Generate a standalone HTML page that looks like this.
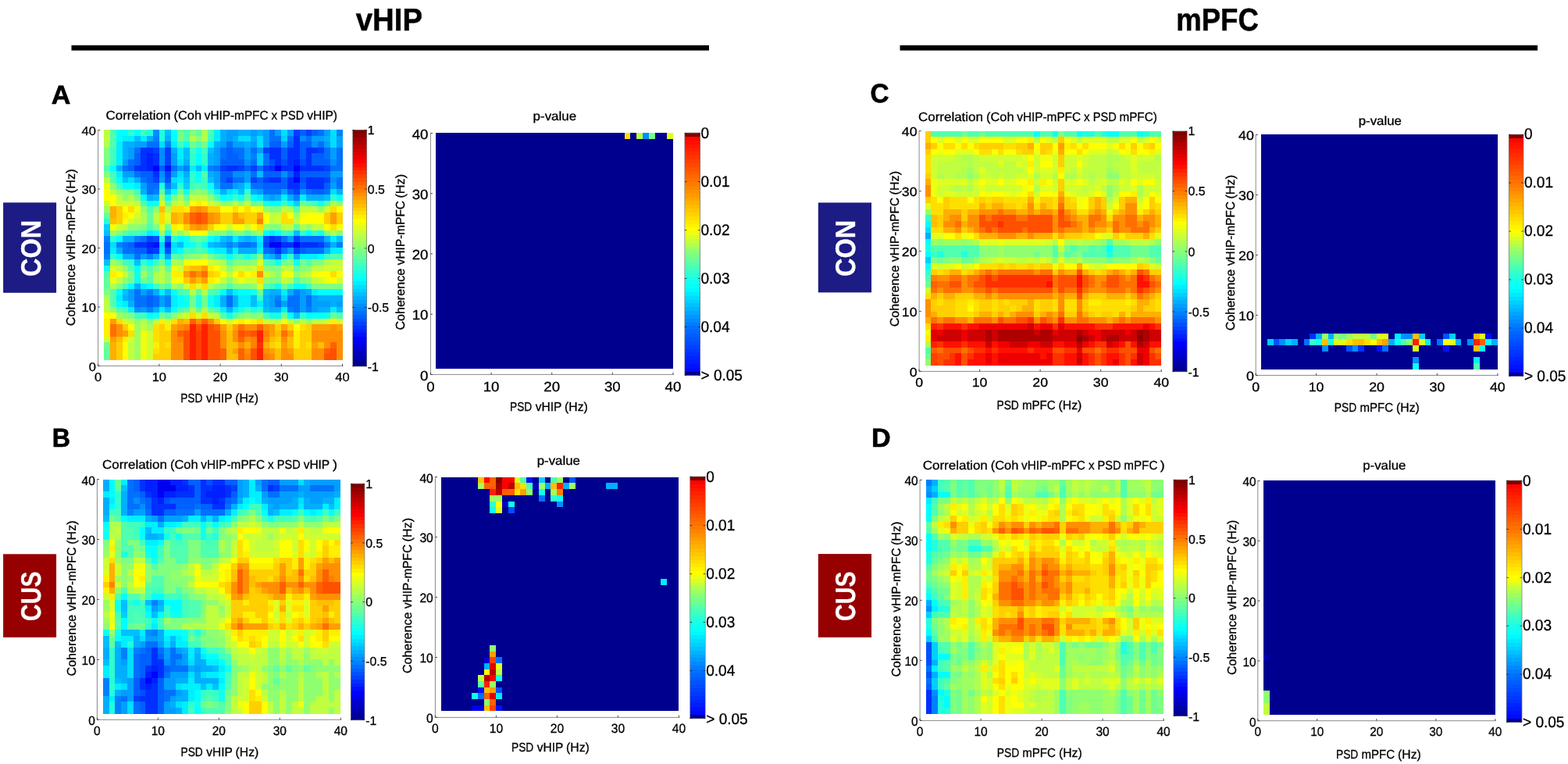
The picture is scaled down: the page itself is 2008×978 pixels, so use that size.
<!DOCTYPE html>
<html lang="en">
<head>
<meta charset="utf-8">
<title>Correlation between vHIP-mPFC coherence and PSD</title>
<style>
html,body{margin:0;padding:0;background:#fff;}
body{width:2008px;height:978px;overflow:hidden;}
svg{display:block;font-family:"Liberation Sans","DejaVu Sans",sans-serif;text-rendering:geometricPrecision;}
</style>
</head>
<body>
<svg width="2008" height="978" viewBox="0 0 2008 978">
<rect width="2008" height="978" fill="#fff"/>
<text x="455.81" y="38.5" font-size="40.5" textLength="85.26" lengthAdjust="spacingAndGlyphs" font-weight="bold" stroke="#000" stroke-width="0.5">vHIP</text>
<rect x="91.5" y="58" width="816.5" height="6.6" fill="#000"/>
<text x="1506.23" y="38.5" font-size="40.5" textLength="105.55" lengthAdjust="spacingAndGlyphs" font-weight="bold" stroke="#000" stroke-width="0.5">mPFC</text>
<rect x="1152.5" y="58" width="816.5" height="6.6" fill="#000"/>
<text x="65.75" y="132.5" font-size="33.8" textLength="24.68" lengthAdjust="spacingAndGlyphs" font-weight="bold" stroke="#000" stroke-width="0.7" stroke-linejoin="round">A</text>
<text x="66.68" y="571.5" font-size="33.8" textLength="23.26" lengthAdjust="spacingAndGlyphs" font-weight="bold" stroke="#000" stroke-width="0.7" stroke-linejoin="round">B</text>
<text x="1114.57" y="131" font-size="33.8" textLength="23.98" lengthAdjust="spacingAndGlyphs" font-weight="bold" stroke="#000" stroke-width="0.7" stroke-linejoin="round">C</text>
<text x="1116.1" y="571.5" font-size="33.8" textLength="24.64" lengthAdjust="spacingAndGlyphs" font-weight="bold" stroke="#000" stroke-width="0.7" stroke-linejoin="round">D</text>
<rect x="4.1" y="259.3" width="68" height="115.5" fill="#1c1c84"/>
<text x="50.3" y="352.7" font-size="35.8" textLength="72.18" lengthAdjust="spacingAndGlyphs" font-weight="bold" fill="#fff" stroke="#fff" stroke-width="0.3" transform="rotate(-90 51.6 352.7)">CON</text>
<rect x="4.1" y="709.3" width="68" height="106.6" fill="#960000"/>
<text x="50.4" y="793.7" font-size="35.8" textLength="63.37" lengthAdjust="spacingAndGlyphs" font-weight="bold" fill="#fff" stroke="#fff" stroke-width="0.3" transform="rotate(-90 51.6 793.7)">CUS</text>
<rect x="1047.8" y="259.4" width="68.2" height="115" fill="#1c1c84"/>
<text x="1094" y="352.7" font-size="35.8" textLength="72.18" lengthAdjust="spacingAndGlyphs" font-weight="bold" fill="#fff" stroke="#fff" stroke-width="0.3" transform="rotate(-90 1095.3 352.7)">CON</text>
<rect x="1047.8" y="709.1" width="68.2" height="106.8" fill="#960000"/>
<text x="1094.1" y="793.7" font-size="35.8" textLength="63.37" lengthAdjust="spacingAndGlyphs" font-weight="bold" fill="#fff" stroke="#fff" stroke-width="0.3" transform="rotate(-90 1095.3 793.7)">CUS</text>
<!-- A corr -->
<g transform="translate(133.05,166.2) scale(7.8321,7.5538)" shape-rendering="crispEdges">
<path fill="#0000ff" d="M8 6h1v1h-1zM28 6h1v1h-1zM31 6h1v1h-1zM31 8h1v1h-1zM27 19h2v1h-2zM31 19h1v1h-1z"/>
<path fill="#0010ff" d="M10 6h1v1h-1zM8 19h1v1h-1z"/>
<path fill="#0020ff" d="M7 4h1v1h-1zM7 5h1v1h-1zM31 5h1v1h-1zM7 6h1v1h-1zM31 7h1v1h-1zM7 19h1v1h-1zM10 19h1v1h-1z"/>
<path fill="#0030ff" d="M31 1h1v1h-1zM31 2h1v1h-1zM6 3h2v1h-2zM27 3h2v1h-2zM30 3h2v1h-2zM33 3h2v1h-2zM6 4h1v1h-1zM8 4h1v1h-1zM27 4h2v1h-2zM30 4h2v1h-2zM33 4h1v1h-1zM6 5h1v1h-1zM8 5h1v1h-1zM28 5h1v1h-1zM30 5h1v1h-1zM33 5h1v1h-1zM5 6h2v1h-2zM20 6h2v1h-2zM27 6h1v1h-1zM29 6h2v1h-2zM32 6h4v1h-4zM8 7h1v1h-1zM27 8h2v1h-2zM30 8h1v1h-1zM33 8h3v1h-3zM30 9h2v1h-2zM33 9h3v1h-3zM27 18h1v1h-1zM5 19h2v1h-2zM29 19h2v1h-2zM32 19h3v1h-3zM7 20h1v1h-1zM28 20h1v1h-1z"/>
<path fill="#0040ff" d="M31 0h1v1h-1zM33 0h1v1h-1zM8 3h1v1h-1zM10 3h1v1h-1zM26 3h1v1h-1zM35 3h1v1h-1zM10 4h1v1h-1zM10 5h1v1h-1zM19 6h1v1h-1zM22 6h1v1h-1zM24 6h1v1h-1zM26 6h1v1h-1zM36 6h1v1h-1zM10 7h1v1h-1zM8 8h1v1h-1zM20 8h1v1h-1zM24 8h1v1h-1zM26 8h1v1h-1zM36 8h1v1h-1zM31 10h1v1h-1zM7 18h1v1h-1zM28 18h1v1h-1zM31 18h1v1h-1zM26 19h1v1h-1zM35 19h1v1h-1zM8 20h1v1h-1zM31 20h1v1h-1z"/>
<path fill="#0050ff" d="M27 5h1v1h-1zM29 5h1v1h-1zM32 5h1v1h-1zM10 8h1v1h-1zM32 8h1v1h-1zM8 18h1v1h-1zM26 18h1v1h-1zM10 20h1v1h-1z"/>
<path fill="#0060ff" d="M32 0h1v1h-1zM34 0h1v1h-1zM27 2h2v1h-2zM30 2h1v1h-1zM32 2h2v1h-2zM20 3h1v1h-1zM29 3h1v1h-1zM32 3h1v1h-1zM5 4h1v1h-1zM20 4h2v1h-2zM29 4h1v1h-1zM32 4h1v1h-1zM34 4h2v1h-2zM5 5h1v1h-1zM19 5h4v1h-4zM34 5h3v1h-3zM4 6h1v1h-1zM9 6h1v1h-1zM23 6h1v1h-1zM6 7h2v1h-2zM19 7h2v1h-2zM26 7h3v1h-3zM30 7h1v1h-1zM32 7h5v1h-5zM7 8h1v1h-1zM19 8h1v1h-1zM25 8h1v1h-1zM29 8h1v1h-1zM26 9h4v1h-4zM32 9h1v1h-1zM36 9h1v1h-1zM30 10h1v1h-1zM34 10h2v1h-2zM10 18h1v1h-1zM4 19h1v1h-1zM5 20h2v1h-2zM27 20h1v1h-1zM32 20h1v1h-1zM7 28h1v1h-1zM7 29h1v1h-1z"/>
<path fill="#0070ff" d="M27 0h1v1h-1zM35 0h1v1h-1zM27 1h2v1h-2zM30 1h1v1h-1zM33 1h1v1h-1zM7 2h2v1h-2zM20 2h1v1h-1zM35 2h1v1h-1zM5 3h1v1h-1zM19 3h1v1h-1zM21 3h2v1h-2zM24 3h1v1h-1zM36 3h1v1h-1zM38 3h1v1h-1zM19 4h1v1h-1zM22 4h1v1h-1zM26 4h1v1h-1zM36 4h1v1h-1zM38 4h1v1h-1zM4 5h1v1h-1zM24 5h1v1h-1zM26 5h1v1h-1zM38 5h1v1h-1zM3 6h1v1h-1zM11 6h1v1h-1zM18 6h1v1h-1zM25 6h1v1h-1zM37 6h2v1h-2zM5 7h1v1h-1zM24 7h1v1h-1zM6 8h1v1h-1zM21 8h2v1h-2zM38 8h1v1h-1zM7 9h2v1h-2zM19 9h2v1h-2zM24 9h2v1h-2zM38 9h1v1h-1zM7 10h1v1h-1zM26 10h3v1h-3zM33 10h1v1h-1zM36 10h1v1h-1zM6 18h1v1h-1zM29 18h1v1h-1zM32 18h4v1h-4zM0 19h1v1h-1zM3 19h1v1h-1zM22 19h2v1h-2zM36 19h1v1h-1zM0 20h1v1h-1zM3 20h2v1h-2zM26 20h1v1h-1zM29 20h1v1h-1zM33 20h3v1h-3zM5 21h1v1h-1zM5 27h1v1h-1zM5 28h2v1h-2zM8 28h1v1h-1zM20 28h1v1h-1zM30 28h2v1h-2zM33 28h1v1h-1zM5 29h2v1h-2zM8 29h1v1h-1zM20 29h1v1h-1zM28 29h1v1h-1zM30 29h2v1h-2zM33 29h1v1h-1zM31 30h1v1h-1z"/>
<path fill="#0080ff" d="M38 0h1v1h-1zM8 1h1v1h-1zM10 2h1v1h-1zM24 4h1v1h-1zM13 6h1v1h-1zM17 6h1v1h-1zM10 9h1v1h-1zM8 10h1v1h-1zM31 11h1v1h-1zM0 18h1v1h-1zM5 18h1v1h-1zM2 19h1v1h-1zM20 19h1v1h-1zM24 19h1v1h-1zM38 19h1v1h-1zM0 21h1v1h-1zM7 21h1v1h-1zM28 21h1v1h-1zM7 27h1v1h-1zM31 27h1v1h-1zM10 28h1v1h-1zM28 28h1v1h-1zM10 29h1v1h-1zM7 30h1v1h-1zM30 30h1v1h-1zM33 30h1v1h-1z"/>
<path fill="#008fff" d="M8 0h1v1h-1zM32 1h1v1h-1zM34 2h1v1h-1zM9 3h1v1h-1zM9 4h1v1h-1zM9 5h1v1h-1zM23 5h1v1h-1zM37 5h1v1h-1zM9 7h1v1h-1zM21 7h2v1h-2zM29 7h1v1h-1zM37 8h1v1h-1zM32 10h1v1h-1zM5 30h1v1h-1z"/>
<path fill="#009fff" d="M20 0h2v1h-2zM24 0h1v1h-1zM26 0h1v1h-1zM28 0h1v1h-1zM30 0h1v1h-1zM36 0h1v1h-1zM20 1h1v1h-1zM26 1h1v1h-1zM34 1h2v1h-2zM38 1h1v1h-1zM5 2h2v1h-2zM19 2h1v1h-1zM21 2h2v1h-2zM24 2h1v1h-1zM26 2h1v1h-1zM29 2h1v1h-1zM36 2h1v1h-1zM38 2h1v1h-1zM4 3h1v1h-1zM18 3h1v1h-1zM23 3h1v1h-1zM25 3h1v1h-1zM37 3h1v1h-1zM4 4h1v1h-1zM11 4h1v1h-1zM18 4h1v1h-1zM23 4h1v1h-1zM37 4h1v1h-1zM3 5h1v1h-1zM11 5h1v1h-1zM18 5h1v1h-1zM12 6h1v1h-1zM3 7h2v1h-2zM11 7h1v1h-1zM18 7h1v1h-1zM23 7h1v1h-1zM37 7h2v1h-2zM9 8h1v1h-1zM18 8h1v1h-1zM23 8h1v1h-1zM6 9h1v1h-1zM21 9h1v1h-1zM37 9h1v1h-1zM25 10h1v1h-1zM29 10h1v1h-1zM27 11h1v1h-1zM30 18h1v1h-1zM19 19h1v1h-1zM21 19h1v1h-1zM30 20h1v1h-1zM6 21h1v1h-1zM10 21h1v1h-1zM4 27h1v1h-1zM6 27h1v1h-1zM32 27h1v1h-1zM4 28h1v1h-1zM9 28h1v1h-1zM27 28h1v1h-1zM32 28h1v1h-1zM34 28h1v1h-1zM9 29h1v1h-1zM27 29h1v1h-1zM29 29h1v1h-1zM32 29h1v1h-1zM34 29h3v1h-3zM38 29h1v1h-1zM6 30h1v1h-1zM32 30h1v1h-1zM34 30h1v1h-1z"/>
<path fill="#00afff" d="M19 0h1v1h-1zM22 0h2v1h-2zM25 0h1v1h-1zM7 1h1v1h-1zM10 1h1v1h-1zM19 1h1v1h-1zM21 1h1v1h-1zM24 1h1v1h-1zM36 1h1v1h-1zM3 2h2v1h-2zM18 2h1v1h-1zM23 2h1v1h-1zM3 3h1v1h-1zM11 3h1v1h-1zM3 4h1v1h-1zM17 4h1v1h-1zM13 5h1v1h-1zM17 5h1v1h-1zM2 6h1v1h-1zM13 7h1v1h-1zM17 7h1v1h-1zM5 8h1v1h-1zM18 9h1v1h-1zM22 9h1v1h-1zM6 10h1v1h-1zM19 10h1v1h-1zM24 10h1v1h-1zM38 10h1v1h-1zM7 11h1v1h-1zM26 11h1v1h-1zM28 11h1v1h-1zM30 11h1v1h-1zM33 11h3v1h-3zM3 18h2v1h-2zM20 18h1v1h-1zM23 18h1v1h-1zM36 18h1v1h-1zM18 19h1v1h-1zM37 19h1v1h-1zM2 20h1v1h-1zM20 20h1v1h-1zM22 20h3v1h-3zM36 20h1v1h-1zM3 21h2v1h-2zM8 21h1v1h-1zM27 21h1v1h-1zM31 21h1v1h-1zM5 26h1v1h-1zM8 27h1v1h-1zM27 27h2v1h-2zM30 27h1v1h-1zM33 27h1v1h-1zM3 28h1v1h-1zM19 28h1v1h-1zM21 28h1v1h-1zM26 28h1v1h-1zM35 28h4v1h-4zM4 29h1v1h-1zM19 29h1v1h-1zM21 29h1v1h-1zM26 29h1v1h-1zM37 29h1v1h-1zM8 30h1v1h-1zM20 30h1v1h-1zM27 30h2v1h-2zM35 30h2v1h-2z"/>
<path fill="#00bfff" d="M10 0h1v1h-1zM5 1h1v1h-1zM13 3h1v1h-1zM17 3h1v1h-1zM13 4h1v1h-1zM15 6h1v1h-1zM25 7h1v1h-1zM3 8h1v1h-1zM13 8h1v1h-1zM17 8h1v1h-1zM11 9h1v1h-1zM10 10h1v1h-1zM22 10h1v1h-1zM8 11h1v1h-1zM36 11h1v1h-1zM0 17h1v1h-1zM31 17h1v1h-1zM19 18h1v1h-1zM22 18h1v1h-1zM24 18h1v1h-1zM38 18h1v1h-1zM12 19h1v1h-1zM17 19h1v1h-1zM26 21h1v1h-1zM0 22h1v1h-1zM5 22h1v1h-1zM3 27h1v1h-1zM10 27h1v1h-1zM20 27h1v1h-1zM26 27h1v1h-1zM24 28h1v1h-1zM24 29h1v1h-1zM10 30h1v1h-1zM26 30h1v1h-1zM38 30h1v1h-1zM31 31h1v1h-1z"/>
<path fill="#00cfff" d="M29 1h1v1h-1zM25 4h1v1h-1zM25 5h1v1h-1zM13 9h1v1h-1zM31 12h1v1h-1zM0 16h1v1h-1zM9 19h1v1h-1zM29 28h1v1h-1z"/>
<path fill="#00dfff" d="M29 0h1v1h-1zM37 0h1v1h-1zM22 1h2v1h-2zM25 1h1v1h-1zM37 1h1v1h-1zM9 2h1v1h-1zM25 2h1v1h-1zM37 2h1v1h-1zM12 5h1v1h-1zM12 7h1v1h-1zM4 8h1v1h-1zM11 8h1v1h-1zM23 9h1v1h-1zM20 10h1v1h-1zM37 10h1v1h-1zM1 19h1v1h-1zM11 19h1v1h-1zM25 19h1v1h-1zM9 20h1v1h-1z"/>
<path fill="#00efff" d="M18 0h1v1h-1zM3 1h2v1h-2zM6 1h1v1h-1zM18 1h1v1h-1zM2 2h1v1h-1zM11 2h1v1h-1zM2 3h1v1h-1zM12 3h1v1h-1zM2 4h1v1h-1zM12 4h1v1h-1zM2 5h1v1h-1zM14 6h1v1h-1zM16 6h1v1h-1zM2 7h1v1h-1zM12 8h1v1h-1zM5 9h1v1h-1zM18 10h1v1h-1zM21 10h1v1h-1zM25 11h1v1h-1zM29 11h1v1h-1zM32 11h1v1h-1zM7 17h1v1h-1zM27 17h1v1h-1zM18 18h1v1h-1zM21 18h1v1h-1zM25 18h1v1h-1zM37 18h1v1h-1zM1 20h1v1h-1zM11 20h1v1h-1zM18 20h2v1h-2zM21 20h1v1h-1zM25 20h1v1h-1zM37 20h2v1h-2zM29 21h1v1h-1zM32 21h3v1h-3zM6 26h1v1h-1zM9 27h1v1h-1zM21 27h1v1h-1zM29 27h1v1h-1zM34 27h1v1h-1zM2 28h1v1h-1zM11 28h1v1h-1zM18 28h1v1h-1zM22 28h2v1h-2zM3 29h1v1h-1zM11 29h1v1h-1zM18 29h1v1h-1zM22 29h2v1h-2zM25 29h1v1h-1zM4 30h1v1h-1zM9 30h1v1h-1zM19 30h1v1h-1zM21 30h1v1h-1zM29 30h1v1h-1zM37 30h1v1h-1z"/>
<path fill="#00ffff" d="M2 0h2v1h-2zM5 0h1v1h-1zM11 0h1v1h-1zM2 1h1v1h-1zM11 1h1v1h-1zM17 2h1v1h-1zM15 4h1v1h-1zM15 5h1v1h-1zM1 6h1v1h-1zM15 7h1v1h-1zM2 8h1v1h-1zM3 9h2v1h-2zM17 9h1v1h-1zM11 10h1v1h-1zM6 11h1v1h-1zM19 11h1v1h-1zM24 11h1v1h-1zM38 11h1v1h-1zM7 12h1v1h-1zM27 12h2v1h-2zM30 12h1v1h-1zM8 17h1v1h-1zM26 17h1v1h-1zM28 17h1v1h-1zM33 17h1v1h-1zM2 18h1v1h-1zM12 18h1v1h-1zM17 18h1v1h-1zM13 19h1v1h-1zM16 19h1v1h-1zM12 20h1v1h-1zM17 20h1v1h-1zM2 21h1v1h-1zM20 21h1v1h-1zM35 21h1v1h-1zM7 22h1v1h-1zM5 23h1v1h-1zM4 26h1v1h-1zM7 26h1v1h-1zM31 26h2v1h-2zM2 27h1v1h-1zM11 27h1v1h-1zM19 27h1v1h-1zM22 27h2v1h-2zM35 27h4v1h-4zM12 28h1v1h-1zM2 29h1v1h-1zM12 29h1v1h-1zM11 30h1v1h-1zM7 31h1v1h-1zM30 31h1v1h-1zM33 31h3v1h-3z"/>
<path fill="#10ffef" d="M13 2h1v1h-1zM15 3h1v1h-1zM15 8h1v1h-1zM13 10h1v1h-1zM10 11h1v1h-1zM20 11h1v1h-1zM22 11h1v1h-1zM8 12h1v1h-1zM26 12h1v1h-1zM35 12h1v1h-1zM10 17h1v1h-1zM35 17h1v1h-1zM13 18h1v1h-1zM14 19h1v1h-1zM23 21h1v1h-1zM10 22h1v1h-1zM28 22h1v1h-1zM31 22h1v1h-1zM0 23h1v1h-1zM5 24h1v1h-1zM5 25h1v1h-1zM28 26h1v1h-1zM24 27h1v1h-1zM13 28h1v1h-1zM17 28h1v1h-1zM13 29h1v1h-1zM17 29h1v1h-1zM22 30h1v1h-1zM24 30h1v1h-1zM8 31h1v1h-1zM20 31h1v1h-1zM27 31h2v1h-2zM36 31h1v1h-1z"/>
<path fill="#20ffdf" d="M7 0h1v1h-1zM9 0h1v1h-1zM9 1h1v1h-1zM9 9h1v1h-1zM0 15h1v1h-1zM9 18h1v1h-1zM9 21h1v1h-1zM15 28h1v1h-1zM15 29h1v1h-1z"/>
<path fill="#30ffcf" d="M4 0h1v1h-1zM14 4h1v1h-1zM16 4h1v1h-1zM14 5h1v1h-1zM16 5h1v1h-1zM14 7h1v1h-1zM14 8h1v1h-1zM12 9h1v1h-1zM23 10h1v1h-1zM37 11h1v1h-1zM6 17h1v1h-1zM30 17h1v1h-1zM32 17h1v1h-1zM34 17h1v1h-1zM1 18h1v1h-1zM11 18h1v1h-1zM1 21h1v1h-1zM30 21h1v1h-1zM4 22h1v1h-1zM6 22h1v1h-1zM25 28h1v1h-1zM25 30h1v1h-1zM32 31h1v1h-1z"/>
<path fill="#40ffbf" d="M6 0h1v1h-1zM17 1h1v1h-1zM12 2h1v1h-1zM1 3h1v1h-1zM14 3h1v1h-1zM16 3h1v1h-1zM1 4h1v1h-1zM1 5h1v1h-1zM1 7h1v1h-1zM16 8h1v1h-1zM2 9h1v1h-1zM14 9h1v1h-1zM16 9h1v1h-1zM5 10h1v1h-1zM17 10h1v1h-1zM21 11h1v1h-1zM29 12h1v1h-1zM34 12h1v1h-1zM4 17h2v1h-2zM29 17h1v1h-1zM15 19h1v1h-1zM13 20h2v1h-2zM16 20h1v1h-1zM19 21h1v1h-1zM21 21h2v1h-2zM24 21h1v1h-1zM36 21h1v1h-1zM3 22h1v1h-1zM8 22h1v1h-1zM27 22h1v1h-1zM3 26h1v1h-1zM8 26h1v1h-1zM27 26h1v1h-1zM30 26h1v1h-1zM33 26h1v1h-1zM12 27h1v1h-1zM18 27h1v1h-1zM3 30h1v1h-1zM12 30h1v1h-1zM18 30h1v1h-1zM23 30h1v1h-1zM5 31h2v1h-2zM26 31h1v1h-1z"/>
<path fill="#50ffaf" d="M1 0h1v1h-1zM13 0h1v1h-1zM17 0h1v1h-1zM1 1h1v1h-1zM13 1h1v1h-1zM1 2h1v1h-1zM15 2h1v1h-1zM0 6h1v1h-1zM16 7h1v1h-1zM1 8h1v1h-1zM15 9h1v1h-1zM18 11h1v1h-1zM6 12h1v1h-1zM33 12h1v1h-1zM36 12h1v1h-1zM7 13h1v1h-1zM31 13h1v1h-1zM7 16h1v1h-1zM3 17h1v1h-1zM20 17h1v1h-1zM23 17h1v1h-1zM14 18h1v1h-1zM16 18h1v1h-1zM15 20h1v1h-1zM12 21h1v1h-1zM18 21h1v1h-1zM37 21h2v1h-2zM20 22h1v1h-1zM26 22h1v1h-1zM33 22h1v1h-1zM4 23h1v1h-1zM7 23h1v1h-1zM0 24h1v1h-1zM7 25h1v1h-1zM31 25h1v1h-1zM10 26h1v1h-1zM20 26h1v1h-1zM26 26h1v1h-1zM1 27h1v1h-1zM13 27h1v1h-1zM17 27h1v1h-1zM1 28h1v1h-1zM1 29h1v1h-1zM2 30h1v1h-1zM10 31h1v1h-1zM19 31h1v1h-1zM21 31h1v1h-1zM38 31h1v1h-1z"/>
<path fill="#60ff9f" d="M15 0h1v1h-1zM9 10h1v1h-1zM13 11h1v1h-1zM10 12h1v1h-1zM24 12h1v1h-1zM0 14h1v1h-1zM7 14h1v1h-1zM7 15h1v1h-1zM31 16h1v1h-1zM15 18h1v1h-1zM11 21h1v1h-1zM10 23h1v1h-1zM31 23h1v1h-1zM7 24h1v1h-1zM0 25h1v1h-1zM0 26h1v1h-1zM15 27h1v1h-1zM13 30h1v1h-1zM15 30h1v1h-1zM17 30h1v1h-1zM0 37h1v1h-1zM0 38h1v1h-1z"/>
<path fill="#70ff8f" d="M12 0h1v1h-1zM12 1h1v1h-1zM14 2h1v1h-1zM16 2h1v1h-1zM12 10h1v1h-1zM23 11h1v1h-1zM25 12h1v1h-1zM32 12h1v1h-1zM10 16h1v1h-1zM9 22h1v1h-1zM29 22h1v1h-1zM32 22h1v1h-1zM6 23h1v1h-1zM4 25h1v1h-1zM6 25h1v1h-1zM9 26h1v1h-1zM29 26h1v1h-1zM25 27h1v1h-1zM14 28h1v1h-1zM16 28h1v1h-1zM14 29h1v1h-1zM16 29h1v1h-1zM9 31h1v1h-1zM29 31h1v1h-1zM37 31h1v1h-1zM0 36h1v1h-1z"/>
<path fill="#80ff80" d="M14 0h1v1h-1zM0 3h1v1h-1zM0 4h1v1h-1zM0 5h1v1h-1zM0 7h1v1h-1zM3 10h2v1h-2zM14 10h1v1h-1zM16 10h1v1h-1zM5 11h1v1h-1zM11 11h1v1h-1zM27 13h2v1h-2zM6 16h1v1h-1zM8 16h1v1h-1zM27 16h2v1h-2zM2 17h1v1h-1zM18 17h2v1h-2zM21 17h2v1h-2zM24 17h1v1h-1zM36 17h1v1h-1zM38 17h1v1h-1zM13 21h1v1h-1zM17 21h1v1h-1zM2 22h1v1h-1zM21 22h3v1h-3zM30 22h1v1h-1zM34 22h2v1h-2zM8 23h1v1h-1zM27 23h2v1h-2zM32 23h1v1h-1zM4 24h1v1h-1zM27 25h2v1h-2zM32 25h1v1h-1zM2 26h1v1h-1zM19 26h1v1h-1zM21 26h3v1h-3zM34 26h5v1h-5zM0 27h1v1h-1zM4 31h1v1h-1zM22 31h1v1h-1zM24 31h1v1h-1zM7 32h1v1h-1z"/>
<path fill="#8fff70" d="M15 1h1v1h-1zM1 9h1v1h-1zM2 10h1v1h-1zM15 10h1v1h-1zM3 11h1v1h-1zM17 11h1v1h-1zM19 12h2v1h-2zM22 12h1v1h-1zM38 12h1v1h-1zM6 13h1v1h-1zM8 13h1v1h-1zM26 13h1v1h-1zM35 13h1v1h-1zM4 16h2v1h-2zM26 16h1v1h-1zM33 16h1v1h-1zM12 17h1v1h-1zM17 17h1v1h-1zM14 21h2v1h-2zM25 21h1v1h-1zM24 22h1v1h-1zM3 23h1v1h-1zM20 23h1v1h-1zM26 23h1v1h-1zM33 23h1v1h-1zM10 24h1v1h-1zM28 24h1v1h-1zM31 24h1v1h-1zM3 25h1v1h-1zM10 25h1v1h-1zM20 25h1v1h-1zM26 25h1v1h-1zM33 25h1v1h-1zM12 26h1v1h-1zM18 26h1v1h-1zM24 26h1v1h-1zM1 30h1v1h-1zM3 31h1v1h-1zM11 31h1v1h-1zM23 31h1v1h-1zM25 31h1v1h-1zM5 32h1v1h-1zM31 32h1v1h-1zM33 32h1v1h-1z"/>
<path fill="#9fff60" d="M9 11h1v1h-1zM13 12h1v1h-1zM0 13h1v1h-1zM31 14h1v1h-1zM1 17h1v1h-1zM9 17h1v1h-1zM25 17h1v1h-1zM1 22h1v1h-1zM12 22h1v1h-1zM6 24h1v1h-1zM2 31h1v1h-1zM5 33h1v1h-1zM7 33h1v1h-1zM5 34h1v1h-1zM5 35h1v1h-1zM5 36h1v1h-1zM5 37h1v1h-1zM5 38h1v1h-1z"/>
<path fill="#afff50" d="M16 0h1v1h-1zM14 1h1v1h-1zM16 1h1v1h-1zM0 2h1v1h-1zM4 11h1v1h-1zM12 11h1v1h-1zM37 12h1v1h-1zM10 13h1v1h-1zM30 13h1v1h-1zM6 14h1v1h-1zM6 15h1v1h-1zM32 16h1v1h-1zM11 17h1v1h-1zM37 17h1v1h-1zM16 21h1v1h-1zM11 22h1v1h-1zM19 22h1v1h-1zM36 22h1v1h-1zM9 23h1v1h-1zM8 24h1v1h-1zM27 24h1v1h-1zM32 24h1v1h-1zM8 25h1v1h-1zM30 25h1v1h-1zM1 26h1v1h-1zM11 26h1v1h-1zM14 27h1v1h-1zM16 27h1v1h-1zM0 28h1v1h-1zM14 30h1v1h-1zM16 30h1v1h-1zM6 32h1v1h-1z"/>
<path fill="#bfff40" d="M0 0h1v1h-1zM0 1h1v1h-1zM0 8h1v1h-1zM1 10h1v1h-1zM2 11h1v1h-1zM14 11h3v1h-3zM5 12h1v1h-1zM11 12h1v1h-1zM18 12h1v1h-1zM21 12h1v1h-1zM23 12h1v1h-1zM29 13h1v1h-1zM32 13h3v1h-3zM8 14h1v1h-1zM27 14h1v1h-1zM5 15h1v1h-1zM8 15h1v1h-1zM27 15h1v1h-1zM31 15h1v1h-1zM3 16h1v1h-1zM29 16h2v1h-2zM34 16h2v1h-2zM13 17h1v1h-1zM18 22h1v1h-1zM37 22h2v1h-2zM2 23h1v1h-1zM21 23h1v1h-1zM23 23h1v1h-1zM29 23h2v1h-2zM34 23h2v1h-2zM3 24h1v1h-1zM9 24h1v1h-1zM20 24h1v1h-1zM33 24h1v1h-1zM2 25h1v1h-1zM9 25h1v1h-1zM19 25h1v1h-1zM21 25h1v1h-1zM29 25h1v1h-1zM34 25h1v1h-1zM17 26h1v1h-1zM0 29h1v1h-1zM0 30h1v1h-1zM12 31h1v1h-1zM18 31h1v1h-1zM4 32h1v1h-1zM8 32h1v1h-1zM27 32h2v1h-2zM30 32h1v1h-1zM32 32h1v1h-1zM34 32h2v1h-2zM6 33h1v1h-1zM4 36h1v1h-1zM4 37h1v1h-1zM4 38h1v1h-1z"/>
<path fill="#cfff30" d="M0 12h1v1h-1zM2 12h3v1h-3zM12 12h1v1h-1zM17 12h1v1h-1zM36 13h1v1h-1zM5 14h1v1h-1zM28 14h1v1h-1zM4 15h1v1h-1zM10 15h1v1h-1zM28 15h1v1h-1zM2 16h1v1h-1zM20 16h1v1h-1zM23 16h1v1h-1zM17 22h1v1h-1zM12 23h1v1h-1zM19 23h1v1h-1zM22 23h1v1h-1zM24 23h1v1h-1zM36 23h3v1h-3zM26 24h1v1h-1zM23 25h2v1h-2zM35 25h1v1h-1zM38 25h1v1h-1zM13 26h1v1h-1zM13 31h1v1h-1zM17 31h1v1h-1zM3 32h1v1h-1zM10 32h1v1h-1zM20 32h1v1h-1zM26 32h1v1h-1zM36 32h1v1h-1zM38 32h1v1h-1zM7 34h1v1h-1zM0 35h1v1h-1zM4 35h1v1h-1zM7 35h1v1h-1zM7 36h1v1h-1zM7 37h1v1h-1zM7 38h1v1h-1z"/>
<path fill="#dfff20" d="M9 12h1v1h-1zM10 14h1v1h-1zM9 16h1v1h-1zM25 22h1v1h-1zM1 23h1v1h-1zM15 26h1v1h-1zM25 26h1v1h-1zM15 31h1v1h-1z"/>
<path fill="#efff10" d="M0 9h1v1h-1zM5 13h1v1h-1zM25 13h1v1h-1zM32 14h1v1h-1zM16 17h1v1h-1zM13 22h1v1h-1zM11 23h1v1h-1zM29 24h2v1h-2zM34 24h1v1h-1zM1 25h1v1h-1zM11 25h1v1h-1zM22 25h1v1h-1zM36 25h1v1h-1zM29 32h1v1h-1zM6 34h1v1h-1zM6 35h1v1h-1zM6 36h1v1h-1zM6 37h1v1h-1zM6 38h1v1h-1z"/>
<path fill="#ffff00" d="M0 10h1v1h-1zM0 11h2v1h-2zM1 12h1v1h-1zM14 12h1v1h-1zM16 12h1v1h-1zM3 13h1v1h-1zM19 13h2v1h-2zM22 13h1v1h-1zM24 13h1v1h-1zM38 13h1v1h-1zM4 14h1v1h-1zM26 14h1v1h-1zM30 14h1v1h-1zM33 14h3v1h-3zM3 15h1v1h-1zM26 15h1v1h-1zM32 15h4v1h-4zM1 16h1v1h-1zM12 16h1v1h-1zM18 16h2v1h-2zM21 16h2v1h-2zM24 16h1v1h-1zM36 16h1v1h-1zM38 16h1v1h-1zM14 17h2v1h-2zM14 22h3v1h-3zM18 23h1v1h-1zM2 24h1v1h-1zM19 24h1v1h-1zM21 24h1v1h-1zM23 24h1v1h-1zM35 24h2v1h-2zM38 24h1v1h-1zM12 25h1v1h-1zM18 25h1v1h-1zM37 25h1v1h-1zM0 31h2v1h-2zM19 32h1v1h-1zM21 32h1v1h-1zM23 32h1v1h-1zM4 33h1v1h-1zM31 33h1v1h-1zM3 36h1v1h-1zM3 37h1v1h-1zM3 38h1v1h-1z"/>
<path fill="#ffef00" d="M15 12h1v1h-1zM13 13h1v1h-1zM3 14h1v1h-1zM11 16h1v1h-1zM17 23h1v1h-1zM1 24h1v1h-1zM11 24h2v1h-2zM24 24h1v1h-1zM17 25h1v1h-1zM0 32h1v1h-1zM9 32h1v1h-1zM22 32h1v1h-1zM24 32h1v1h-1zM37 32h1v1h-1zM0 33h1v1h-1zM10 33h1v1h-1zM0 34h1v1h-1zM31 34h1v1h-1zM3 35h1v1h-1zM31 35h1v1h-1zM8 36h1v1h-1zM31 36h1v1h-1z"/>
<path fill="#ffdf00" d="M4 13h1v1h-1zM11 13h2v1h-2zM21 13h1v1h-1zM23 13h1v1h-1zM37 13h1v1h-1zM9 14h1v1h-1zM29 14h1v1h-1zM9 15h1v1h-1zM29 15h2v1h-2zM25 16h1v1h-1zM37 16h1v1h-1zM25 23h1v1h-1zM18 24h1v1h-1zM22 24h1v1h-1zM37 24h1v1h-1zM25 25h1v1h-1zM14 26h1v1h-1zM16 26h1v1h-1zM14 31h1v1h-1zM16 31h1v1h-1zM2 32h1v1h-1zM11 32h1v1h-1zM25 32h1v1h-1zM8 33h1v1h-1zM32 33h1v1h-1zM4 34h1v1h-1zM8 34h1v1h-1zM8 35h1v1h-1zM10 36h1v1h-1zM28 36h1v1h-1zM33 36h1v1h-1zM8 37h1v1h-1z"/>
<path fill="#ffcf00" d="M2 13h1v1h-1zM17 13h2v1h-2zM2 14h1v1h-1zM19 14h2v1h-2zM23 14h2v1h-2zM36 14h1v1h-1zM38 14h1v1h-1zM2 15h1v1h-1zM19 15h2v1h-2zM23 15h2v1h-2zM36 15h1v1h-1zM38 15h1v1h-1zM13 16h1v1h-1zM17 16h1v1h-1zM13 23h1v1h-1zM17 24h1v1h-1zM13 25h1v1h-1zM18 32h1v1h-1zM3 33h1v1h-1zM9 33h1v1h-1zM20 33h1v1h-1zM28 33h1v1h-1zM30 33h1v1h-1zM33 33h1v1h-1zM9 34h2v1h-2zM32 34h2v1h-2zM9 35h2v1h-2zM28 35h1v1h-1zM32 35h2v1h-2zM2 36h1v1h-1zM9 36h1v1h-1zM27 36h1v1h-1zM32 36h1v1h-1zM2 37h1v1h-1zM9 37h2v1h-2zM31 37h3v1h-3zM2 38h1v1h-1zM8 38h3v1h-3zM31 38h3v1h-3z"/>
<path fill="#ffbf00" d="M9 13h1v1h-1zM12 14h1v1h-1zM22 14h1v1h-1zM1 15h1v1h-1zM12 15h1v1h-1zM14 23h2v1h-2zM15 25h1v1h-1zM13 32h1v1h-1zM20 34h1v1h-1zM28 34h1v1h-1zM2 35h1v1h-1zM20 35h1v1h-1zM27 35h1v1h-1zM30 35h1v1h-1zM20 36h2v1h-2zM30 36h1v1h-1zM35 36h1v1h-1zM20 37h1v1h-1zM28 37h1v1h-1zM20 38h2v1h-2zM28 38h1v1h-1z"/>
<path fill="#ffaf00" d="M1 13h1v1h-1zM1 14h1v1h-1zM11 14h1v1h-1zM11 15h1v1h-1zM12 32h1v1h-1zM1 36h1v1h-1zM23 36h1v1h-1zM26 36h1v1h-1zM1 37h1v1h-1zM1 38h1v1h-1z"/>
<path fill="#ff9f00" d="M14 13h1v1h-1zM16 13h1v1h-1zM18 14h1v1h-1zM21 14h1v1h-1zM25 14h1v1h-1zM37 14h1v1h-1zM18 15h1v1h-1zM21 15h2v1h-2zM37 15h1v1h-1zM14 16h1v1h-1zM16 16h1v1h-1zM16 23h1v1h-1zM13 24h1v1h-1zM14 25h1v1h-1zM16 25h1v1h-1zM1 32h1v1h-1zM11 33h1v1h-1zM19 33h1v1h-1zM21 33h1v1h-1zM27 33h1v1h-1zM29 33h1v1h-1zM34 33h3v1h-3zM38 33h1v1h-1zM3 34h1v1h-1zM27 34h1v1h-1zM30 34h1v1h-1zM1 35h1v1h-1zM29 36h1v1h-1zM34 36h1v1h-1zM21 37h1v1h-1zM27 37h1v1h-1zM30 37h1v1h-1z"/>
<path fill="#ff8f00" d="M15 13h1v1h-1zM13 14h1v1h-1zM17 14h1v1h-1zM13 15h1v1h-1zM17 15h1v1h-1zM15 16h1v1h-1zM15 24h1v1h-1zM25 24h1v1h-1zM15 32h1v1h-1zM17 32h1v1h-1zM2 33h1v1h-1zM12 33h1v1h-1zM23 33h2v1h-2zM26 33h1v1h-1zM37 33h1v1h-1zM2 34h1v1h-1zM11 34h1v1h-1zM19 34h1v1h-1zM21 34h1v1h-1zM34 34h5v1h-5zM11 35h1v1h-1zM19 35h1v1h-1zM21 35h1v1h-1zM23 35h1v1h-1zM26 35h1v1h-1zM29 35h1v1h-1zM34 35h5v1h-5zM11 36h2v1h-2zM19 36h1v1h-1zM22 36h1v1h-1zM36 36h1v1h-1zM38 36h1v1h-1zM11 37h2v1h-2zM23 37h1v1h-1zM26 37h1v1h-1zM29 37h1v1h-1zM34 37h2v1h-2zM38 37h1v1h-1zM11 38h2v1h-2zM27 38h1v1h-1zM29 38h2v1h-2zM34 38h2v1h-2zM38 38h1v1h-1z"/>
<path fill="#ff8000" d="M25 15h1v1h-1zM13 33h1v1h-1zM26 34h1v1h-1zM12 35h1v1h-1zM24 35h1v1h-1zM24 36h1v1h-1zM23 38h1v1h-1zM26 38h1v1h-1z"/>
<path fill="#ff7000" d="M14 24h1v1h-1zM16 24h1v1h-1zM1 33h1v1h-1zM22 33h1v1h-1zM1 34h1v1h-1zM29 34h1v1h-1z"/>
<path fill="#ff6000" d="M14 14h1v1h-1zM16 14h1v1h-1zM14 15h1v1h-1zM16 15h1v1h-1zM14 32h1v1h-1zM16 32h1v1h-1zM18 33h1v1h-1zM25 33h1v1h-1zM12 34h1v1h-1zM23 34h1v1h-1zM22 35h1v1h-1zM37 36h1v1h-1zM19 37h1v1h-1zM22 37h1v1h-1zM36 37h1v1h-1zM19 38h1v1h-1zM22 38h1v1h-1z"/>
<path fill="#ff5000" d="M15 14h1v1h-1zM15 15h1v1h-1zM15 33h1v1h-1zM17 33h1v1h-1zM13 34h1v1h-1zM17 34h2v1h-2zM22 34h1v1h-1zM24 34h1v1h-1zM13 35h1v1h-1zM17 35h2v1h-2zM13 36h1v1h-1zM17 36h2v1h-2zM13 37h1v1h-1zM17 37h2v1h-2zM24 37h1v1h-1zM37 37h1v1h-1zM13 38h1v1h-1zM17 38h2v1h-2zM24 38h1v1h-1zM36 38h2v1h-2z"/>
<path fill="#ff4000" d="M15 34h1v1h-1zM15 35h1v1h-1zM15 36h1v1h-1zM15 37h1v1h-1zM15 38h1v1h-1z"/>
<path fill="#ff3000" d="M25 36h1v1h-1z"/>
<path fill="#ff2000" d="M14 33h1v1h-1zM16 33h1v1h-1zM14 34h1v1h-1zM16 34h1v1h-1zM25 34h1v1h-1zM14 35h1v1h-1zM16 35h1v1h-1zM25 35h1v1h-1zM14 36h1v1h-1zM16 36h1v1h-1zM14 37h1v1h-1zM16 37h1v1h-1zM25 37h1v1h-1zM14 38h1v1h-1zM16 38h1v1h-1zM25 38h1v1h-1z"/>
</g>
<path d="M125.6 166.3V468.4H439.5" fill="none" stroke="#8a8a8a" stroke-width="1"/>
<path d="M125.6 468.4v-2.6M125.6 468.4h2.6M203.82 468.4v-2.6M125.6 392.95h2.6M282.05 468.4v-2.6M125.6 317.5h2.6M360.27 468.4v-2.6M125.6 242.05h2.6M438.5 468.4v-2.6M125.6 166.6h2.6" stroke="#333" stroke-width="0.9" fill="none"/>
<text x="125.6" y="488.1" font-size="15.5" text-anchor="middle" textLength="9.16" lengthAdjust="spacingAndGlyphs" stroke="#000" stroke-width="0.3">0</text>
<text x="122.84" y="474.75" font-size="15.5" text-anchor="end" textLength="9.16" lengthAdjust="spacingAndGlyphs" stroke="#000" stroke-width="0.3">0</text>
<text x="203.82" y="488.1" font-size="15.5" text-anchor="middle" textLength="18.33" lengthAdjust="spacingAndGlyphs" stroke="#000" stroke-width="0.3">10</text>
<text x="122.84" y="399.3" font-size="15.5" text-anchor="end" textLength="18.33" lengthAdjust="spacingAndGlyphs" stroke="#000" stroke-width="0.3">10</text>
<text x="282.05" y="488.1" font-size="15.5" text-anchor="middle" textLength="18.33" lengthAdjust="spacingAndGlyphs" stroke="#000" stroke-width="0.3">20</text>
<text x="122.84" y="323.85" font-size="15.5" text-anchor="end" textLength="18.33" lengthAdjust="spacingAndGlyphs" stroke="#000" stroke-width="0.3">20</text>
<text x="360.27" y="488.1" font-size="15.5" text-anchor="middle" textLength="18.33" lengthAdjust="spacingAndGlyphs" stroke="#000" stroke-width="0.3">30</text>
<text x="122.84" y="248.4" font-size="15.5" text-anchor="end" textLength="18.33" lengthAdjust="spacingAndGlyphs" stroke="#000" stroke-width="0.3">30</text>
<text x="438.5" y="488.1" font-size="15.5" text-anchor="middle" textLength="18.33" lengthAdjust="spacingAndGlyphs" stroke="#000" stroke-width="0.3">40</text>
<text x="122.84" y="172.95" font-size="15.5" text-anchor="end" textLength="18.33" lengthAdjust="spacingAndGlyphs" stroke="#000" stroke-width="0.3">40</text>
<g shape-rendering="crispEdges">
<rect x="451.5" y="166.35" width="18" height="5.03" fill="#800000"/>
<rect x="451.5" y="171.08" width="18" height="5.03" fill="#8f0000"/>
<rect x="451.5" y="175.81" width="18" height="5.03" fill="#9f0000"/>
<rect x="451.5" y="180.54" width="18" height="5.03" fill="#af0000"/>
<rect x="451.5" y="185.27" width="18" height="5.03" fill="#bf0000"/>
<rect x="451.5" y="189.99" width="18" height="5.03" fill="#cf0000"/>
<rect x="451.5" y="194.72" width="18" height="5.03" fill="#df0000"/>
<rect x="451.5" y="199.45" width="18" height="5.03" fill="#ef0000"/>
<rect x="451.5" y="204.18" width="18" height="5.03" fill="#ff0000"/>
<rect x="451.5" y="208.91" width="18" height="5.03" fill="#ff1000"/>
<rect x="451.5" y="213.64" width="18" height="5.03" fill="#ff2000"/>
<rect x="451.5" y="218.37" width="18" height="5.03" fill="#ff3000"/>
<rect x="451.5" y="223.1" width="18" height="5.03" fill="#ff4000"/>
<rect x="451.5" y="227.83" width="18" height="5.03" fill="#ff5000"/>
<rect x="451.5" y="232.55" width="18" height="5.03" fill="#ff6000"/>
<rect x="451.5" y="237.28" width="18" height="5.03" fill="#ff7000"/>
<rect x="451.5" y="242.01" width="18" height="5.03" fill="#ff8000"/>
<rect x="451.5" y="246.74" width="18" height="5.03" fill="#ff8f00"/>
<rect x="451.5" y="251.47" width="18" height="5.03" fill="#ff9f00"/>
<rect x="451.5" y="256.2" width="18" height="5.03" fill="#ffaf00"/>
<rect x="451.5" y="260.93" width="18" height="5.03" fill="#ffbf00"/>
<rect x="451.5" y="265.66" width="18" height="5.03" fill="#ffcf00"/>
<rect x="451.5" y="270.39" width="18" height="5.03" fill="#ffdf00"/>
<rect x="451.5" y="275.11" width="18" height="5.03" fill="#ffef00"/>
<rect x="451.5" y="279.84" width="18" height="5.03" fill="#ffff00"/>
<rect x="451.5" y="284.57" width="18" height="5.03" fill="#efff10"/>
<rect x="451.5" y="289.3" width="18" height="5.03" fill="#dfff20"/>
<rect x="451.5" y="294.03" width="18" height="5.03" fill="#cfff30"/>
<rect x="451.5" y="298.76" width="18" height="5.03" fill="#bfff40"/>
<rect x="451.5" y="303.49" width="18" height="5.03" fill="#afff50"/>
<rect x="451.5" y="308.22" width="18" height="5.03" fill="#9fff60"/>
<rect x="451.5" y="312.95" width="18" height="5.03" fill="#8fff70"/>
<rect x="451.5" y="317.67" width="18" height="5.03" fill="#80ff80"/>
<rect x="451.5" y="322.4" width="18" height="5.03" fill="#70ff8f"/>
<rect x="451.5" y="327.13" width="18" height="5.03" fill="#60ff9f"/>
<rect x="451.5" y="331.86" width="18" height="5.03" fill="#50ffaf"/>
<rect x="451.5" y="336.59" width="18" height="5.03" fill="#40ffbf"/>
<rect x="451.5" y="341.32" width="18" height="5.03" fill="#30ffcf"/>
<rect x="451.5" y="346.05" width="18" height="5.03" fill="#20ffdf"/>
<rect x="451.5" y="350.78" width="18" height="5.03" fill="#10ffef"/>
<rect x="451.5" y="355.51" width="18" height="5.03" fill="#00ffff"/>
<rect x="451.5" y="360.24" width="18" height="5.03" fill="#00efff"/>
<rect x="451.5" y="364.96" width="18" height="5.03" fill="#00dfff"/>
<rect x="451.5" y="369.69" width="18" height="5.03" fill="#00cfff"/>
<rect x="451.5" y="374.42" width="18" height="5.03" fill="#00bfff"/>
<rect x="451.5" y="379.15" width="18" height="5.03" fill="#00afff"/>
<rect x="451.5" y="383.88" width="18" height="5.03" fill="#009fff"/>
<rect x="451.5" y="388.61" width="18" height="5.03" fill="#008fff"/>
<rect x="451.5" y="393.34" width="18" height="5.03" fill="#0080ff"/>
<rect x="451.5" y="398.07" width="18" height="5.03" fill="#0070ff"/>
<rect x="451.5" y="402.8" width="18" height="5.03" fill="#0060ff"/>
<rect x="451.5" y="407.52" width="18" height="5.03" fill="#0050ff"/>
<rect x="451.5" y="412.25" width="18" height="5.03" fill="#0040ff"/>
<rect x="451.5" y="416.98" width="18" height="5.03" fill="#0030ff"/>
<rect x="451.5" y="421.71" width="18" height="5.03" fill="#0020ff"/>
<rect x="451.5" y="426.44" width="18" height="5.03" fill="#0010ff"/>
<rect x="451.5" y="431.17" width="18" height="5.03" fill="#0000ff"/>
<rect x="451.5" y="435.9" width="18" height="5.03" fill="#0000ef"/>
<rect x="451.5" y="440.63" width="18" height="5.03" fill="#0000df"/>
<rect x="451.5" y="445.36" width="18" height="5.03" fill="#0000cf"/>
<rect x="451.5" y="450.08" width="18" height="5.03" fill="#0000bf"/>
<rect x="451.5" y="454.81" width="18" height="5.03" fill="#0000af"/>
<rect x="451.5" y="459.54" width="18" height="5.03" fill="#00009f"/>
<rect x="451.5" y="464.27" width="18" height="5.03" fill="#00008f"/>
</g>
<rect x="451.5" y="166.35" width="18" height="302.65" fill="none" stroke="#777" stroke-width="0.7"/>
<text x="470.87" y="172.1" font-size="15.9" textLength="8.8" lengthAdjust="spacingAndGlyphs" stroke="#000" stroke-width="0.3">1</text>
<text x="470.87" y="247.8" font-size="15.9" textLength="21.99" lengthAdjust="spacingAndGlyphs" stroke="#000" stroke-width="0.3">0.5</text>
<text x="470.87" y="323.5" font-size="15.9" textLength="8.8" lengthAdjust="spacingAndGlyphs" stroke="#000" stroke-width="0.3">0</text>
<text x="470.87" y="399.2" font-size="15.9" textLength="27.26" lengthAdjust="spacingAndGlyphs" stroke="#000" stroke-width="0.3">-0.5</text>
<text x="470.87" y="474.9" font-size="15.9" textLength="14.07" lengthAdjust="spacingAndGlyphs" stroke="#000" stroke-width="0.3">-1</text>
<path d="M451.5 166.75h2.6M469.5 166.75h-2.6M451.5 242.05h2.6M469.5 242.05h-2.6M451.5 317.75h2.6M469.5 317.75h-2.6M451.5 393.45h2.6M469.5 393.45h-2.6M451.5 468.6h2.6M469.5 468.6h-2.6" stroke="#222" stroke-width="0.8" fill="none"/>
<g font-size="16" stroke="#000" stroke-width="0.3"><text x="135.45" y="153.4" textLength="83.03" lengthAdjust="spacingAndGlyphs">Correlation</text> <text x="222.47" y="153.4" textLength="35.55" lengthAdjust="spacingAndGlyphs">(Coh</text> <text x="261.76" y="153.4" textLength="81.82" lengthAdjust="spacingAndGlyphs">vHIP-mPFC</text> <text x="347.61" y="153.4" textLength="7.58" lengthAdjust="spacingAndGlyphs">x</text> <text x="359.3" y="153.4" textLength="29.87" lengthAdjust="spacingAndGlyphs">PSD</text> <text x="393.16" y="153.4" textLength="38.87" lengthAdjust="spacingAndGlyphs">vHIP)</text></g>
<g font-size="16" stroke="#000" stroke-width="0.3"><text x="231.17" y="514.7" textLength="28.27" lengthAdjust="spacingAndGlyphs">PSD</text> <text x="263.96" y="514.7" textLength="33.54" lengthAdjust="spacingAndGlyphs">vHIP</text> <text x="301.22" y="514.7" textLength="29.74" lengthAdjust="spacingAndGlyphs">(Hz)</text></g>
<g font-size="16" stroke="#000" stroke-width="0.3" transform="rotate(-90 96 416.5)"><text x="95.19" y="416.5" textLength="79.23" lengthAdjust="spacingAndGlyphs">Coherence</text> <text x="179.06" y="416.5" textLength="82.73" lengthAdjust="spacingAndGlyphs">vHIP-mPFC</text> <text x="265.28" y="416.5" textLength="30.81" lengthAdjust="spacingAndGlyphs">(Hz)</text></g>
<!-- A p -->
<g transform="translate(558,170.05) scale(7.7949,7.7321)" shape-rendering="crispEdges">
<rect width="39" height="39" fill="#00008f"/>
<path fill="#008fff" d="M34 0h1v1h-1z"/>
<path fill="#70ff8f" d="M35 0h1v1h-1z"/>
<path fill="#bfff40" d="M33 0h1v1h-1z"/>
<path fill="#dfff20" d="M38 0h1v1h-1z"/>
<path fill="#ffdf00" d="M31 0h1v1h-1z"/>
</g>
<path d="M551.4 170.2V479.4H863" fill="none" stroke="#8a8a8a" stroke-width="1"/>
<path d="M551.4 479.4v-2.6M551.4 479.4h2.6M629.05 479.4v-2.6M551.4 402.17h2.6M706.7 479.4v-2.6M551.4 324.95h2.6M784.35 479.4v-2.6M551.4 247.72h2.6M862 479.4v-2.6M551.4 170.5h2.6" stroke="#333" stroke-width="0.9" fill="none"/>
<text x="551.4" y="500.8" font-size="17.6" text-anchor="middle" textLength="10.38" lengthAdjust="spacingAndGlyphs" stroke="#000" stroke-width="0.3">0</text>
<text x="548.42" y="486.7" font-size="17.6" text-anchor="end" textLength="10.38" lengthAdjust="spacingAndGlyphs" stroke="#000" stroke-width="0.3">0</text>
<text x="629.05" y="500.8" font-size="17.6" text-anchor="middle" textLength="20.76" lengthAdjust="spacingAndGlyphs" stroke="#000" stroke-width="0.3">10</text>
<text x="548.42" y="409.47" font-size="17.6" text-anchor="end" textLength="20.76" lengthAdjust="spacingAndGlyphs" stroke="#000" stroke-width="0.3">10</text>
<text x="706.7" y="500.8" font-size="17.6" text-anchor="middle" textLength="20.76" lengthAdjust="spacingAndGlyphs" stroke="#000" stroke-width="0.3">20</text>
<text x="548.42" y="332.25" font-size="17.6" text-anchor="end" textLength="20.76" lengthAdjust="spacingAndGlyphs" stroke="#000" stroke-width="0.3">20</text>
<text x="784.35" y="500.8" font-size="17.6" text-anchor="middle" textLength="20.76" lengthAdjust="spacingAndGlyphs" stroke="#000" stroke-width="0.3">30</text>
<text x="548.42" y="255.03" font-size="17.6" text-anchor="end" textLength="20.76" lengthAdjust="spacingAndGlyphs" stroke="#000" stroke-width="0.3">30</text>
<text x="862" y="500.8" font-size="17.6" text-anchor="middle" textLength="20.76" lengthAdjust="spacingAndGlyphs" stroke="#000" stroke-width="0.3">40</text>
<text x="548.42" y="177.8" font-size="17.6" text-anchor="end" textLength="20.76" lengthAdjust="spacingAndGlyphs" stroke="#000" stroke-width="0.3">40</text>
<g shape-rendering="crispEdges">
<rect x="876.85" y="170.1" width="19.65" height="5.15" fill="#800000"/>
<rect x="876.85" y="174.95" width="19.65" height="5.15" fill="#ff0500"/>
<rect x="876.85" y="179.8" width="19.65" height="5.15" fill="#ff0f00"/>
<rect x="876.85" y="184.65" width="19.65" height="5.15" fill="#ff1800"/>
<rect x="876.85" y="189.5" width="19.65" height="5.15" fill="#ff2200"/>
<rect x="876.85" y="194.35" width="19.65" height="5.15" fill="#ff2c00"/>
<rect x="876.85" y="199.2" width="19.65" height="5.15" fill="#ff3500"/>
<rect x="876.85" y="204.06" width="19.65" height="5.15" fill="#ff3f00"/>
<rect x="876.85" y="208.91" width="19.65" height="5.15" fill="#ff4900"/>
<rect x="876.85" y="213.76" width="19.65" height="5.15" fill="#ff5300"/>
<rect x="876.85" y="218.61" width="19.65" height="5.15" fill="#ff5c00"/>
<rect x="876.85" y="223.46" width="19.65" height="5.15" fill="#ff6600"/>
<rect x="876.85" y="228.31" width="19.65" height="5.15" fill="#ff7000"/>
<rect x="876.85" y="233.16" width="19.65" height="5.15" fill="#ff7a00"/>
<rect x="876.85" y="238.01" width="19.65" height="5.15" fill="#ff8500"/>
<rect x="876.85" y="242.86" width="19.65" height="5.15" fill="#ff9000"/>
<rect x="876.85" y="247.71" width="19.65" height="5.15" fill="#ff9b00"/>
<rect x="876.85" y="252.56" width="19.65" height="5.15" fill="#ffa600"/>
<rect x="876.85" y="257.41" width="19.65" height="5.15" fill="#ffb100"/>
<rect x="876.85" y="262.26" width="19.65" height="5.15" fill="#ffbc00"/>
<rect x="876.85" y="267.12" width="19.65" height="5.15" fill="#ffc700"/>
<rect x="876.85" y="271.97" width="19.65" height="5.15" fill="#ffd200"/>
<rect x="876.85" y="276.82" width="19.65" height="5.15" fill="#ffdd00"/>
<rect x="876.85" y="281.67" width="19.65" height="5.15" fill="#ffe800"/>
<rect x="876.85" y="286.52" width="19.65" height="5.15" fill="#fff300"/>
<rect x="876.85" y="291.37" width="19.65" height="5.15" fill="#fffe00"/>
<rect x="876.85" y="296.22" width="19.65" height="5.15" fill="#edff12"/>
<rect x="876.85" y="301.07" width="19.65" height="5.15" fill="#d9ff26"/>
<rect x="876.85" y="305.92" width="19.65" height="5.15" fill="#c5ff3a"/>
<rect x="876.85" y="310.77" width="19.65" height="5.15" fill="#b1ff4e"/>
<rect x="876.85" y="315.62" width="19.65" height="5.15" fill="#9dff62"/>
<rect x="876.85" y="320.47" width="19.65" height="5.15" fill="#89ff76"/>
<rect x="876.85" y="325.33" width="19.65" height="5.15" fill="#78ff87"/>
<rect x="876.85" y="330.18" width="19.65" height="5.15" fill="#68ff97"/>
<rect x="876.85" y="335.03" width="19.65" height="5.15" fill="#58ffa7"/>
<rect x="876.85" y="339.88" width="19.65" height="5.15" fill="#48ffb7"/>
<rect x="876.85" y="344.73" width="19.65" height="5.15" fill="#38ffc7"/>
<rect x="876.85" y="349.58" width="19.65" height="5.15" fill="#28ffd7"/>
<rect x="876.85" y="354.43" width="19.65" height="5.15" fill="#19ffe6"/>
<rect x="876.85" y="359.28" width="19.65" height="5.15" fill="#0ffff0"/>
<rect x="876.85" y="364.13" width="19.65" height="5.15" fill="#05fffa"/>
<rect x="876.85" y="368.98" width="19.65" height="5.15" fill="#00f8ff"/>
<rect x="876.85" y="373.83" width="19.65" height="5.15" fill="#00eaff"/>
<rect x="876.85" y="378.68" width="19.65" height="5.15" fill="#00dcff"/>
<rect x="876.85" y="383.53" width="19.65" height="5.15" fill="#00cfff"/>
<rect x="876.85" y="388.39" width="19.65" height="5.15" fill="#00c1ff"/>
<rect x="876.85" y="393.24" width="19.65" height="5.15" fill="#00b3ff"/>
<rect x="876.85" y="398.09" width="19.65" height="5.15" fill="#00a5ff"/>
<rect x="876.85" y="402.94" width="19.65" height="5.15" fill="#0098ff"/>
<rect x="876.85" y="407.79" width="19.65" height="5.15" fill="#008aff"/>
<rect x="876.85" y="412.64" width="19.65" height="5.15" fill="#007cff"/>
<rect x="876.85" y="417.49" width="19.65" height="5.15" fill="#0070ff"/>
<rect x="876.85" y="422.34" width="19.65" height="5.15" fill="#0067ff"/>
<rect x="876.85" y="427.19" width="19.65" height="5.15" fill="#005dff"/>
<rect x="876.85" y="432.04" width="19.65" height="5.15" fill="#0054ff"/>
<rect x="876.85" y="436.89" width="19.65" height="5.15" fill="#004bff"/>
<rect x="876.85" y="441.74" width="19.65" height="5.15" fill="#0041ff"/>
<rect x="876.85" y="446.59" width="19.65" height="5.15" fill="#0038ff"/>
<rect x="876.85" y="451.45" width="19.65" height="5.15" fill="#002fff"/>
<rect x="876.85" y="456.3" width="19.65" height="5.15" fill="#0025ff"/>
<rect x="876.85" y="461.15" width="19.65" height="5.15" fill="#001cff"/>
<rect x="876.85" y="466" width="19.65" height="5.15" fill="#0013ff"/>
<rect x="876.85" y="470.85" width="19.65" height="5.15" fill="#000aff"/>
<rect x="876.85" y="475.7" width="19.65" height="5.15" fill="#00008f"/>
</g>
<rect x="876.85" y="170.1" width="19.65" height="310.45" fill="none" stroke="#777" stroke-width="0.7"/>
<text x="897.49" y="176.9" font-size="19.8" textLength="10.59" lengthAdjust="spacingAndGlyphs" stroke="#000" stroke-width="0.3">0</text>
<text x="897.49" y="238.84" font-size="19.8" textLength="37.07" lengthAdjust="spacingAndGlyphs" stroke="#000" stroke-width="0.3">0.01</text>
<text x="897.49" y="300.78" font-size="19.8" textLength="37.07" lengthAdjust="spacingAndGlyphs" stroke="#000" stroke-width="0.3">0.02</text>
<text x="897.49" y="362.72" font-size="19.8" textLength="37.07" lengthAdjust="spacingAndGlyphs" stroke="#000" stroke-width="0.3">0.03</text>
<text x="897.49" y="424.66" font-size="19.8" textLength="37.07" lengthAdjust="spacingAndGlyphs" stroke="#000" stroke-width="0.3">0.04</text>
<text x="897.49" y="486.6" font-size="19.8" textLength="53.49" lengthAdjust="spacingAndGlyphs" stroke="#000" stroke-width="0.3">&gt; 0.05</text>
<path d="M876.85 170.7h2.6M896.5 170.7h-2.6M876.85 232.64h2.6M896.5 232.64h-2.6M876.85 294.58h2.6M896.5 294.58h-2.6M876.85 356.52h2.6M896.5 356.52h-2.6M876.85 418.46h2.6M896.5 418.46h-2.6M876.85 480.15h2.6M896.5 480.15h-2.6" stroke="#222" stroke-width="0.8" fill="none"/>
<text x="682.6" y="153.8" font-size="16" textLength="55.56" lengthAdjust="spacingAndGlyphs" stroke="#000" stroke-width="0.3">p-value</text>
<g font-size="16" stroke="#000" stroke-width="0.3"><text x="652.97" y="526.3" textLength="28.27" lengthAdjust="spacingAndGlyphs">PSD</text> <text x="685.76" y="526.3" textLength="33.54" lengthAdjust="spacingAndGlyphs">vHIP</text> <text x="723.02" y="526.3" textLength="29.74" lengthAdjust="spacingAndGlyphs">(Hz)</text></g>
<g font-size="16" stroke="#000" stroke-width="0.3" transform="rotate(-90 518 421.8)"><text x="517.2" y="421.8" textLength="78.76" lengthAdjust="spacingAndGlyphs">Coherence</text> <text x="600.56" y="421.8" textLength="82.23" lengthAdjust="spacingAndGlyphs">vHIP-mPFC</text> <text x="686.26" y="421.8" textLength="30.63" lengthAdjust="spacingAndGlyphs">(Hz)</text></g>
<!-- B corr -->
<g transform="translate(131.7,613.8) scale(7.8103,7.6885)" shape-rendering="crispEdges">
<path fill="#0000ef" d="M9 0h2v1h-2zM9 1h3v1h-3z"/>
<path fill="#0000ff" d="M9 2h1v1h-1zM8 32h1v1h-1zM7 33h1v1h-1z"/>
<path fill="#0020ff" d="M7 0h2v1h-2zM11 0h2v1h-2zM7 1h2v1h-2zM12 1h2v1h-2zM18 1h2v1h-2zM8 2h1v1h-1zM10 2h2v1h-2zM17 2h3v1h-3zM9 3h1v1h-1zM18 3h1v1h-1zM8 31h1v1h-1zM7 32h1v1h-1zM8 33h1v1h-1zM7 34h1v1h-1z"/>
<path fill="#0030ff" d="M6 0h1v1h-1zM13 0h1v1h-1zM16 0h1v1h-1zM18 0h2v1h-2zM6 1h1v1h-1zM14 1h1v1h-1zM16 1h2v1h-2zM20 1h1v1h-1zM27 1h1v1h-1zM7 2h1v1h-1zM12 2h3v1h-3zM16 2h1v1h-1zM20 2h1v1h-1zM8 3h1v1h-1zM16 3h2v1h-2zM19 3h1v1h-1zM8 4h4v1h-4zM18 4h2v1h-2zM8 5h2v1h-2zM8 28h1v1h-1zM8 29h1v1h-1zM8 30h2v1h-2zM7 31h1v1h-1zM9 31h1v1h-1zM9 32h1v1h-1zM6 33h1v1h-1zM6 34h1v1h-1zM8 34h1v1h-1zM7 35h2v1h-2zM6 36h3v1h-3zM7 37h2v1h-2zM7 38h2v1h-2z"/>
<path fill="#0040ff" d="M21 1h1v1h-1zM28 1h1v1h-1zM5 36h1v1h-1z"/>
<path fill="#0050ff" d="M17 0h1v1h-1zM10 3h1v1h-1zM6 35h1v1h-1z"/>
<path fill="#0060ff" d="M5 0h1v1h-1zM14 0h2v1h-2zM20 0h2v1h-2zM27 0h2v1h-2zM5 1h1v1h-1zM15 1h1v1h-1zM6 2h1v1h-1zM15 2h1v1h-1zM21 2h1v1h-1zM7 3h1v1h-1zM11 3h5v1h-5zM20 3h1v1h-1zM7 4h1v1h-1zM12 4h3v1h-3zM16 4h2v1h-2zM10 5h2v1h-2zM7 28h1v1h-1zM6 29h2v1h-2zM9 29h1v1h-1zM6 30h2v1h-2zM6 31h1v1h-1zM10 31h1v1h-1zM6 32h1v1h-1zM5 33h1v1h-1zM9 33h1v1h-1zM5 34h1v1h-1zM9 34h1v1h-1zM5 35h1v1h-1zM9 35h1v1h-1zM9 36h1v1h-1zM6 37h1v1h-1zM9 37h1v1h-1zM6 38h1v1h-1zM9 38h1v1h-1z"/>
<path fill="#0070ff" d="M4 0h1v1h-1zM26 0h1v1h-1zM4 1h1v1h-1zM26 1h1v1h-1zM29 1h3v1h-3zM34 1h4v1h-4zM4 2h2v1h-2zM27 2h2v1h-2zM4 3h1v1h-1zM6 3h1v1h-1zM21 3h1v1h-1zM4 4h2v1h-2zM15 4h1v1h-1zM20 4h1v1h-1zM7 5h1v1h-1zM12 5h3v1h-3zM16 5h4v1h-4zM9 6h1v1h-1zM7 27h2v1h-2zM6 28h1v1h-1zM9 28h1v1h-1zM11 28h1v1h-1zM5 29h1v1h-1zM11 29h2v1h-2zM5 30h1v1h-1zM11 30h1v1h-1zM5 31h1v1h-1zM11 31h3v1h-3zM5 32h1v1h-1zM10 32h1v1h-1zM10 35h2v1h-2zM3 36h1v1h-1zM10 36h1v1h-1zM5 37h1v1h-1zM5 38h1v1h-1z"/>
<path fill="#0080ff" d="M4 5h1v1h-1zM8 20h1v1h-1zM8 25h1v1h-1zM3 28h1v1h-1zM5 28h1v1h-1zM3 29h1v1h-1zM0 33h1v1h-1zM0 34h1v1h-1zM0 35h1v1h-1zM2 36h1v1h-1zM2 37h1v1h-1zM2 38h1v1h-1z"/>
<path fill="#008fff" d="M5 3h1v1h-1zM6 4h1v1h-1zM7 25h1v1h-1zM10 30h1v1h-1zM12 30h1v1h-1z"/>
<path fill="#009fff" d="M22 0h1v1h-1zM25 0h1v1h-1zM29 0h3v1h-3zM34 0h5v1h-5zM22 1h1v1h-1zM32 1h2v1h-2zM38 1h1v1h-1zM22 2h1v1h-1zM26 2h1v1h-1zM29 2h3v1h-3zM33 2h5v1h-5zM27 3h4v1h-4zM34 3h2v1h-2zM28 4h1v1h-1zM5 5h2v1h-2zM15 5h1v1h-1zM8 6h1v1h-1zM10 6h3v1h-3zM8 21h1v1h-1zM7 26h2v1h-2zM6 27h1v1h-1zM9 27h1v1h-1zM10 28h1v1h-1zM12 28h1v1h-1zM10 29h1v1h-1zM13 29h1v1h-1zM3 30h1v1h-1zM13 30h1v1h-1zM15 31h1v1h-1zM11 32h3v1h-3zM4 33h1v1h-1zM10 33h2v1h-2zM4 34h1v1h-1zM10 34h2v1h-2zM3 35h2v1h-2zM12 35h1v1h-1zM4 36h1v1h-1zM11 36h1v1h-1zM3 37h1v1h-1zM10 37h1v1h-1zM3 38h1v1h-1zM10 38h2v1h-2z"/>
<path fill="#00afff" d="M0 0h1v1h-1zM23 0h1v1h-1zM33 0h1v1h-1zM0 1h1v1h-1zM23 1h1v1h-1zM25 1h1v1h-1zM3 2h1v1h-1zM23 2h1v1h-1zM32 2h1v1h-1zM38 2h1v1h-1zM0 3h1v1h-1zM3 3h1v1h-1zM22 3h1v1h-1zM26 3h1v1h-1zM31 3h1v1h-1zM33 3h1v1h-1zM36 3h2v1h-2zM0 4h1v1h-1zM3 4h1v1h-1zM21 4h1v1h-1zM27 4h1v1h-1zM29 4h3v1h-3zM33 4h3v1h-3zM0 5h1v1h-1zM3 5h1v1h-1zM20 5h1v1h-1zM27 5h1v1h-1zM7 6h1v1h-1zM13 6h1v1h-1zM16 6h1v1h-1zM18 6h1v1h-1zM9 7h1v1h-1zM7 9h2v1h-2zM9 20h1v1h-1zM9 25h1v1h-1zM5 26h1v1h-1zM9 26h1v1h-1zM5 27h1v1h-1zM11 27h1v1h-1zM0 28h1v1h-1zM2 28h1v1h-1zM13 28h1v1h-1zM0 29h1v1h-1zM2 29h1v1h-1zM15 29h1v1h-1zM2 30h1v1h-1zM15 30h2v1h-2zM2 31h2v1h-2zM14 31h1v1h-1zM16 31h2v1h-2zM2 32h2v1h-2zM15 32h1v1h-1zM3 33h1v1h-1zM12 33h2v1h-2zM15 33h4v1h-4zM2 35h1v1h-1zM13 35h1v1h-1zM0 36h1v1h-1zM12 36h2v1h-2zM0 37h1v1h-1zM11 37h1v1h-1zM0 38h1v1h-1zM12 38h1v1h-1z"/>
<path fill="#00bfff" d="M3 1h1v1h-1zM37 4h1v1h-1zM28 5h1v1h-1zM0 6h1v1h-1zM7 8h1v1h-1zM9 9h1v1h-1zM3 20h1v1h-1zM7 20h1v1h-1zM3 21h1v1h-1zM9 21h1v1h-1zM8 22h1v1h-1zM3 25h3v1h-3zM0 26h1v1h-1zM11 26h1v1h-1zM0 27h1v1h-1zM2 27h1v1h-1zM15 28h1v1h-1zM0 30h1v1h-1zM18 31h1v1h-1zM2 33h1v1h-1zM16 34h1v1h-1zM18 34h1v1h-1z"/>
<path fill="#00cfff" d="M3 22h1v1h-1z"/>
<path fill="#00dfff" d="M32 0h1v1h-1zM32 3h1v1h-1zM17 6h1v1h-1zM6 26h1v1h-1zM10 27h1v1h-1zM4 28h1v1h-1zM4 29h1v1h-1zM4 30h1v1h-1zM14 30h1v1h-1zM4 31h1v1h-1zM4 32h1v1h-1zM14 32h1v1h-1zM16 32h1v1h-1zM3 34h1v1h-1zM12 34h1v1h-1zM4 37h1v1h-1zM12 37h1v1h-1zM4 38h1v1h-1z"/>
<path fill="#00efff" d="M3 0h1v1h-1zM24 0h1v1h-1zM24 1h1v1h-1zM0 2h1v1h-1zM24 2h2v1h-2zM1 3h1v1h-1zM23 3h1v1h-1zM25 3h1v1h-1zM38 3h1v1h-1zM22 4h1v1h-1zM26 4h1v1h-1zM32 4h1v1h-1zM36 4h1v1h-1zM38 4h1v1h-1zM21 5h1v1h-1zM29 5h2v1h-2zM34 5h1v1h-1zM4 6h3v1h-3zM14 6h2v1h-2zM19 6h1v1h-1zM7 7h2v1h-2zM10 7h2v1h-2zM8 8h2v1h-2zM7 10h2v1h-2zM7 21h1v1h-1zM8 24h1v1h-1zM6 25h1v1h-1zM3 26h2v1h-2zM10 26h1v1h-1zM12 26h1v1h-1zM3 27h1v1h-1zM12 27h2v1h-2zM14 28h1v1h-1zM14 29h1v1h-1zM16 29h1v1h-1zM17 30h2v1h-2zM0 31h1v1h-1zM19 31h1v1h-1zM0 32h1v1h-1zM17 32h2v1h-2zM14 33h1v1h-1zM19 33h1v1h-1zM2 34h1v1h-1zM13 34h3v1h-3zM17 34h1v1h-1zM14 35h1v1h-1zM1 36h1v1h-1zM14 36h1v1h-1zM13 37h1v1h-1zM13 38h1v1h-1z"/>
<path fill="#00ffff" d="M1 0h1v1h-1zM1 1h1v1h-1zM1 2h1v1h-1zM24 3h1v1h-1zM1 4h1v1h-1zM23 4h1v1h-1zM26 5h1v1h-1zM31 5h1v1h-1zM33 5h1v1h-1zM35 5h1v1h-1zM37 5h1v1h-1zM3 6h1v1h-1zM20 6h1v1h-1zM0 7h1v1h-1zM12 7h1v1h-1zM16 7h1v1h-1zM18 7h1v1h-1zM6 8h1v1h-1zM6 9h1v1h-1zM9 10h1v1h-1zM7 11h2v1h-2zM8 12h1v1h-1zM3 19h1v1h-1zM8 19h2v1h-2zM10 20h3v1h-3zM11 21h2v1h-2zM7 22h1v1h-1zM9 22h1v1h-1zM3 23h1v1h-1zM8 23h1v1h-1zM3 24h1v1h-1zM10 25h3v1h-3zM2 26h1v1h-1zM13 26h1v1h-1zM16 28h1v1h-1zM17 29h2v1h-2zM19 30h1v1h-1zM19 32h1v1h-1zM19 34h1v1h-1zM15 35h1v1h-1zM15 36h1v1h-1zM15 38h1v1h-1z"/>
<path fill="#10ffef" d="M27 6h1v1h-1zM0 8h1v1h-1zM16 8h1v1h-1zM0 9h1v1h-1zM10 9h1v1h-1zM12 9h1v1h-1zM16 9h1v1h-1zM7 12h1v1h-1zM8 13h1v1h-1zM2 20h1v1h-1zM5 20h1v1h-1zM2 21h1v1h-1zM11 22h2v1h-2zM0 25h1v1h-1zM2 25h1v1h-1zM13 25h1v1h-1zM20 31h1v1h-1zM19 35h1v1h-1zM19 36h1v1h-1zM15 37h1v1h-1z"/>
<path fill="#20ffdf" d="M18 9h1v1h-1zM3 12h1v1h-1zM15 25h1v1h-1zM4 27h1v1h-1zM1 33h1v1h-1zM1 35h1v1h-1zM1 37h1v1h-1zM1 38h1v1h-1z"/>
<path fill="#30ffcf" d="M2 2h1v1h-1zM2 3h1v1h-1zM2 4h1v1h-1zM6 7h1v1h-1zM10 8h1v1h-1zM4 20h1v1h-1zM10 21h1v1h-1zM7 24h1v1h-1zM1 28h1v1h-1zM1 29h1v1h-1zM1 30h1v1h-1zM1 31h1v1h-1zM1 32h1v1h-1zM1 34h1v1h-1zM16 35h1v1h-1zM18 35h1v1h-1zM14 37h1v1h-1z"/>
<path fill="#40ffbf" d="M24 4h2v1h-2zM1 5h2v1h-2zM22 5h1v1h-1zM32 5h1v1h-1zM36 5h1v1h-1zM38 5h1v1h-1zM21 6h1v1h-1zM26 6h1v1h-1zM28 6h3v1h-3zM34 6h1v1h-1zM4 7h2v1h-2zM13 7h3v1h-3zM17 7h1v1h-1zM19 7h1v1h-1zM5 8h1v1h-1zM11 8h1v1h-1zM18 8h1v1h-1zM5 9h1v1h-1zM11 9h1v1h-1zM17 9h1v1h-1zM6 10h1v1h-1zM12 10h1v1h-1zM17 10h1v1h-1zM9 11h1v1h-1zM9 12h1v1h-1zM8 18h2v1h-2zM7 19h1v1h-1zM10 19h3v1h-3zM6 20h1v1h-1zM13 20h1v1h-1zM4 21h3v1h-3zM13 21h1v1h-1zM2 22h1v1h-1zM4 22h1v1h-1zM6 22h1v1h-1zM10 22h1v1h-1zM13 22h1v1h-1zM4 23h1v1h-1zM7 23h1v1h-1zM9 23h1v1h-1zM9 24h1v1h-1zM14 27h2v1h-2zM17 28h2v1h-2zM19 29h1v1h-1zM20 30h1v1h-1zM20 32h1v1h-1zM20 33h1v1h-1zM17 35h1v1h-1zM16 36h1v1h-1zM18 36h1v1h-1zM14 38h1v1h-1zM16 38h1v1h-1z"/>
<path fill="#50ffaf" d="M23 5h1v1h-1zM25 5h1v1h-1zM2 6h1v1h-1zM31 6h1v1h-1zM33 6h1v1h-1zM35 6h1v1h-1zM37 6h1v1h-1zM3 7h1v1h-1zM20 7h1v1h-1zM3 8h2v1h-2zM3 9h2v1h-2zM13 9h3v1h-3zM3 10h1v1h-1zM11 10h1v1h-1zM13 10h1v1h-1zM16 10h1v1h-1zM18 10h1v1h-1zM3 11h2v1h-2zM11 11h3v1h-3zM16 11h3v1h-3zM4 12h1v1h-1zM11 12h3v1h-3zM16 12h3v1h-3zM7 13h1v1h-1zM9 13h1v1h-1zM12 13h2v1h-2zM8 14h1v1h-1zM8 16h2v1h-2zM8 17h2v1h-2zM3 18h1v1h-1zM7 18h1v1h-1zM12 18h1v1h-1zM2 19h1v1h-1zM4 19h2v1h-2zM13 19h1v1h-1zM14 20h2v1h-2zM14 21h2v1h-2zM5 22h1v1h-1zM14 22h2v1h-2zM2 23h1v1h-1zM5 23h2v1h-2zM2 24h1v1h-1zM14 25h1v1h-1zM15 26h1v1h-1zM19 28h1v1h-1zM20 29h1v1h-1zM20 34h1v1h-1zM17 36h1v1h-1zM19 37h1v1h-1zM17 38h3v1h-3z"/>
<path fill="#60ff9f" d="M2 1h1v1h-1zM7 17h1v1h-1zM4 24h1v1h-1zM16 25h1v1h-1zM1 27h1v1h-1zM28 31h1v1h-1zM30 31h1v1h-1zM33 31h1v1h-1zM28 33h1v1h-1z"/>
<path fill="#70ff8f" d="M2 0h1v1h-1zM1 6h1v1h-1zM12 8h1v1h-1zM15 8h1v1h-1zM17 8h1v1h-1zM10 10h1v1h-1zM6 11h1v1h-1zM5 24h2v1h-2zM1 26h1v1h-1zM14 26h1v1h-1zM16 27h1v1h-1zM20 35h1v1h-1zM16 37h1v1h-1zM18 37h1v1h-1z"/>
<path fill="#80ff80" d="M24 5h1v1h-1zM22 6h1v1h-1zM25 6h1v1h-1zM32 6h1v1h-1zM36 6h1v1h-1zM38 6h1v1h-1zM27 7h2v1h-2zM13 8h2v1h-2zM19 8h1v1h-1zM19 9h1v1h-1zM0 10h1v1h-1zM4 10h2v1h-2zM14 10h2v1h-2zM5 11h1v1h-1zM10 11h1v1h-1zM14 11h2v1h-2zM6 12h1v1h-1zM10 12h1v1h-1zM14 12h2v1h-2zM3 13h2v1h-2zM10 13h2v1h-2zM16 13h2v1h-2zM9 14h4v1h-4zM8 15h3v1h-3zM10 16h1v1h-1zM10 17h3v1h-3zM10 18h2v1h-2zM13 18h1v1h-1zM6 19h1v1h-1zM14 19h1v1h-1zM16 20h1v1h-1zM16 21h1v1h-1zM11 23h3v1h-3zM10 24h3v1h-3zM16 26h2v1h-2zM17 27h2v1h-2zM21 31h1v1h-1zM27 31h1v1h-1zM31 31h1v1h-1zM34 31h1v1h-1zM21 32h1v1h-1zM28 32h1v1h-1zM28 34h1v1h-1zM20 36h1v1h-1zM17 37h1v1h-1zM20 37h1v1h-1z"/>
<path fill="#8fff70" d="M23 6h1v1h-1zM21 7h1v1h-1zM26 7h1v1h-1zM29 7h3v1h-3zM33 7h3v1h-3zM20 9h1v1h-1zM2 10h1v1h-1zM20 10h1v1h-1zM0 11h1v1h-1zM2 11h1v1h-1zM20 11h1v1h-1zM2 12h1v1h-1zM5 12h1v1h-1zM19 12h2v1h-2zM14 13h2v1h-2zM18 13h1v1h-1zM3 14h2v1h-2zM7 14h1v1h-1zM13 14h1v1h-1zM16 14h2v1h-2zM3 15h1v1h-1zM7 15h1v1h-1zM11 15h2v1h-2zM3 16h1v1h-1zM7 16h1v1h-1zM11 16h3v1h-3zM3 17h1v1h-1zM13 17h1v1h-1zM2 18h1v1h-1zM14 18h1v1h-1zM15 19h2v1h-2zM17 20h2v1h-2zM19 21h1v1h-1zM16 22h1v1h-1zM14 23h3v1h-3zM0 24h1v1h-1zM17 25h2v1h-2zM18 26h2v1h-2zM19 27h1v1h-1zM20 28h1v1h-1zM27 28h2v1h-2zM27 29h2v1h-2zM30 29h1v1h-1zM33 29h1v1h-1zM21 30h1v1h-1zM27 30h2v1h-2zM30 30h2v1h-2zM33 30h3v1h-3zM37 30h1v1h-1zM22 31h1v1h-1zM26 31h1v1h-1zM29 31h1v1h-1zM32 31h1v1h-1zM35 31h4v1h-4zM27 32h1v1h-1zM30 32h2v1h-2zM33 32h2v1h-2zM37 32h1v1h-1zM21 33h1v1h-1zM27 33h1v1h-1zM29 33h3v1h-3zM33 33h3v1h-3zM37 33h2v1h-2zM21 34h1v1h-1zM26 34h2v1h-2zM29 34h3v1h-3zM33 34h3v1h-3zM37 34h2v1h-2zM21 35h1v1h-1zM27 35h2v1h-2zM30 35h2v1h-2zM33 35h3v1h-3zM37 35h1v1h-1zM27 36h2v1h-2zM30 36h2v1h-2zM33 36h2v1h-2zM37 36h1v1h-1zM28 37h1v1h-1zM30 37h1v1h-1zM33 37h1v1h-1zM20 38h1v1h-1zM28 38h1v1h-1zM30 38h1v1h-1zM33 38h1v1h-1zM37 38h1v1h-1z"/>
<path fill="#9fff60" d="M21 9h1v1h-1zM27 9h1v1h-1zM0 12h1v1h-1zM2 13h1v1h-1zM2 16h1v1h-1zM4 16h1v1h-1zM14 16h1v1h-1zM0 20h1v1h-1zM0 21h1v1h-1zM19 22h1v1h-1zM0 23h1v1h-1zM10 23h1v1h-1zM1 25h1v1h-1zM19 25h1v1h-1zM30 28h1v1h-1zM33 28h1v1h-1zM23 31h1v1h-1z"/>
<path fill="#afff50" d="M24 6h1v1h-1zM1 7h2v1h-2zM1 8h1v1h-1zM20 8h1v1h-1zM2 9h1v1h-1zM19 10h1v1h-1zM19 11h1v1h-1zM13 15h1v1h-1zM4 18h1v1h-1zM13 24h4v1h-4zM21 29h1v1h-1zM29 30h1v1h-1zM32 30h1v1h-1zM29 32h1v1h-1zM32 32h1v1h-1zM35 32h1v1h-1zM38 32h1v1h-1zM29 35h1v1h-1z"/>
<path fill="#bfff40" d="M22 7h2v1h-2zM25 7h1v1h-1zM32 7h1v1h-1zM36 7h3v1h-3zM2 8h1v1h-1zM21 8h1v1h-1zM26 8h3v1h-3zM30 8h1v1h-1zM34 8h2v1h-2zM1 9h1v1h-1zM26 9h1v1h-1zM28 9h1v1h-1zM21 10h1v1h-1zM25 10h3v1h-3zM25 11h3v1h-3zM5 13h2v1h-2zM19 13h1v1h-1zM14 14h1v1h-1zM18 14h1v1h-1zM4 15h1v1h-1zM14 15h1v1h-1zM16 15h2v1h-2zM4 17h1v1h-1zM14 17h1v1h-1zM5 18h2v1h-2zM15 18h2v1h-2zM17 19h2v1h-2zM19 20h1v1h-1zM17 21h2v1h-2zM0 22h1v1h-1zM17 22h2v1h-2zM17 23h2v1h-2zM17 24h2v1h-2zM20 26h1v1h-1zM20 27h1v1h-1zM27 27h2v1h-2zM21 28h1v1h-1zM26 28h1v1h-1zM29 28h1v1h-1zM31 28h2v1h-2zM34 28h1v1h-1zM37 28h2v1h-2zM22 29h2v1h-2zM25 29h2v1h-2zM29 29h1v1h-1zM31 29h2v1h-2zM34 29h5v1h-5zM22 30h5v1h-5zM36 30h1v1h-1zM38 30h1v1h-1zM24 31h2v1h-2zM22 32h2v1h-2zM26 32h1v1h-1zM36 32h1v1h-1zM22 33h1v1h-1zM26 33h1v1h-1zM32 33h1v1h-1zM36 33h1v1h-1zM22 34h1v1h-1zM32 34h1v1h-1zM36 34h1v1h-1zM22 35h1v1h-1zM26 35h1v1h-1zM32 35h1v1h-1zM36 35h1v1h-1zM38 35h1v1h-1zM21 36h1v1h-1zM29 36h1v1h-1zM32 36h1v1h-1zM35 36h2v1h-2zM38 36h1v1h-1zM21 37h1v1h-1zM27 37h1v1h-1zM29 37h1v1h-1zM31 37h1v1h-1zM34 37h5v1h-5zM21 38h1v1h-1zM27 38h1v1h-1zM29 38h1v1h-1zM31 38h2v1h-2zM34 38h3v1h-3zM38 38h1v1h-1z"/>
<path fill="#cfff30" d="M24 7h1v1h-1zM31 8h1v1h-1zM33 8h1v1h-1zM23 9h3v1h-3zM29 9h3v1h-3zM33 9h6v1h-6zM24 10h1v1h-1zM28 10h1v1h-1zM31 10h1v1h-1zM34 10h1v1h-1zM21 11h1v1h-1zM24 11h1v1h-1zM28 11h1v1h-1zM31 11h1v1h-1zM34 11h1v1h-1zM21 12h1v1h-1zM24 12h5v1h-5zM34 12h1v1h-1zM0 13h1v1h-1zM20 13h1v1h-1zM0 14h1v1h-1zM2 14h1v1h-1zM2 15h1v1h-1zM18 15h1v1h-1zM16 16h3v1h-3zM2 17h1v1h-1zM17 18h2v1h-2zM0 19h1v1h-1zM19 19h1v1h-1zM20 20h1v1h-1zM20 21h1v1h-1zM20 22h1v1h-1zM28 22h1v1h-1zM30 22h1v1h-1zM19 23h1v1h-1zM20 25h1v1h-1zM27 25h2v1h-2zM30 25h1v1h-1zM33 25h1v1h-1zM27 26h2v1h-2zM30 26h1v1h-1zM33 26h1v1h-1zM21 27h1v1h-1zM30 27h2v1h-2zM33 27h1v1h-1zM37 27h2v1h-2zM22 28h2v1h-2zM25 28h1v1h-1zM35 28h2v1h-2zM24 29h1v1h-1zM25 32h1v1h-1zM23 33h1v1h-1zM25 33h1v1h-1zM23 34h1v1h-1zM25 34h1v1h-1zM23 35h1v1h-1zM22 36h2v1h-2zM26 36h1v1h-1zM22 38h1v1h-1z"/>
<path fill="#dfff20" d="M31 12h1v1h-1zM33 12h1v1h-1zM0 15h1v1h-1zM1 20h1v1h-1zM28 20h1v1h-1zM30 20h1v1h-1zM33 20h1v1h-1zM1 21h1v1h-1zM28 21h1v1h-1zM30 21h1v1h-1zM33 21h1v1h-1zM33 22h1v1h-1zM28 23h1v1h-1zM30 23h1v1h-1zM31 25h1v1h-1zM34 25h1v1h-1z"/>
<path fill="#efff10" d="M25 8h1v1h-1zM29 8h1v1h-1zM36 8h1v1h-1zM1 10h1v1h-1zM1 12h1v1h-1zM5 14h2v1h-2zM15 14h1v1h-1zM15 16h1v1h-1zM6 17h1v1h-1zM1 22h1v1h-1zM1 23h1v1h-1zM19 24h1v1h-1zM29 27h1v1h-1zM24 32h1v1h-1zM22 37h1v1h-1zM32 37h1v1h-1z"/>
<path fill="#ffff00" d="M23 8h2v1h-2zM37 8h2v1h-2zM22 9h1v1h-1zM32 9h1v1h-1zM23 10h1v1h-1zM29 10h2v1h-2zM33 10h1v1h-1zM35 10h1v1h-1zM37 10h1v1h-1zM23 11h1v1h-1zM29 11h2v1h-2zM33 11h1v1h-1zM35 11h1v1h-1zM29 12h2v1h-2zM21 13h1v1h-1zM24 13h4v1h-4zM19 14h2v1h-2zM5 15h2v1h-2zM15 15h1v1h-1zM19 15h1v1h-1zM5 16h1v1h-1zM19 16h1v1h-1zM5 17h1v1h-1zM15 17h4v1h-4zM19 18h1v1h-1zM27 22h1v1h-1zM31 22h1v1h-1zM20 23h1v1h-1zM1 24h1v1h-1zM29 25h1v1h-1zM21 26h1v1h-1zM26 26h1v1h-1zM29 26h1v1h-1zM31 26h1v1h-1zM34 26h1v1h-1zM37 26h2v1h-2zM22 27h2v1h-2zM26 27h1v1h-1zM32 27h1v1h-1zM34 27h2v1h-2zM24 28h1v1h-1zM24 33h1v1h-1zM24 34h1v1h-1zM25 35h1v1h-1zM23 37h1v1h-1zM26 37h1v1h-1zM23 38h1v1h-1zM26 38h1v1h-1z"/>
<path fill="#ffef00" d="M22 8h1v1h-1zM32 8h1v1h-1zM1 11h1v1h-1zM37 11h2v1h-2zM23 12h1v1h-1zM35 12h1v1h-1zM37 12h2v1h-2zM31 13h1v1h-1zM33 13h1v1h-1zM24 14h4v1h-4zM31 14h1v1h-1zM33 14h1v1h-1zM20 15h1v1h-1zM0 16h1v1h-1zM6 16h1v1h-1zM20 16h1v1h-1zM0 18h1v1h-1zM1 19h1v1h-1zM20 19h1v1h-1zM30 19h1v1h-1zM33 19h1v1h-1zM23 20h1v1h-1zM27 20h1v1h-1zM31 20h2v1h-2zM23 22h2v1h-2zM32 22h1v1h-1zM37 22h1v1h-1zM24 23h2v1h-2zM27 23h1v1h-1zM33 23h1v1h-1zM21 25h1v1h-1zM23 25h4v1h-4zM32 25h1v1h-1zM35 25h1v1h-1zM37 25h2v1h-2zM23 26h1v1h-1zM25 26h1v1h-1zM35 26h1v1h-1zM25 36h1v1h-1z"/>
<path fill="#ffdf00" d="M22 10h1v1h-1zM32 10h1v1h-1zM36 10h1v1h-1zM38 10h1v1h-1zM22 11h1v1h-1zM32 11h1v1h-1zM22 12h1v1h-1zM32 12h1v1h-1zM1 13h1v1h-1zM28 13h1v1h-1zM34 13h1v1h-1zM27 16h1v1h-1zM33 16h1v1h-1zM19 17h1v1h-1zM27 21h1v1h-1zM31 21h2v1h-2zM29 22h1v1h-1zM29 23h1v1h-1zM31 23h1v1h-1zM20 24h1v1h-1zM28 24h1v1h-1zM30 24h1v1h-1zM22 26h1v1h-1zM24 26h1v1h-1zM32 26h1v1h-1zM25 27h1v1h-1zM36 27h1v1h-1zM24 35h1v1h-1zM24 36h1v1h-1z"/>
<path fill="#ffcf00" d="M36 11h1v1h-1zM36 12h1v1h-1zM22 13h2v1h-2zM29 13h2v1h-2zM35 13h1v1h-1zM21 14h1v1h-1zM28 14h1v1h-1zM30 14h1v1h-1zM34 14h1v1h-1zM24 15h5v1h-5zM30 15h1v1h-1zM33 15h2v1h-2zM25 16h2v1h-2zM0 17h1v1h-1zM20 17h1v1h-1zM20 18h1v1h-1zM24 18h1v1h-1zM24 19h3v1h-3zM31 19h2v1h-2zM21 20h2v1h-2zM24 20h3v1h-3zM29 20h1v1h-1zM34 20h1v1h-1zM38 20h1v1h-1zM21 21h6v1h-6zM34 21h2v1h-2zM37 21h2v1h-2zM21 22h2v1h-2zM25 22h2v1h-2zM34 22h2v1h-2zM38 22h1v1h-1zM23 23h1v1h-1zM26 23h1v1h-1zM32 23h1v1h-1zM34 23h1v1h-1zM38 23h1v1h-1zM27 24h1v1h-1zM31 24h1v1h-1zM33 24h1v1h-1zM22 25h1v1h-1zM36 25h1v1h-1zM36 26h1v1h-1zM24 27h1v1h-1zM24 37h2v1h-2zM24 38h2v1h-2z"/>
<path fill="#ffbf00" d="M37 13h1v1h-1zM21 15h1v1h-1zM31 15h1v1h-1zM21 16h1v1h-1zM24 16h1v1h-1zM28 16h1v1h-1zM30 16h2v1h-2zM34 16h1v1h-1zM24 17h1v1h-1zM25 18h1v1h-1zM30 18h1v1h-1zM33 18h1v1h-1zM23 19h1v1h-1zM27 19h1v1h-1zM35 20h3v1h-3zM36 22h1v1h-1zM21 23h1v1h-1zM35 23h1v1h-1zM37 23h1v1h-1z"/>
<path fill="#ffaf00" d="M1 14h1v1h-1zM1 15h1v1h-1zM1 16h1v1h-1zM1 18h1v1h-1zM29 21h1v1h-1zM29 24h1v1h-1zM32 24h1v1h-1zM34 24h1v1h-1z"/>
<path fill="#ff9f00" d="M32 13h1v1h-1zM36 13h1v1h-1zM38 13h1v1h-1zM23 14h1v1h-1zM29 14h1v1h-1zM32 14h1v1h-1zM35 14h1v1h-1zM29 15h1v1h-1zM25 17h1v1h-1zM26 18h1v1h-1zM31 18h1v1h-1zM21 19h1v1h-1zM28 19h2v1h-2zM34 19h1v1h-1zM36 21h1v1h-1zM22 23h1v1h-1zM36 23h1v1h-1zM21 24h1v1h-1zM23 24h4v1h-4zM35 24h1v1h-1zM37 24h2v1h-2z"/>
<path fill="#ff8f00" d="M22 14h1v1h-1zM36 14h3v1h-3zM23 15h1v1h-1zM35 15h1v1h-1zM37 15h2v1h-2zM23 16h1v1h-1zM29 16h1v1h-1zM32 16h1v1h-1zM35 16h1v1h-1zM38 16h1v1h-1zM21 17h1v1h-1zM23 17h1v1h-1zM26 17h3v1h-3zM30 17h2v1h-2zM33 17h2v1h-2zM21 18h1v1h-1zM23 18h1v1h-1zM27 18h2v1h-2zM32 18h1v1h-1zM34 18h1v1h-1zM22 19h1v1h-1zM35 19h4v1h-4z"/>
<path fill="#ff8000" d="M37 16h1v1h-1zM1 17h1v1h-1z"/>
<path fill="#ff7000" d="M32 15h1v1h-1zM22 24h1v1h-1zM36 24h1v1h-1z"/>
<path fill="#ff6000" d="M22 15h1v1h-1zM36 15h1v1h-1zM22 16h1v1h-1zM36 16h1v1h-1zM22 17h1v1h-1zM29 17h1v1h-1zM32 17h1v1h-1zM35 17h1v1h-1zM22 18h1v1h-1zM29 18h1v1h-1zM35 18h1v1h-1z"/>
<path fill="#ff5000" d="M36 17h3v1h-3zM36 18h3v1h-3z"/>
</g>
<path d="M124.4 613.3V921.3H437.3" fill="none" stroke="#8a8a8a" stroke-width="1"/>
<path d="M124.4 921.3v-2.6M124.4 921.3h2.6M202.38 921.3v-2.6M124.4 844.38h2.6M280.35 921.3v-2.6M124.4 767.45h2.6M358.32 921.3v-2.6M124.4 690.52h2.6M436.3 921.3v-2.6M124.4 613.6h2.6" stroke="#333" stroke-width="0.9" fill="none"/>
<text x="124.4" y="941" font-size="16.2" text-anchor="middle" textLength="8.63" lengthAdjust="spacingAndGlyphs" stroke="#000" stroke-width="0.3">0</text>
<text x="121.8" y="928.2" font-size="16.2" text-anchor="end" textLength="8.63" lengthAdjust="spacingAndGlyphs" stroke="#000" stroke-width="0.3">0</text>
<text x="202.38" y="941" font-size="16.2" text-anchor="middle" textLength="17.27" lengthAdjust="spacingAndGlyphs" stroke="#000" stroke-width="0.3">10</text>
<text x="121.8" y="851.27" font-size="16.2" text-anchor="end" textLength="17.27" lengthAdjust="spacingAndGlyphs" stroke="#000" stroke-width="0.3">10</text>
<text x="280.35" y="941" font-size="16.2" text-anchor="middle" textLength="17.27" lengthAdjust="spacingAndGlyphs" stroke="#000" stroke-width="0.3">20</text>
<text x="121.8" y="774.35" font-size="16.2" text-anchor="end" textLength="17.27" lengthAdjust="spacingAndGlyphs" stroke="#000" stroke-width="0.3">20</text>
<text x="358.32" y="941" font-size="16.2" text-anchor="middle" textLength="17.27" lengthAdjust="spacingAndGlyphs" stroke="#000" stroke-width="0.3">30</text>
<text x="121.8" y="697.42" font-size="16.2" text-anchor="end" textLength="17.27" lengthAdjust="spacingAndGlyphs" stroke="#000" stroke-width="0.3">30</text>
<text x="436.3" y="941" font-size="16.2" text-anchor="middle" textLength="17.27" lengthAdjust="spacingAndGlyphs" stroke="#000" stroke-width="0.3">40</text>
<text x="121.8" y="620.5" font-size="16.2" text-anchor="end" textLength="17.27" lengthAdjust="spacingAndGlyphs" stroke="#000" stroke-width="0.3">40</text>
<g shape-rendering="crispEdges">
<rect x="449.3" y="619.2" width="17.6" height="5.03" fill="#800000"/>
<rect x="449.3" y="623.93" width="17.6" height="5.03" fill="#8f0000"/>
<rect x="449.3" y="628.66" width="17.6" height="5.03" fill="#9f0000"/>
<rect x="449.3" y="633.38" width="17.6" height="5.03" fill="#af0000"/>
<rect x="449.3" y="638.11" width="17.6" height="5.03" fill="#bf0000"/>
<rect x="449.3" y="642.84" width="17.6" height="5.03" fill="#cf0000"/>
<rect x="449.3" y="647.57" width="17.6" height="5.03" fill="#df0000"/>
<rect x="449.3" y="652.3" width="17.6" height="5.03" fill="#ef0000"/>
<rect x="449.3" y="657.03" width="17.6" height="5.03" fill="#ff0000"/>
<rect x="449.3" y="661.75" width="17.6" height="5.03" fill="#ff1000"/>
<rect x="449.3" y="666.48" width="17.6" height="5.03" fill="#ff2000"/>
<rect x="449.3" y="671.21" width="17.6" height="5.03" fill="#ff3000"/>
<rect x="449.3" y="675.94" width="17.6" height="5.03" fill="#ff4000"/>
<rect x="449.3" y="680.67" width="17.6" height="5.03" fill="#ff5000"/>
<rect x="449.3" y="685.39" width="17.6" height="5.03" fill="#ff6000"/>
<rect x="449.3" y="690.12" width="17.6" height="5.03" fill="#ff7000"/>
<rect x="449.3" y="694.85" width="17.6" height="5.03" fill="#ff8000"/>
<rect x="449.3" y="699.58" width="17.6" height="5.03" fill="#ff8f00"/>
<rect x="449.3" y="704.31" width="17.6" height="5.03" fill="#ff9f00"/>
<rect x="449.3" y="709.03" width="17.6" height="5.03" fill="#ffaf00"/>
<rect x="449.3" y="713.76" width="17.6" height="5.03" fill="#ffbf00"/>
<rect x="449.3" y="718.49" width="17.6" height="5.03" fill="#ffcf00"/>
<rect x="449.3" y="723.22" width="17.6" height="5.03" fill="#ffdf00"/>
<rect x="449.3" y="727.95" width="17.6" height="5.03" fill="#ffef00"/>
<rect x="449.3" y="732.67" width="17.6" height="5.03" fill="#ffff00"/>
<rect x="449.3" y="737.4" width="17.6" height="5.03" fill="#efff10"/>
<rect x="449.3" y="742.13" width="17.6" height="5.03" fill="#dfff20"/>
<rect x="449.3" y="746.86" width="17.6" height="5.03" fill="#cfff30"/>
<rect x="449.3" y="751.59" width="17.6" height="5.03" fill="#bfff40"/>
<rect x="449.3" y="756.32" width="17.6" height="5.03" fill="#afff50"/>
<rect x="449.3" y="761.04" width="17.6" height="5.03" fill="#9fff60"/>
<rect x="449.3" y="765.77" width="17.6" height="5.03" fill="#8fff70"/>
<rect x="449.3" y="770.5" width="17.6" height="5.03" fill="#80ff80"/>
<rect x="449.3" y="775.23" width="17.6" height="5.03" fill="#70ff8f"/>
<rect x="449.3" y="779.96" width="17.6" height="5.03" fill="#60ff9f"/>
<rect x="449.3" y="784.68" width="17.6" height="5.03" fill="#50ffaf"/>
<rect x="449.3" y="789.41" width="17.6" height="5.03" fill="#40ffbf"/>
<rect x="449.3" y="794.14" width="17.6" height="5.03" fill="#30ffcf"/>
<rect x="449.3" y="798.87" width="17.6" height="5.03" fill="#20ffdf"/>
<rect x="449.3" y="803.6" width="17.6" height="5.03" fill="#10ffef"/>
<rect x="449.3" y="808.33" width="17.6" height="5.03" fill="#00ffff"/>
<rect x="449.3" y="813.05" width="17.6" height="5.03" fill="#00efff"/>
<rect x="449.3" y="817.78" width="17.6" height="5.03" fill="#00dfff"/>
<rect x="449.3" y="822.51" width="17.6" height="5.03" fill="#00cfff"/>
<rect x="449.3" y="827.24" width="17.6" height="5.03" fill="#00bfff"/>
<rect x="449.3" y="831.97" width="17.6" height="5.03" fill="#00afff"/>
<rect x="449.3" y="836.69" width="17.6" height="5.03" fill="#009fff"/>
<rect x="449.3" y="841.42" width="17.6" height="5.03" fill="#008fff"/>
<rect x="449.3" y="846.15" width="17.6" height="5.03" fill="#0080ff"/>
<rect x="449.3" y="850.88" width="17.6" height="5.03" fill="#0070ff"/>
<rect x="449.3" y="855.61" width="17.6" height="5.03" fill="#0060ff"/>
<rect x="449.3" y="860.33" width="17.6" height="5.03" fill="#0050ff"/>
<rect x="449.3" y="865.06" width="17.6" height="5.03" fill="#0040ff"/>
<rect x="449.3" y="869.79" width="17.6" height="5.03" fill="#0030ff"/>
<rect x="449.3" y="874.52" width="17.6" height="5.03" fill="#0020ff"/>
<rect x="449.3" y="879.25" width="17.6" height="5.03" fill="#0010ff"/>
<rect x="449.3" y="883.97" width="17.6" height="5.03" fill="#0000ff"/>
<rect x="449.3" y="888.7" width="17.6" height="5.03" fill="#0000ef"/>
<rect x="449.3" y="893.43" width="17.6" height="5.03" fill="#0000df"/>
<rect x="449.3" y="898.16" width="17.6" height="5.03" fill="#0000cf"/>
<rect x="449.3" y="902.89" width="17.6" height="5.03" fill="#0000bf"/>
<rect x="449.3" y="907.62" width="17.6" height="5.03" fill="#0000af"/>
<rect x="449.3" y="912.34" width="17.6" height="5.03" fill="#00009f"/>
<rect x="449.3" y="917.07" width="17.6" height="5.03" fill="#00008f"/>
</g>
<rect x="449.3" y="619.2" width="17.6" height="302.6" fill="none" stroke="#777" stroke-width="0.7"/>
<text x="468.27" y="625.1" font-size="15.9" textLength="8.8" lengthAdjust="spacingAndGlyphs" stroke="#000" stroke-width="0.3">1</text>
<text x="468.27" y="700.75" font-size="15.9" textLength="21.99" lengthAdjust="spacingAndGlyphs" stroke="#000" stroke-width="0.3">0.5</text>
<text x="468.27" y="776.4" font-size="15.9" textLength="8.8" lengthAdjust="spacingAndGlyphs" stroke="#000" stroke-width="0.3">0</text>
<text x="468.27" y="852.05" font-size="15.9" textLength="27.26" lengthAdjust="spacingAndGlyphs" stroke="#000" stroke-width="0.3">-0.5</text>
<text x="468.27" y="927.7" font-size="15.9" textLength="14.07" lengthAdjust="spacingAndGlyphs" stroke="#000" stroke-width="0.3">-1</text>
<path d="M449.3 619.6h2.6M466.9 619.6h-2.6M449.3 695h2.6M466.9 695h-2.6M449.3 770.65h2.6M466.9 770.65h-2.6M449.3 846.3h2.6M466.9 846.3h-2.6M449.3 921.4h2.6M466.9 921.4h-2.6" stroke="#222" stroke-width="0.8" fill="none"/>
<g font-size="16" stroke="#000" stroke-width="0.3"><text x="130.95" y="599.8" textLength="83.03" lengthAdjust="spacingAndGlyphs">Correlation</text> <text x="217.97" y="599.8" textLength="35.55" lengthAdjust="spacingAndGlyphs">(Coh</text> <text x="257.26" y="599.8" textLength="81.82" lengthAdjust="spacingAndGlyphs">vHIP-mPFC</text> <text x="343.11" y="599.8" textLength="7.58" lengthAdjust="spacingAndGlyphs">x</text> <text x="354.8" y="599.8" textLength="29.87" lengthAdjust="spacingAndGlyphs">PSD</text> <text x="388.66" y="599.8" textLength="33.54" lengthAdjust="spacingAndGlyphs">vHIP</text> <text x="426.06" y="599.8" textLength="6.03" lengthAdjust="spacingAndGlyphs">)</text></g>
<g font-size="16" stroke="#000" stroke-width="0.3"><text x="231.47" y="967.8" textLength="28.27" lengthAdjust="spacingAndGlyphs">PSD</text> <text x="264.26" y="967.8" textLength="33.54" lengthAdjust="spacingAndGlyphs">vHIP</text> <text x="301.52" y="967.8" textLength="29.74" lengthAdjust="spacingAndGlyphs">(Hz)</text></g>
<g font-size="16" stroke="#000" stroke-width="0.3" transform="rotate(-90 97.3 864.6)"><text x="96.5" y="864.6" textLength="78.52" lengthAdjust="spacingAndGlyphs">Coherence</text> <text x="179.61" y="864.6" textLength="81.99" lengthAdjust="spacingAndGlyphs">vHIP-mPFC</text> <text x="265.06" y="864.6" textLength="30.53" lengthAdjust="spacingAndGlyphs">(Hz)</text></g>
<!-- B p -->
<g transform="translate(564.9,610.8) scale(7.8077,7.6808)" shape-rendering="crispEdges">
<rect width="39" height="39" fill="#00008f"/>
<path fill="#0000cf" d="M15 1h1v1h-1zM10 4h1v1h-1zM7 30h1v1h-1z"/>
<path fill="#0000ef" d="M5 38h2v1h-2z"/>
<path fill="#0010ff" d="M14 0h1v1h-1zM6 35h1v1h-1zM9 38h1v1h-1z"/>
<path fill="#0050ff" d="M21 0h1v1h-1zM11 5h1v1h-1zM9 35h1v1h-1z"/>
<path fill="#0070ff" d="M16 3h1v1h-1zM9 30h1v1h-1zM6 36h1v1h-1z"/>
<path fill="#008fff" d="M19 4h1v1h-1z"/>
<path fill="#00afff" d="M17 1h1v1h-1zM20 1h1v1h-1zM27 1h2v1h-2zM7 31h1v1h-1z"/>
<path fill="#00cfff" d="M16 0h1v1h-1z"/>
<path fill="#00efff" d="M36 17h1v1h-1zM9 36h1v1h-1z"/>
<path fill="#10ffef" d="M16 2h1v1h-1zM19 3h1v1h-1zM11 4h1v1h-1zM8 5h1v1h-1zM9 33h1v1h-1zM5 36h1v1h-1z"/>
<path fill="#30ffcf" d="M18 3h1v1h-1zM8 4h1v1h-1z"/>
<path fill="#50ffaf" d="M13 0h1v1h-1zM18 0h1v1h-1zM14 1h1v1h-1zM6 34h1v1h-1z"/>
<path fill="#8fff70" d="M14 2h1v1h-1zM8 28h1v1h-1zM7 37h1v1h-1z"/>
<path fill="#9fff60" d="M19 0h1v1h-1zM6 1h1v1h-1zM16 1h1v1h-1zM21 1h1v1h-1zM18 2h1v1h-1zM8 3h2v1h-2zM8 34h1v1h-1z"/>
<path fill="#bfff40" d="M9 32h1v1h-1zM6 33h1v1h-1z"/>
<path fill="#dfff20" d="M12 0h1v1h-1zM9 5h1v1h-1zM9 31h1v1h-1z"/>
<path fill="#ffff00" d="M9 4h1v1h-1zM7 32h1v1h-1z"/>
<path fill="#ffdf00" d="M13 1h1v1h-1zM12 2h1v1h-1z"/>
<path fill="#ffbf00" d="M6 0h1v1h-1zM12 1h1v1h-1zM18 1h1v1h-1zM7 35h1v1h-1zM7 38h1v1h-1z"/>
<path fill="#ff9f00" d="M13 2h1v1h-1zM8 29h1v1h-1zM8 35h1v1h-1z"/>
<path fill="#ff8000" d="M19 2h1v1h-1z"/>
<path fill="#ff6000" d="M8 0h1v1h-1zM7 1h2v1h-2zM10 2h2v1h-2zM7 36h1v1h-1zM8 37h1v1h-1z"/>
<path fill="#ff4000" d="M8 30h1v1h-1zM8 38h1v1h-1z"/>
<path fill="#ff2000" d="M19 1h1v1h-1zM8 2h1v1h-1zM7 34h1v1h-1z"/>
<path fill="#ff0000" d="M7 0h1v1h-1zM10 0h2v1h-2zM10 1h1v1h-1zM8 33h1v1h-1z"/>
<path fill="#df0000" d="M8 31h1v1h-1zM8 36h1v1h-1z"/>
<path fill="#bf0000" d="M11 1h1v1h-1zM9 2h1v1h-1zM8 32h1v1h-1zM7 33h1v1h-1z"/>
<path fill="#9f0000" d="M9 1h1v1h-1z"/>
<path fill="#800000" d="M9 0h1v1h-1z"/>
</g>
<path d="M557.4 610.3V918.4H870.4" fill="none" stroke="#8a8a8a" stroke-width="1"/>
<path d="M557.4 918.4v-2.6M557.4 918.4h2.6M635.4 918.4v-2.6M557.4 841.45h2.6M713.4 918.4v-2.6M557.4 764.5h2.6M791.4 918.4v-2.6M557.4 687.55h2.6M869.4 918.4v-2.6M557.4 610.6h2.6" stroke="#333" stroke-width="0.9" fill="none"/>
<text x="557.4" y="938.1" font-size="16.4" text-anchor="middle" textLength="8.69" lengthAdjust="spacingAndGlyphs" stroke="#000" stroke-width="0.3">0</text>
<text x="554.8" y="925.3" font-size="16.4" text-anchor="end" textLength="8.69" lengthAdjust="spacingAndGlyphs" stroke="#000" stroke-width="0.3">0</text>
<text x="635.4" y="938.1" font-size="16.4" text-anchor="middle" textLength="17.37" lengthAdjust="spacingAndGlyphs" stroke="#000" stroke-width="0.3">10</text>
<text x="554.8" y="848.35" font-size="16.4" text-anchor="end" textLength="17.37" lengthAdjust="spacingAndGlyphs" stroke="#000" stroke-width="0.3">10</text>
<text x="713.4" y="938.1" font-size="16.4" text-anchor="middle" textLength="17.37" lengthAdjust="spacingAndGlyphs" stroke="#000" stroke-width="0.3">20</text>
<text x="554.8" y="771.4" font-size="16.4" text-anchor="end" textLength="17.37" lengthAdjust="spacingAndGlyphs" stroke="#000" stroke-width="0.3">20</text>
<text x="791.4" y="938.1" font-size="16.4" text-anchor="middle" textLength="17.37" lengthAdjust="spacingAndGlyphs" stroke="#000" stroke-width="0.3">30</text>
<text x="554.8" y="694.45" font-size="16.4" text-anchor="end" textLength="17.37" lengthAdjust="spacingAndGlyphs" stroke="#000" stroke-width="0.3">30</text>
<text x="869.4" y="938.1" font-size="16.4" text-anchor="middle" textLength="17.37" lengthAdjust="spacingAndGlyphs" stroke="#000" stroke-width="0.3">40</text>
<text x="554.8" y="617.5" font-size="16.4" text-anchor="end" textLength="17.37" lengthAdjust="spacingAndGlyphs" stroke="#000" stroke-width="0.3">40</text>
<g shape-rendering="crispEdges">
<rect x="883.55" y="610.1" width="19.7" height="5.14" fill="#800000"/>
<rect x="883.55" y="614.94" width="19.7" height="5.14" fill="#ff0500"/>
<rect x="883.55" y="619.78" width="19.7" height="5.14" fill="#ff0f00"/>
<rect x="883.55" y="624.62" width="19.7" height="5.14" fill="#ff1800"/>
<rect x="883.55" y="629.46" width="19.7" height="5.14" fill="#ff2200"/>
<rect x="883.55" y="634.3" width="19.7" height="5.14" fill="#ff2c00"/>
<rect x="883.55" y="639.13" width="19.7" height="5.14" fill="#ff3500"/>
<rect x="883.55" y="643.97" width="19.7" height="5.14" fill="#ff3f00"/>
<rect x="883.55" y="648.81" width="19.7" height="5.14" fill="#ff4900"/>
<rect x="883.55" y="653.65" width="19.7" height="5.14" fill="#ff5300"/>
<rect x="883.55" y="658.49" width="19.7" height="5.14" fill="#ff5c00"/>
<rect x="883.55" y="663.33" width="19.7" height="5.14" fill="#ff6600"/>
<rect x="883.55" y="668.17" width="19.7" height="5.14" fill="#ff7000"/>
<rect x="883.55" y="673.01" width="19.7" height="5.14" fill="#ff7a00"/>
<rect x="883.55" y="677.85" width="19.7" height="5.14" fill="#ff8500"/>
<rect x="883.55" y="682.69" width="19.7" height="5.14" fill="#ff9000"/>
<rect x="883.55" y="687.52" width="19.7" height="5.14" fill="#ff9b00"/>
<rect x="883.55" y="692.36" width="19.7" height="5.14" fill="#ffa600"/>
<rect x="883.55" y="697.2" width="19.7" height="5.14" fill="#ffb100"/>
<rect x="883.55" y="702.04" width="19.7" height="5.14" fill="#ffbc00"/>
<rect x="883.55" y="706.88" width="19.7" height="5.14" fill="#ffc700"/>
<rect x="883.55" y="711.72" width="19.7" height="5.14" fill="#ffd200"/>
<rect x="883.55" y="716.56" width="19.7" height="5.14" fill="#ffdd00"/>
<rect x="883.55" y="721.4" width="19.7" height="5.14" fill="#ffe800"/>
<rect x="883.55" y="726.24" width="19.7" height="5.14" fill="#fff300"/>
<rect x="883.55" y="731.08" width="19.7" height="5.14" fill="#fffe00"/>
<rect x="883.55" y="735.92" width="19.7" height="5.14" fill="#edff12"/>
<rect x="883.55" y="740.75" width="19.7" height="5.14" fill="#d9ff26"/>
<rect x="883.55" y="745.59" width="19.7" height="5.14" fill="#c5ff3a"/>
<rect x="883.55" y="750.43" width="19.7" height="5.14" fill="#b1ff4e"/>
<rect x="883.55" y="755.27" width="19.7" height="5.14" fill="#9dff62"/>
<rect x="883.55" y="760.11" width="19.7" height="5.14" fill="#89ff76"/>
<rect x="883.55" y="764.95" width="19.7" height="5.14" fill="#78ff87"/>
<rect x="883.55" y="769.79" width="19.7" height="5.14" fill="#68ff97"/>
<rect x="883.55" y="774.63" width="19.7" height="5.14" fill="#58ffa7"/>
<rect x="883.55" y="779.47" width="19.7" height="5.14" fill="#48ffb7"/>
<rect x="883.55" y="784.31" width="19.7" height="5.14" fill="#38ffc7"/>
<rect x="883.55" y="789.15" width="19.7" height="5.14" fill="#28ffd7"/>
<rect x="883.55" y="793.98" width="19.7" height="5.14" fill="#19ffe6"/>
<rect x="883.55" y="798.82" width="19.7" height="5.14" fill="#0ffff0"/>
<rect x="883.55" y="803.66" width="19.7" height="5.14" fill="#05fffa"/>
<rect x="883.55" y="808.5" width="19.7" height="5.14" fill="#00f8ff"/>
<rect x="883.55" y="813.34" width="19.7" height="5.14" fill="#00eaff"/>
<rect x="883.55" y="818.18" width="19.7" height="5.14" fill="#00dcff"/>
<rect x="883.55" y="823.02" width="19.7" height="5.14" fill="#00cfff"/>
<rect x="883.55" y="827.86" width="19.7" height="5.14" fill="#00c1ff"/>
<rect x="883.55" y="832.7" width="19.7" height="5.14" fill="#00b3ff"/>
<rect x="883.55" y="837.54" width="19.7" height="5.14" fill="#00a5ff"/>
<rect x="883.55" y="842.38" width="19.7" height="5.14" fill="#0098ff"/>
<rect x="883.55" y="847.21" width="19.7" height="5.14" fill="#008aff"/>
<rect x="883.55" y="852.05" width="19.7" height="5.14" fill="#007cff"/>
<rect x="883.55" y="856.89" width="19.7" height="5.14" fill="#0070ff"/>
<rect x="883.55" y="861.73" width="19.7" height="5.14" fill="#0067ff"/>
<rect x="883.55" y="866.57" width="19.7" height="5.14" fill="#005dff"/>
<rect x="883.55" y="871.41" width="19.7" height="5.14" fill="#0054ff"/>
<rect x="883.55" y="876.25" width="19.7" height="5.14" fill="#004bff"/>
<rect x="883.55" y="881.09" width="19.7" height="5.14" fill="#0041ff"/>
<rect x="883.55" y="885.93" width="19.7" height="5.14" fill="#0038ff"/>
<rect x="883.55" y="890.77" width="19.7" height="5.14" fill="#002fff"/>
<rect x="883.55" y="895.6" width="19.7" height="5.14" fill="#0025ff"/>
<rect x="883.55" y="900.44" width="19.7" height="5.14" fill="#001cff"/>
<rect x="883.55" y="905.28" width="19.7" height="5.14" fill="#0013ff"/>
<rect x="883.55" y="910.12" width="19.7" height="5.14" fill="#000aff"/>
<rect x="883.55" y="914.96" width="19.7" height="5.14" fill="#00008f"/>
</g>
<rect x="883.55" y="610.1" width="19.7" height="309.7" fill="none" stroke="#777" stroke-width="0.7"/>
<text x="904.24" y="617" font-size="19.8" textLength="10.59" lengthAdjust="spacingAndGlyphs" stroke="#000" stroke-width="0.3">0</text>
<text x="904.24" y="678.92" font-size="19.8" textLength="37.07" lengthAdjust="spacingAndGlyphs" stroke="#000" stroke-width="0.3">0.01</text>
<text x="904.24" y="740.84" font-size="19.8" textLength="37.07" lengthAdjust="spacingAndGlyphs" stroke="#000" stroke-width="0.3">0.02</text>
<text x="904.24" y="802.76" font-size="19.8" textLength="37.07" lengthAdjust="spacingAndGlyphs" stroke="#000" stroke-width="0.3">0.03</text>
<text x="904.24" y="864.68" font-size="19.8" textLength="37.07" lengthAdjust="spacingAndGlyphs" stroke="#000" stroke-width="0.3">0.04</text>
<text x="904.24" y="926.6" font-size="19.8" textLength="53.49" lengthAdjust="spacingAndGlyphs" stroke="#000" stroke-width="0.3">&gt; 0.05</text>
<path d="M883.55 610.8h2.6M903.25 610.8h-2.6M883.55 672.72h2.6M903.25 672.72h-2.6M883.55 734.64h2.6M903.25 734.64h-2.6M883.55 796.56h2.6M903.25 796.56h-2.6M883.55 858.48h2.6M903.25 858.48h-2.6M883.55 919.4h2.6M903.25 919.4h-2.6" stroke="#222" stroke-width="0.8" fill="none"/>
<text x="687.71" y="594.6" font-size="16" textLength="55.25" lengthAdjust="spacingAndGlyphs" stroke="#000" stroke-width="0.3">p-value</text>
<g font-size="16" stroke="#000" stroke-width="0.3"><text x="654.97" y="961.6" textLength="28.27" lengthAdjust="spacingAndGlyphs">PSD</text> <text x="687.76" y="961.6" textLength="33.54" lengthAdjust="spacingAndGlyphs">vHIP</text> <text x="725.02" y="961.6" textLength="29.74" lengthAdjust="spacingAndGlyphs">(Hz)</text></g>
<g font-size="16" stroke="#000" stroke-width="0.3" transform="rotate(-90 527.2 861.3)"><text x="526.4" y="861.3" textLength="78.56" lengthAdjust="spacingAndGlyphs">Coherence</text> <text x="609.56" y="861.3" textLength="82.03" lengthAdjust="spacingAndGlyphs">vHIP-mPFC</text> <text x="695.04" y="861.3" textLength="30.55" lengthAdjust="spacingAndGlyphs">(Hz)</text></g>
<!-- C corr -->
<g transform="translate(1184.55,167.7) scale(7.7603,7.6936)" shape-rendering="crispEdges">
<path fill="#00afff" d="M0 17h1v1h-1z"/>
<path fill="#00cfff" d="M0 21h1v1h-1z"/>
<path fill="#00dfff" d="M0 16h1v1h-1z"/>
<path fill="#00ffff" d="M18 0h1v1h-1zM21 0h1v1h-1zM25 0h1v1h-1zM30 0h2v1h-2zM35 0h1v1h-1zM0 15h1v1h-1zM0 18h1v1h-1zM30 19h1v1h-1zM0 20h1v1h-1zM0 22h1v1h-1z"/>
<path fill="#20ffdf" d="M26 0h2v1h-2zM29 0h1v1h-1zM36 0h1v1h-1zM0 19h1v1h-1zM2 20h1v1h-1zM6 20h1v1h-1zM30 20h1v1h-1z"/>
<path fill="#30ffcf" d="M0 14h1v1h-1zM0 23h1v1h-1z"/>
<path fill="#40ffbf" d="M1 20h1v1h-1z"/>
<path fill="#50ffaf" d="M1 0h5v1h-5zM7 0h2v1h-2zM10 0h8v1h-8zM19 0h2v1h-2zM23 0h2v1h-2zM28 0h1v1h-1zM32 0h3v1h-3zM37 0h2v1h-2zM30 18h1v1h-1zM1 19h8v1h-8zM21 19h1v1h-1zM24 19h1v1h-1zM27 19h1v1h-1zM29 19h1v1h-1zM31 19h3v1h-3zM37 19h2v1h-2zM3 20h3v1h-3zM7 20h2v1h-2zM21 20h1v1h-1zM23 20h1v1h-1zM26 20h4v1h-4zM31 20h3v1h-3zM37 20h2v1h-2zM0 24h1v1h-1zM0 36h1v1h-1z"/>
<path fill="#60ff9f" d="M28 19h1v1h-1z"/>
<path fill="#70ff8f" d="M6 0h1v1h-1zM9 0h1v1h-1zM23 19h1v1h-1zM25 19h2v1h-2zM34 19h3v1h-3zM18 20h1v1h-1zM24 20h1v1h-1zM34 20h3v1h-3zM2 21h1v1h-1zM6 21h2v1h-2zM30 21h1v1h-1zM38 21h1v1h-1zM0 25h1v1h-1zM0 37h1v1h-1z"/>
<path fill="#80ff80" d="M22 0h1v1h-1zM9 20h1v1h-1zM25 20h1v1h-1zM1 21h1v1h-1zM3 21h1v1h-1z"/>
<path fill="#8fff70" d="M7 7h1v1h-1zM30 7h2v1h-2zM30 9h1v1h-1zM30 10h1v1h-1zM0 13h1v1h-1zM2 18h1v1h-1zM6 18h1v1h-1zM29 18h1v1h-1zM38 18h1v1h-1zM9 19h3v1h-3zM13 19h8v1h-8zM10 20h2v1h-2zM13 20h5v1h-5zM19 20h2v1h-2zM4 21h2v1h-2zM8 21h1v1h-1zM21 21h1v1h-1zM26 21h4v1h-4zM31 21h3v1h-3zM37 21h1v1h-1zM0 38h1v1h-1z"/>
<path fill="#9fff60" d="M7 6h1v1h-1zM30 6h1v1h-1zM1 18h1v1h-1zM3 18h3v1h-3zM7 18h1v1h-1zM28 18h1v1h-1zM31 18h2v1h-2zM12 19h1v1h-1zM12 20h1v1h-1zM22 20h1v1h-1z"/>
<path fill="#afff50" d="M6 4h2v1h-2zM30 4h2v1h-2zM38 4h1v1h-1zM7 5h1v1h-1zM30 5h1v1h-1zM6 6h1v1h-1zM31 6h1v1h-1zM2 7h1v1h-1zM5 7h2v1h-2zM8 7h1v1h-1zM18 7h1v1h-1zM21 7h1v1h-1zM23 7h2v1h-2zM27 7h1v1h-1zM5 9h1v1h-1zM7 9h1v1h-1zM18 9h1v1h-1zM31 9h1v1h-1zM35 9h1v1h-1zM35 10h1v1h-1zM30 11h1v1h-1zM8 18h1v1h-1zM21 18h1v1h-1zM23 18h2v1h-2zM26 18h2v1h-2zM33 18h1v1h-1zM37 18h1v1h-1zM9 21h1v1h-1zM23 21h2v1h-2zM34 21h1v1h-1zM36 21h1v1h-1zM0 35h1v1h-1z"/>
<path fill="#bfff40" d="M18 1h1v1h-1zM21 1h1v1h-1zM25 1h1v1h-1zM30 1h2v1h-2zM35 1h1v1h-1zM30 3h1v1h-1zM5 4h1v1h-1zM8 4h1v1h-1zM27 4h3v1h-3zM32 4h1v1h-1zM2 5h5v1h-5zM8 5h4v1h-4zM13 5h2v1h-2zM27 5h3v1h-3zM31 5h3v1h-3zM35 5h4v1h-4zM2 6h4v1h-4zM8 6h1v1h-1zM10 6h6v1h-6zM24 6h1v1h-1zM26 6h4v1h-4zM32 6h2v1h-2zM35 6h4v1h-4zM3 7h2v1h-2zM11 7h1v1h-1zM13 7h2v1h-2zM26 7h1v1h-1zM28 7h2v1h-2zM32 7h2v1h-2zM38 7h1v1h-1zM7 8h1v1h-1zM27 8h1v1h-1zM30 8h2v1h-2zM4 9h1v1h-1zM6 9h1v1h-1zM26 9h1v1h-1zM29 9h1v1h-1zM31 10h1v1h-1zM25 18h1v1h-1zM34 18h3v1h-3zM22 19h1v1h-1zM10 21h1v1h-1zM15 21h2v1h-2zM18 21h1v1h-1zM20 21h1v1h-1zM25 21h1v1h-1zM35 21h1v1h-1z"/>
<path fill="#cfff30" d="M31 3h1v1h-1zM1 4h4v1h-4zM9 4h7v1h-7zM18 4h1v1h-1zM21 4h1v1h-1zM23 4h2v1h-2zM26 4h1v1h-1zM33 4h1v1h-1zM35 4h3v1h-3zM1 5h1v1h-1zM16 5h1v1h-1zM18 5h1v1h-1zM21 5h1v1h-1zM23 5h2v1h-2zM26 5h1v1h-1zM1 6h1v1h-1zM16 6h1v1h-1zM18 6h1v1h-1zM21 6h1v1h-1zM23 6h1v1h-1zM1 7h1v1h-1zM9 7h2v1h-2zM12 7h1v1h-1zM15 7h2v1h-2zM19 7h2v1h-2zM25 7h1v1h-1zM34 7h4v1h-4zM18 8h1v1h-1zM21 8h1v1h-1zM28 8h1v1h-1zM33 8h1v1h-1zM38 8h1v1h-1zM2 9h2v1h-2zM8 9h1v1h-1zM10 9h6v1h-6zM21 9h1v1h-1zM23 9h3v1h-3zM27 9h1v1h-1zM32 9h2v1h-2zM36 9h3v1h-3zM2 10h1v1h-1zM5 10h4v1h-4zM18 10h1v1h-1zM25 10h2v1h-2zM36 10h1v1h-1zM35 11h1v1h-1zM30 12h1v1h-1zM20 18h1v1h-1zM11 21h1v1h-1zM13 21h2v1h-2zM17 21h1v1h-1zM2 22h1v1h-1zM6 22h1v1h-1zM28 22h1v1h-1zM38 22h1v1h-1zM0 26h1v1h-1z"/>
<path fill="#dfff20" d="M2 1h1v1h-1zM5 1h1v1h-1zM7 1h2v1h-2zM13 1h2v1h-2zM20 1h1v1h-1zM24 1h1v1h-1zM26 1h4v1h-4zM32 1h2v1h-2zM36 1h1v1h-1zM38 1h1v1h-1zM30 2h1v1h-1zM5 3h3v1h-3zM27 3h3v1h-3zM38 3h1v1h-1zM16 4h1v1h-1zM25 4h1v1h-1zM34 4h1v1h-1zM12 5h1v1h-1zM15 5h1v1h-1zM34 5h1v1h-1zM9 6h1v1h-1zM19 6h2v1h-2zM25 6h1v1h-1zM34 6h1v1h-1zM17 7h1v1h-1zM2 8h5v1h-5zM8 8h1v1h-1zM10 8h2v1h-2zM13 8h2v1h-2zM23 8h2v1h-2zM26 8h1v1h-1zM29 8h1v1h-1zM32 8h1v1h-1zM35 8h1v1h-1zM9 9h1v1h-1zM19 9h2v1h-2zM28 9h1v1h-1zM34 9h1v1h-1zM3 10h2v1h-2zM14 10h1v1h-1zM24 10h1v1h-1zM27 10h1v1h-1zM29 10h1v1h-1zM38 10h1v1h-1zM31 11h1v1h-1zM0 12h1v1h-1zM1 17h2v1h-2zM29 17h2v1h-2zM38 17h1v1h-1zM9 18h3v1h-3zM13 18h7v1h-7zM12 21h1v1h-1zM19 21h1v1h-1zM22 21h1v1h-1zM1 22h1v1h-1zM3 22h2v1h-2zM7 22h1v1h-1zM27 22h1v1h-1zM29 22h1v1h-1zM37 22h1v1h-1z"/>
<path fill="#efff10" d="M2 3h1v1h-1zM18 3h1v1h-1zM21 3h1v1h-1zM33 3h1v1h-1zM19 4h2v1h-2zM1 8h1v1h-1zM1 9h1v1h-1zM16 9h1v1h-1zM1 10h1v1h-1zM10 10h1v1h-1zM13 10h1v1h-1zM15 10h1v1h-1zM21 10h1v1h-1zM23 10h1v1h-1zM25 11h1v1h-1zM25 12h1v1h-1zM35 12h1v1h-1zM30 13h1v1h-1zM6 17h1v1h-1zM12 18h1v1h-1zM21 22h1v1h-1zM0 33h1v1h-1z"/>
<path fill="#ffff00" d="M1 1h1v1h-1zM3 1h2v1h-2zM6 1h1v1h-1zM9 1h4v1h-4zM15 1h2v1h-2zM19 1h1v1h-1zM23 1h1v1h-1zM34 1h1v1h-1zM37 1h1v1h-1zM2 2h1v1h-1zM5 2h1v1h-1zM7 2h1v1h-1zM18 2h1v1h-1zM21 2h1v1h-1zM25 2h1v1h-1zM27 2h3v1h-3zM31 2h1v1h-1zM33 2h1v1h-1zM35 2h1v1h-1zM38 2h1v1h-1zM1 3h1v1h-1zM3 3h2v1h-2zM8 3h1v1h-1zM11 3h1v1h-1zM13 3h2v1h-2zM23 3h2v1h-2zM26 3h1v1h-1zM32 3h1v1h-1zM35 3h2v1h-2zM17 4h1v1h-1zM19 5h2v1h-2zM25 5h1v1h-1zM17 6h1v1h-1zM22 7h1v1h-1zM9 8h1v1h-1zM12 8h1v1h-1zM15 8h2v1h-2zM20 8h1v1h-1zM25 8h1v1h-1zM34 8h1v1h-1zM36 8h2v1h-2zM17 9h1v1h-1zM9 10h1v1h-1zM11 10h2v1h-2zM16 10h1v1h-1zM19 10h2v1h-2zM28 10h1v1h-1zM32 10h2v1h-2zM37 10h1v1h-1zM2 11h1v1h-1zM7 11h1v1h-1zM26 11h1v1h-1zM36 11h1v1h-1zM38 11h1v1h-1zM26 12h1v1h-1zM31 12h1v1h-1zM36 12h1v1h-1zM3 17h2v1h-2zM7 17h1v1h-1zM28 17h1v1h-1zM22 18h1v1h-1zM5 22h1v1h-1zM8 22h1v1h-1zM23 22h2v1h-2zM26 22h1v1h-1zM30 22h5v1h-5zM7 29h1v1h-1z"/>
<path fill="#ffef00" d="M17 1h1v1h-1zM23 2h1v1h-1zM37 3h1v1h-1zM17 5h1v1h-1zM22 6h1v1h-1zM17 8h1v1h-1zM19 8h1v1h-1zM34 10h1v1h-1zM18 11h1v1h-1zM35 13h1v1h-1zM32 17h1v1h-1zM7 28h1v1h-1zM27 28h2v1h-2zM33 28h1v1h-1zM0 34h1v1h-1z"/>
<path fill="#ffdf00" d="M3 2h2v1h-2zM6 2h1v1h-1zM8 2h1v1h-1zM13 2h2v1h-2zM24 2h1v1h-1zM26 2h1v1h-1zM32 2h1v1h-1zM36 2h1v1h-1zM9 3h2v1h-2zM12 3h1v1h-1zM15 3h1v1h-1zM20 3h1v1h-1zM25 3h1v1h-1zM34 3h1v1h-1zM0 4h1v1h-1zM0 5h1v1h-1zM0 6h1v1h-1zM17 10h1v1h-1zM1 11h1v1h-1zM4 11h3v1h-3zM8 11h1v1h-1zM10 11h1v1h-1zM13 11h4v1h-4zM21 11h1v1h-1zM24 11h1v1h-1zM1 12h2v1h-2zM4 12h5v1h-5zM15 12h1v1h-1zM18 12h1v1h-1zM21 12h1v1h-1zM38 12h1v1h-1zM1 13h2v1h-2zM25 13h2v1h-2zM30 14h1v1h-1zM1 16h2v1h-2zM5 17h1v1h-1zM8 17h1v1h-1zM21 17h1v1h-1zM26 17h2v1h-2zM37 17h1v1h-1zM9 22h3v1h-3zM13 22h1v1h-1zM15 22h2v1h-2zM18 22h1v1h-1zM22 22h1v1h-1zM36 22h1v1h-1zM2 23h1v1h-1zM6 23h1v1h-1zM28 23h1v1h-1zM0 27h1v1h-1zM2 28h1v1h-1zM5 28h2v1h-2zM8 28h1v1h-1zM11 28h1v1h-1zM13 28h1v1h-1zM18 28h1v1h-1zM21 28h1v1h-1zM23 28h2v1h-2zM29 28h4v1h-4zM34 28h1v1h-1zM38 28h1v1h-1zM5 29h2v1h-2zM8 29h1v1h-1zM11 29h1v1h-1zM14 29h1v1h-1zM18 29h1v1h-1zM21 29h1v1h-1zM23 29h2v1h-2zM27 29h7v1h-7zM38 29h1v1h-1zM5 30h3v1h-3zM28 30h1v1h-1zM31 30h1v1h-1zM33 30h1v1h-1zM0 32h1v1h-1z"/>
<path fill="#ffcf00" d="M0 0h1v1h-1zM0 1h1v1h-1zM22 1h1v1h-1zM1 2h1v1h-1zM9 2h4v1h-4zM15 2h2v1h-2zM19 2h2v1h-2zM34 2h1v1h-1zM37 2h1v1h-1zM0 3h1v1h-1zM16 3h2v1h-2zM19 3h1v1h-1zM22 4h1v1h-1zM22 5h1v1h-1zM0 7h1v1h-1zM22 8h1v1h-1zM22 9h1v1h-1zM0 11h1v1h-1zM3 11h1v1h-1zM9 11h1v1h-1zM11 11h2v1h-2zM19 11h2v1h-2zM23 11h1v1h-1zM27 11h1v1h-1zM29 11h1v1h-1zM32 11h1v1h-1zM37 11h1v1h-1zM3 12h1v1h-1zM10 12h1v1h-1zM13 12h2v1h-2zM16 12h1v1h-1zM20 12h1v1h-1zM23 12h2v1h-2zM27 12h1v1h-1zM29 12h1v1h-1zM32 12h1v1h-1zM37 12h1v1h-1zM6 13h1v1h-1zM31 13h1v1h-1zM36 13h1v1h-1zM38 13h1v1h-1zM2 14h1v1h-1zM6 14h1v1h-1zM2 15h1v1h-1zM6 16h1v1h-1zM30 16h1v1h-1zM38 16h1v1h-1zM23 17h3v1h-3zM31 17h1v1h-1zM33 17h3v1h-3zM12 22h1v1h-1zM14 22h1v1h-1zM17 22h1v1h-1zM19 22h2v1h-2zM35 22h1v1h-1zM1 23h1v1h-1zM3 23h1v1h-1zM7 23h1v1h-1zM21 23h1v1h-1zM27 23h1v1h-1zM29 23h1v1h-1zM33 23h1v1h-1zM37 23h2v1h-2zM2 27h1v1h-1zM5 27h3v1h-3zM27 27h3v1h-3zM33 27h1v1h-1zM38 27h1v1h-1zM1 28h1v1h-1zM3 28h2v1h-2zM9 28h2v1h-2zM12 28h1v1h-1zM14 28h3v1h-3zM19 28h2v1h-2zM26 28h1v1h-1zM37 28h1v1h-1zM1 29h4v1h-4zM9 29h2v1h-2zM12 29h2v1h-2zM15 29h1v1h-1zM19 29h2v1h-2zM26 29h1v1h-1zM34 29h1v1h-1zM36 29h2v1h-2zM2 30h3v1h-3zM8 30h1v1h-1zM11 30h1v1h-1zM13 30h1v1h-1zM18 30h1v1h-1zM23 30h2v1h-2zM27 30h1v1h-1zM29 30h2v1h-2z"/>
<path fill="#ffbf00" d="M1 14h1v1h-1zM1 15h1v1h-1z"/>
<path fill="#ffaf00" d="M0 2h1v1h-1zM17 2h1v1h-1zM22 3h1v1h-1zM0 8h1v1h-1zM22 10h1v1h-1zM17 11h1v1h-1zM28 11h1v1h-1zM33 11h2v1h-2zM9 12h1v1h-1zM11 12h2v1h-2zM19 12h1v1h-1zM28 12h1v1h-1zM3 13h3v1h-3zM7 13h2v1h-2zM15 13h2v1h-2zM18 13h1v1h-1zM21 13h1v1h-1zM24 13h1v1h-1zM27 13h1v1h-1zM29 13h1v1h-1zM32 13h1v1h-1zM37 13h1v1h-1zM3 14h1v1h-1zM25 14h2v1h-2zM35 14h1v1h-1zM38 14h1v1h-1zM6 15h1v1h-1zM26 15h1v1h-1zM30 15h1v1h-1zM38 15h1v1h-1zM3 16h2v1h-2zM7 16h1v1h-1zM26 16h1v1h-1zM28 16h2v1h-2zM37 16h1v1h-1zM9 17h3v1h-3zM15 17h2v1h-2zM18 17h3v1h-3zM22 17h1v1h-1zM36 17h1v1h-1zM25 22h1v1h-1zM4 23h2v1h-2zM8 23h1v1h-1zM23 23h2v1h-2zM26 23h1v1h-1zM30 23h1v1h-1zM32 23h1v1h-1zM34 23h1v1h-1zM1 27h1v1h-1zM3 27h2v1h-2zM8 27h2v1h-2zM11 27h1v1h-1zM21 27h1v1h-1zM23 27h2v1h-2zM26 27h1v1h-1zM30 27h3v1h-3zM34 27h1v1h-1zM37 27h1v1h-1zM17 28h1v1h-1zM35 28h2v1h-2zM16 29h2v1h-2zM35 29h1v1h-1zM1 30h1v1h-1zM9 30h2v1h-2zM12 30h1v1h-1zM14 30h1v1h-1zM19 30h1v1h-1zM21 30h1v1h-1zM26 30h1v1h-1zM32 30h1v1h-1zM34 30h5v1h-5zM0 31h1v1h-1zM7 31h1v1h-1zM30 31h1v1h-1z"/>
<path fill="#ff9f00" d="M22 2h1v1h-1z"/>
<path fill="#ff8f00" d="M0 9h1v1h-1zM0 10h1v1h-1zM22 11h1v1h-1zM17 12h1v1h-1zM33 12h2v1h-2zM9 13h3v1h-3zM13 13h2v1h-2zM17 13h1v1h-1zM19 13h2v1h-2zM23 13h1v1h-1zM28 13h1v1h-1zM33 13h2v1h-2zM4 14h2v1h-2zM7 14h2v1h-2zM21 14h1v1h-1zM24 14h1v1h-1zM29 14h1v1h-1zM31 14h2v1h-2zM36 14h2v1h-2zM3 15h2v1h-2zM7 15h2v1h-2zM21 15h1v1h-1zM25 15h1v1h-1zM28 15h2v1h-2zM32 15h1v1h-1zM35 15h1v1h-1zM37 15h1v1h-1zM5 16h1v1h-1zM8 16h1v1h-1zM21 16h1v1h-1zM23 16h3v1h-3zM27 16h1v1h-1zM32 16h2v1h-2zM12 17h3v1h-3zM17 17h1v1h-1zM9 23h1v1h-1zM11 23h1v1h-1zM18 23h1v1h-1zM22 23h1v1h-1zM31 23h1v1h-1zM2 24h2v1h-2zM6 24h1v1h-1zM28 24h2v1h-2zM33 24h1v1h-1zM38 24h1v1h-1zM6 25h1v1h-1zM28 25h1v1h-1zM2 26h1v1h-1zM6 26h2v1h-2zM21 26h1v1h-1zM27 26h3v1h-3zM33 26h1v1h-1zM38 26h1v1h-1zM10 27h1v1h-1zM12 27h9v1h-9zM22 27h1v1h-1zM36 27h1v1h-1zM0 28h1v1h-1zM22 28h1v1h-1zM25 28h1v1h-1zM0 29h1v1h-1zM22 29h1v1h-1zM25 29h1v1h-1zM0 30h1v1h-1zM15 30h3v1h-3zM20 30h1v1h-1zM2 31h1v1h-1zM5 31h2v1h-2zM11 31h1v1h-1zM18 31h1v1h-1zM21 31h1v1h-1zM23 31h2v1h-2zM27 31h3v1h-3zM31 31h1v1h-1zM33 31h1v1h-1zM38 31h1v1h-1z"/>
<path fill="#ff8000" d="M1 24h1v1h-1z"/>
<path fill="#ff7000" d="M22 12h1v1h-1zM12 13h1v1h-1zM10 14h1v1h-1zM15 14h2v1h-2zM23 14h1v1h-1zM27 14h2v1h-2zM33 14h2v1h-2zM5 15h1v1h-1zM24 15h1v1h-1zM27 15h1v1h-1zM31 15h1v1h-1zM33 15h2v1h-2zM36 15h1v1h-1zM9 16h1v1h-1zM11 16h1v1h-1zM16 16h1v1h-1zM22 16h1v1h-1zM31 16h1v1h-1zM34 16h3v1h-3zM10 23h1v1h-1zM12 23h6v1h-6zM19 23h2v1h-2zM36 23h1v1h-1zM4 24h2v1h-2zM7 24h2v1h-2zM21 24h1v1h-1zM27 24h1v1h-1zM32 24h1v1h-1zM34 24h1v1h-1zM37 24h1v1h-1zM2 25h2v1h-2zM7 25h1v1h-1zM21 25h1v1h-1zM27 25h1v1h-1zM29 25h1v1h-1zM32 25h3v1h-3zM38 25h1v1h-1zM1 26h1v1h-1zM3 26h3v1h-3zM8 26h2v1h-2zM11 26h1v1h-1zM23 26h2v1h-2zM26 26h1v1h-1zM30 26h3v1h-3zM34 26h1v1h-1zM37 26h1v1h-1zM35 27h1v1h-1zM22 30h1v1h-1zM25 30h1v1h-1zM1 31h1v1h-1zM3 31h2v1h-2zM8 31h3v1h-3zM13 31h2v1h-2zM20 31h1v1h-1zM25 31h2v1h-2zM32 31h1v1h-1zM34 31h4v1h-4zM2 36h1v1h-1zM6 36h1v1h-1zM28 36h1v1h-1zM38 36h1v1h-1z"/>
<path fill="#ff6000" d="M1 25h1v1h-1zM1 36h1v1h-1z"/>
<path fill="#ff5000" d="M22 13h1v1h-1zM9 14h1v1h-1zM11 14h4v1h-4zM17 14h4v1h-4zM22 14h1v1h-1zM9 15h3v1h-3zM13 15h8v1h-8zM22 15h2v1h-2zM10 16h1v1h-1zM12 16h4v1h-4zM17 16h4v1h-4zM25 23h1v1h-1zM35 23h1v1h-1zM9 24h1v1h-1zM11 24h1v1h-1zM22 24h3v1h-3zM26 24h1v1h-1zM30 24h2v1h-2zM4 25h2v1h-2zM8 25h2v1h-2zM22 25h3v1h-3zM26 25h1v1h-1zM30 25h2v1h-2zM37 25h1v1h-1zM10 26h1v1h-1zM12 26h9v1h-9zM22 26h1v1h-1zM36 26h1v1h-1zM25 27h1v1h-1zM12 31h1v1h-1zM15 31h2v1h-2zM19 31h1v1h-1zM33 35h1v1h-1zM3 36h3v1h-3zM7 36h1v1h-1zM21 36h2v1h-2zM26 36h2v1h-2zM29 36h1v1h-1zM32 36h3v1h-3zM37 36h1v1h-1zM2 37h2v1h-2zM6 37h1v1h-1zM28 37h1v1h-1zM33 37h1v1h-1zM38 37h1v1h-1zM2 38h1v1h-1zM6 38h1v1h-1zM28 38h1v1h-1zM33 38h1v1h-1z"/>
<path fill="#ff4000" d="M1 37h1v1h-1zM1 38h1v1h-1z"/>
<path fill="#ff3000" d="M12 15h1v1h-1zM10 24h1v1h-1zM12 24h9v1h-9zM36 24h1v1h-1zM10 25h10v1h-10zM25 26h1v1h-1zM35 26h1v1h-1zM17 31h1v1h-1zM22 31h1v1h-1zM2 32h1v1h-1zM6 32h1v1h-1zM21 32h1v1h-1zM28 32h3v1h-3zM38 32h1v1h-1zM2 35h1v1h-1zM6 35h1v1h-1zM28 35h2v1h-2zM8 36h2v1h-2zM11 36h1v1h-1zM17 36h1v1h-1zM23 36h2v1h-2zM30 36h2v1h-2zM4 37h1v1h-1zM7 37h1v1h-1zM21 37h2v1h-2zM27 37h1v1h-1zM29 37h1v1h-1zM32 37h1v1h-1zM34 37h1v1h-1zM37 37h1v1h-1zM3 38h2v1h-2zM21 38h2v1h-2zM27 38h1v1h-1zM29 38h1v1h-1zM32 38h1v1h-1zM37 38h2v1h-2z"/>
<path fill="#ff2000" d="M1 32h1v1h-1zM1 35h1v1h-1z"/>
<path fill="#ff1000" d="M25 24h1v1h-1zM35 24h1v1h-1zM20 25h1v1h-1zM25 25h1v1h-1zM35 25h2v1h-2zM3 32h3v1h-3zM7 32h2v1h-2zM18 32h1v1h-1zM23 32h5v1h-5zM31 32h5v1h-5zM37 32h1v1h-1zM3 35h3v1h-3zM7 35h3v1h-3zM11 35h1v1h-1zM21 35h2v1h-2zM27 35h1v1h-1zM32 35h1v1h-1zM34 35h1v1h-1zM37 35h2v1h-2zM10 36h1v1h-1zM12 36h5v1h-5zM18 36h3v1h-3zM5 37h1v1h-1zM8 37h2v1h-2zM11 37h1v1h-1zM19 37h1v1h-1zM23 37h2v1h-2zM26 37h1v1h-1zM30 37h2v1h-2zM5 38h1v1h-1zM7 38h3v1h-3zM11 38h1v1h-1zM23 38h2v1h-2zM26 38h1v1h-1zM30 38h1v1h-1zM34 38h1v1h-1z"/>
<path fill="#ef0000" d="M9 32h8v1h-8zM19 32h2v1h-2zM36 32h1v1h-1zM2 33h1v1h-1zM6 33h1v1h-1zM21 33h1v1h-1zM27 33h2v1h-2zM33 33h1v1h-1zM6 34h1v1h-1zM28 34h1v1h-1zM12 35h2v1h-2zM17 35h2v1h-2zM23 35h2v1h-2zM26 35h1v1h-1zM31 35h1v1h-1zM25 36h1v1h-1zM35 36h2v1h-2zM10 37h1v1h-1zM12 37h7v1h-7zM20 37h1v1h-1zM36 37h1v1h-1zM10 38h1v1h-1zM12 38h9v1h-9zM31 38h1v1h-1zM36 38h1v1h-1z"/>
<path fill="#df0000" d="M22 32h1v1h-1zM1 33h1v1h-1zM1 34h1v1h-1z"/>
<path fill="#cf0000" d="M17 32h1v1h-1zM3 33h3v1h-3zM7 33h3v1h-3zM11 33h1v1h-1zM18 33h1v1h-1zM22 33h3v1h-3zM26 33h1v1h-1zM29 33h4v1h-4zM34 33h1v1h-1zM37 33h2v1h-2zM2 34h4v1h-4zM7 34h3v1h-3zM11 34h1v1h-1zM21 34h4v1h-4zM27 34h1v1h-1zM29 34h1v1h-1zM32 34h3v1h-3zM37 34h2v1h-2zM10 35h1v1h-1zM14 35h3v1h-3zM19 35h2v1h-2zM30 35h1v1h-1zM36 35h1v1h-1zM25 37h1v1h-1zM35 37h1v1h-1zM25 38h1v1h-1zM35 38h1v1h-1z"/>
<path fill="#af0000" d="M10 33h1v1h-1zM12 33h6v1h-6zM19 33h2v1h-2zM25 33h1v1h-1zM36 33h1v1h-1zM10 34h1v1h-1zM12 34h9v1h-9zM26 34h1v1h-1zM30 34h2v1h-2zM36 34h1v1h-1zM25 35h1v1h-1zM35 35h1v1h-1z"/>
<path fill="#9f0000" d="M35 33h1v1h-1z"/>
<path fill="#8f0000" d="M25 34h1v1h-1zM35 34h1v1h-1z"/>
</g>
<path d="M1177.1 167.35V475.4H1488.2" fill="none" stroke="#8a8a8a" stroke-width="1"/>
<path d="M1177.1 475.4v-2.6M1177.1 475.4h2.6M1254.62 475.4v-2.6M1177.1 398.46h2.6M1332.15 475.4v-2.6M1177.1 321.52h2.6M1409.67 475.4v-2.6M1177.1 244.59h2.6M1487.2 475.4v-2.6M1177.1 167.65h2.6" stroke="#333" stroke-width="0.9" fill="none"/>
<text x="1177.1" y="494.9" font-size="16" text-anchor="middle" textLength="9.83" lengthAdjust="spacingAndGlyphs" stroke="#000" stroke-width="0.3">0</text>
<text x="1174.53" y="481.9" font-size="16" text-anchor="end" textLength="9.83" lengthAdjust="spacingAndGlyphs" stroke="#000" stroke-width="0.3">0</text>
<text x="1254.62" y="494.9" font-size="16" text-anchor="middle" textLength="19.65" lengthAdjust="spacingAndGlyphs" stroke="#000" stroke-width="0.3">10</text>
<text x="1174.53" y="404.96" font-size="16" text-anchor="end" textLength="19.65" lengthAdjust="spacingAndGlyphs" stroke="#000" stroke-width="0.3">10</text>
<text x="1332.15" y="494.9" font-size="16" text-anchor="middle" textLength="19.65" lengthAdjust="spacingAndGlyphs" stroke="#000" stroke-width="0.3">20</text>
<text x="1174.53" y="328.02" font-size="16" text-anchor="end" textLength="19.65" lengthAdjust="spacingAndGlyphs" stroke="#000" stroke-width="0.3">20</text>
<text x="1409.67" y="494.9" font-size="16" text-anchor="middle" textLength="19.65" lengthAdjust="spacingAndGlyphs" stroke="#000" stroke-width="0.3">30</text>
<text x="1174.53" y="251.09" font-size="16" text-anchor="end" textLength="19.65" lengthAdjust="spacingAndGlyphs" stroke="#000" stroke-width="0.3">30</text>
<text x="1487.2" y="494.9" font-size="16" text-anchor="middle" textLength="19.65" lengthAdjust="spacingAndGlyphs" stroke="#000" stroke-width="0.3">40</text>
<text x="1174.53" y="174.15" font-size="16" text-anchor="end" textLength="19.65" lengthAdjust="spacingAndGlyphs" stroke="#000" stroke-width="0.3">40</text>
<g shape-rendering="crispEdges">
<rect x="1501.5" y="167.9" width="18.7" height="5.11" fill="#800000"/>
<rect x="1501.5" y="172.71" width="18.7" height="5.11" fill="#8f0000"/>
<rect x="1501.5" y="177.52" width="18.7" height="5.11" fill="#9f0000"/>
<rect x="1501.5" y="182.34" width="18.7" height="5.11" fill="#af0000"/>
<rect x="1501.5" y="187.15" width="18.7" height="5.11" fill="#bf0000"/>
<rect x="1501.5" y="191.96" width="18.7" height="5.11" fill="#cf0000"/>
<rect x="1501.5" y="196.77" width="18.7" height="5.11" fill="#df0000"/>
<rect x="1501.5" y="201.58" width="18.7" height="5.11" fill="#ef0000"/>
<rect x="1501.5" y="206.39" width="18.7" height="5.11" fill="#ff0000"/>
<rect x="1501.5" y="211.21" width="18.7" height="5.11" fill="#ff1000"/>
<rect x="1501.5" y="216.02" width="18.7" height="5.11" fill="#ff2000"/>
<rect x="1501.5" y="220.83" width="18.7" height="5.11" fill="#ff3000"/>
<rect x="1501.5" y="225.64" width="18.7" height="5.11" fill="#ff4000"/>
<rect x="1501.5" y="230.45" width="18.7" height="5.11" fill="#ff5000"/>
<rect x="1501.5" y="235.26" width="18.7" height="5.11" fill="#ff6000"/>
<rect x="1501.5" y="240.08" width="18.7" height="5.11" fill="#ff7000"/>
<rect x="1501.5" y="244.89" width="18.7" height="5.11" fill="#ff8000"/>
<rect x="1501.5" y="249.7" width="18.7" height="5.11" fill="#ff8f00"/>
<rect x="1501.5" y="254.51" width="18.7" height="5.11" fill="#ff9f00"/>
<rect x="1501.5" y="259.32" width="18.7" height="5.11" fill="#ffaf00"/>
<rect x="1501.5" y="264.13" width="18.7" height="5.11" fill="#ffbf00"/>
<rect x="1501.5" y="268.95" width="18.7" height="5.11" fill="#ffcf00"/>
<rect x="1501.5" y="273.76" width="18.7" height="5.11" fill="#ffdf00"/>
<rect x="1501.5" y="278.57" width="18.7" height="5.11" fill="#ffef00"/>
<rect x="1501.5" y="283.38" width="18.7" height="5.11" fill="#ffff00"/>
<rect x="1501.5" y="288.19" width="18.7" height="5.11" fill="#efff10"/>
<rect x="1501.5" y="293" width="18.7" height="5.11" fill="#dfff20"/>
<rect x="1501.5" y="297.82" width="18.7" height="5.11" fill="#cfff30"/>
<rect x="1501.5" y="302.63" width="18.7" height="5.11" fill="#bfff40"/>
<rect x="1501.5" y="307.44" width="18.7" height="5.11" fill="#afff50"/>
<rect x="1501.5" y="312.25" width="18.7" height="5.11" fill="#9fff60"/>
<rect x="1501.5" y="317.06" width="18.7" height="5.11" fill="#8fff70"/>
<rect x="1501.5" y="321.88" width="18.7" height="5.11" fill="#80ff80"/>
<rect x="1501.5" y="326.69" width="18.7" height="5.11" fill="#70ff8f"/>
<rect x="1501.5" y="331.5" width="18.7" height="5.11" fill="#60ff9f"/>
<rect x="1501.5" y="336.31" width="18.7" height="5.11" fill="#50ffaf"/>
<rect x="1501.5" y="341.12" width="18.7" height="5.11" fill="#40ffbf"/>
<rect x="1501.5" y="345.93" width="18.7" height="5.11" fill="#30ffcf"/>
<rect x="1501.5" y="350.75" width="18.7" height="5.11" fill="#20ffdf"/>
<rect x="1501.5" y="355.56" width="18.7" height="5.11" fill="#10ffef"/>
<rect x="1501.5" y="360.37" width="18.7" height="5.11" fill="#00ffff"/>
<rect x="1501.5" y="365.18" width="18.7" height="5.11" fill="#00efff"/>
<rect x="1501.5" y="369.99" width="18.7" height="5.11" fill="#00dfff"/>
<rect x="1501.5" y="374.8" width="18.7" height="5.11" fill="#00cfff"/>
<rect x="1501.5" y="379.62" width="18.7" height="5.11" fill="#00bfff"/>
<rect x="1501.5" y="384.43" width="18.7" height="5.11" fill="#00afff"/>
<rect x="1501.5" y="389.24" width="18.7" height="5.11" fill="#009fff"/>
<rect x="1501.5" y="394.05" width="18.7" height="5.11" fill="#008fff"/>
<rect x="1501.5" y="398.86" width="18.7" height="5.11" fill="#0080ff"/>
<rect x="1501.5" y="403.67" width="18.7" height="5.11" fill="#0070ff"/>
<rect x="1501.5" y="408.49" width="18.7" height="5.11" fill="#0060ff"/>
<rect x="1501.5" y="413.3" width="18.7" height="5.11" fill="#0050ff"/>
<rect x="1501.5" y="418.11" width="18.7" height="5.11" fill="#0040ff"/>
<rect x="1501.5" y="422.92" width="18.7" height="5.11" fill="#0030ff"/>
<rect x="1501.5" y="427.73" width="18.7" height="5.11" fill="#0020ff"/>
<rect x="1501.5" y="432.54" width="18.7" height="5.11" fill="#0010ff"/>
<rect x="1501.5" y="437.36" width="18.7" height="5.11" fill="#0000ff"/>
<rect x="1501.5" y="442.17" width="18.7" height="5.11" fill="#0000ef"/>
<rect x="1501.5" y="446.98" width="18.7" height="5.11" fill="#0000df"/>
<rect x="1501.5" y="451.79" width="18.7" height="5.11" fill="#0000cf"/>
<rect x="1501.5" y="456.6" width="18.7" height="5.11" fill="#0000bf"/>
<rect x="1501.5" y="461.41" width="18.7" height="5.11" fill="#0000af"/>
<rect x="1501.5" y="466.23" width="18.7" height="5.11" fill="#00009f"/>
<rect x="1501.5" y="471.04" width="18.7" height="5.11" fill="#00008f"/>
</g>
<rect x="1501.5" y="167.9" width="18.7" height="307.95" fill="none" stroke="#777" stroke-width="0.7"/>
<text x="1521.57" y="173.3" font-size="15.9" textLength="8.8" lengthAdjust="spacingAndGlyphs" stroke="#000" stroke-width="0.3">1</text>
<text x="1521.57" y="250.45" font-size="15.9" textLength="21.99" lengthAdjust="spacingAndGlyphs" stroke="#000" stroke-width="0.3">0.5</text>
<text x="1521.57" y="327.6" font-size="15.9" textLength="8.8" lengthAdjust="spacingAndGlyphs" stroke="#000" stroke-width="0.3">0</text>
<text x="1521.57" y="404.75" font-size="15.9" textLength="27.26" lengthAdjust="spacingAndGlyphs" stroke="#000" stroke-width="0.3">-0.5</text>
<text x="1521.57" y="481.9" font-size="15.9" textLength="14.07" lengthAdjust="spacingAndGlyphs" stroke="#000" stroke-width="0.3">-1</text>
<path d="M1501.5 168.3h2.6M1520.2 168.3h-2.6M1501.5 244.7h2.6M1520.2 244.7h-2.6M1501.5 321.85h2.6M1520.2 321.85h-2.6M1501.5 399h2.6M1520.2 399h-2.6M1501.5 475.45h2.6M1520.2 475.45h-2.6" stroke="#222" stroke-width="0.8" fill="none"/>
<g font-size="16" stroke="#000" stroke-width="0.3"><text x="1175.95" y="154.8" textLength="83.03" lengthAdjust="spacingAndGlyphs">Correlation</text> <text x="1262.97" y="154.8" textLength="35.55" lengthAdjust="spacingAndGlyphs">(Coh</text> <text x="1302.26" y="154.8" textLength="81.82" lengthAdjust="spacingAndGlyphs">vHIP-mPFC</text> <text x="1388.11" y="154.8" textLength="7.58" lengthAdjust="spacingAndGlyphs">x</text> <text x="1399.8" y="154.8" textLength="29.87" lengthAdjust="spacingAndGlyphs">PSD</text> <text x="1433.47" y="154.8" textLength="48.26" lengthAdjust="spacingAndGlyphs">mPFC)</text></g>
<g font-size="16" stroke="#000" stroke-width="0.3"><text x="1276.46" y="524" textLength="28.38" lengthAdjust="spacingAndGlyphs">PSD</text> <text x="1308.98" y="524" textLength="42.69" lengthAdjust="spacingAndGlyphs">mPFC</text> <text x="1355.62" y="524" textLength="29.74" lengthAdjust="spacingAndGlyphs">(Hz)</text></g>
<g font-size="16" stroke="#000" stroke-width="0.3" transform="rotate(-90 1150.9 417.5)"><text x="1150.1" y="417.5" textLength="78.64" lengthAdjust="spacingAndGlyphs">Coherence</text> <text x="1233.34" y="417.5" textLength="82.11" lengthAdjust="spacingAndGlyphs">vHIP-mPFC</text> <text x="1318.91" y="417.5" textLength="30.58" lengthAdjust="spacingAndGlyphs">(Hz)</text></g>
<!-- C p -->
<g transform="translate(1615.2,172.2) scale(7.7603,7.7103)" shape-rendering="crispEdges">
<rect width="39" height="39" fill="#00008f"/>
<path fill="#0010ff" d="M37 33h1v1h-1zM19 35h1v1h-1zM30 35h1v1h-1z"/>
<path fill="#0030ff" d="M8 33h1v1h-1zM16 35h1v1h-1z"/>
<path fill="#0050ff" d="M30 33h1v1h-1zM2 34h1v1h-1zM14 35h1v1h-1z"/>
<path fill="#0070ff" d="M7 34h1v1h-1zM29 34h1v1h-1zM20 35h1v1h-1z"/>
<path fill="#008fff" d="M23 33h2v1h-2zM3 34h1v1h-1zM34 34h1v1h-1zM10 35h1v1h-1zM15 35h1v1h-1zM25 37h1v1h-1z"/>
<path fill="#00afff" d="M9 33h1v1h-1zM11 33h1v1h-1zM5 34h1v1h-1zM21 34h1v1h-1zM32 34h1v1h-1zM38 34h1v1h-1z"/>
<path fill="#00cfff" d="M26 33h1v1h-1zM31 33h1v1h-1zM1 34h1v1h-1zM4 34h1v1h-1z"/>
<path fill="#00efff" d="M22 33h1v1h-1zM27 34h1v1h-1zM35 37h1v1h-1z"/>
<path fill="#10ffef" d="M9 34h1v1h-1zM11 34h1v1h-1zM22 34h1v1h-1zM37 34h1v1h-1zM36 35h1v1h-1zM25 38h1v1h-1z"/>
<path fill="#30ffcf" d="M8 34h1v1h-1z"/>
<path fill="#50ffaf" d="M23 34h1v1h-1zM35 38h1v1h-1z"/>
<path fill="#70ff8f" d="M13 33h1v1h-1zM18 33h1v1h-1z"/>
<path fill="#8fff70" d="M12 33h1v1h-1zM24 34h1v1h-1z"/>
<path fill="#9fff60" d="M10 33h1v1h-1zM14 33h1v1h-1z"/>
<path fill="#bfff40" d="M15 33h3v1h-3z"/>
<path fill="#dfff20" d="M19 33h2v1h-2zM36 33h1v1h-1zM12 34h2v1h-2zM26 34h1v1h-1zM31 34h1v1h-1zM25 35h1v1h-1z"/>
<path fill="#ffff00" d="M18 34h1v1h-1zM30 34h1v1h-1z"/>
<path fill="#ffdf00" d="M14 34h1v1h-1zM17 34h1v1h-1z"/>
<path fill="#ffbf00" d="M25 33h1v1h-1zM35 33h1v1h-1zM10 34h1v1h-1zM15 34h2v1h-2zM19 34h1v1h-1zM35 35h1v1h-1z"/>
<path fill="#ff9f00" d="M20 34h1v1h-1z"/>
<path fill="#ff6000" d="M36 34h1v1h-1z"/>
<path fill="#ff2000" d="M25 34h1v1h-1zM35 34h1v1h-1z"/>
</g>
<path d="M1608.2 172.1V480.45H1918.85" fill="none" stroke="#8a8a8a" stroke-width="1"/>
<path d="M1608.2 480.45v-2.6M1608.2 480.45h2.6M1685.61 480.45v-2.6M1608.2 403.44h2.6M1763.03 480.45v-2.6M1608.2 326.43h2.6M1840.44 480.45v-2.6M1608.2 249.41h2.6M1917.85 480.45v-2.6M1608.2 172.4h2.6" stroke="#333" stroke-width="0.9" fill="none"/>
<text x="1608.2" y="500.65" font-size="16.4" text-anchor="middle" textLength="9.91" lengthAdjust="spacingAndGlyphs" stroke="#000" stroke-width="0.3">0</text>
<text x="1605.84" y="487.45" font-size="16.4" text-anchor="end" textLength="9.91" lengthAdjust="spacingAndGlyphs" stroke="#000" stroke-width="0.3">0</text>
<text x="1685.61" y="500.65" font-size="16.4" text-anchor="middle" textLength="19.81" lengthAdjust="spacingAndGlyphs" stroke="#000" stroke-width="0.3">10</text>
<text x="1605.84" y="410.44" font-size="16.4" text-anchor="end" textLength="19.81" lengthAdjust="spacingAndGlyphs" stroke="#000" stroke-width="0.3">10</text>
<text x="1763.03" y="500.65" font-size="16.4" text-anchor="middle" textLength="19.81" lengthAdjust="spacingAndGlyphs" stroke="#000" stroke-width="0.3">20</text>
<text x="1605.84" y="333.43" font-size="16.4" text-anchor="end" textLength="19.81" lengthAdjust="spacingAndGlyphs" stroke="#000" stroke-width="0.3">20</text>
<text x="1840.44" y="500.65" font-size="16.4" text-anchor="middle" textLength="19.81" lengthAdjust="spacingAndGlyphs" stroke="#000" stroke-width="0.3">30</text>
<text x="1605.84" y="256.41" font-size="16.4" text-anchor="end" textLength="19.81" lengthAdjust="spacingAndGlyphs" stroke="#000" stroke-width="0.3">30</text>
<text x="1917.85" y="500.65" font-size="16.4" text-anchor="middle" textLength="19.81" lengthAdjust="spacingAndGlyphs" stroke="#000" stroke-width="0.3">40</text>
<text x="1605.84" y="179.4" font-size="16.4" text-anchor="end" textLength="19.81" lengthAdjust="spacingAndGlyphs" stroke="#000" stroke-width="0.3">40</text>
<g shape-rendering="crispEdges">
<rect x="1932.25" y="172.1" width="18.7" height="5.14" fill="#800000"/>
<rect x="1932.25" y="176.94" width="18.7" height="5.14" fill="#ff0500"/>
<rect x="1932.25" y="181.77" width="18.7" height="5.14" fill="#ff0f00"/>
<rect x="1932.25" y="186.61" width="18.7" height="5.14" fill="#ff1800"/>
<rect x="1932.25" y="191.44" width="18.7" height="5.14" fill="#ff2200"/>
<rect x="1932.25" y="196.28" width="18.7" height="5.14" fill="#ff2c00"/>
<rect x="1932.25" y="201.12" width="18.7" height="5.14" fill="#ff3500"/>
<rect x="1932.25" y="205.95" width="18.7" height="5.14" fill="#ff3f00"/>
<rect x="1932.25" y="210.79" width="18.7" height="5.14" fill="#ff4900"/>
<rect x="1932.25" y="215.62" width="18.7" height="5.14" fill="#ff5300"/>
<rect x="1932.25" y="220.46" width="18.7" height="5.14" fill="#ff5c00"/>
<rect x="1932.25" y="225.3" width="18.7" height="5.14" fill="#ff6600"/>
<rect x="1932.25" y="230.13" width="18.7" height="5.14" fill="#ff7000"/>
<rect x="1932.25" y="234.97" width="18.7" height="5.14" fill="#ff7a00"/>
<rect x="1932.25" y="239.8" width="18.7" height="5.14" fill="#ff8500"/>
<rect x="1932.25" y="244.64" width="18.7" height="5.14" fill="#ff9000"/>
<rect x="1932.25" y="249.47" width="18.7" height="5.14" fill="#ff9b00"/>
<rect x="1932.25" y="254.31" width="18.7" height="5.14" fill="#ffa600"/>
<rect x="1932.25" y="259.15" width="18.7" height="5.14" fill="#ffb100"/>
<rect x="1932.25" y="263.98" width="18.7" height="5.14" fill="#ffbc00"/>
<rect x="1932.25" y="268.82" width="18.7" height="5.14" fill="#ffc700"/>
<rect x="1932.25" y="273.65" width="18.7" height="5.14" fill="#ffd200"/>
<rect x="1932.25" y="278.49" width="18.7" height="5.14" fill="#ffdd00"/>
<rect x="1932.25" y="283.33" width="18.7" height="5.14" fill="#ffe800"/>
<rect x="1932.25" y="288.16" width="18.7" height="5.14" fill="#fff300"/>
<rect x="1932.25" y="293" width="18.7" height="5.14" fill="#fffe00"/>
<rect x="1932.25" y="297.83" width="18.7" height="5.14" fill="#edff12"/>
<rect x="1932.25" y="302.67" width="18.7" height="5.14" fill="#d9ff26"/>
<rect x="1932.25" y="307.51" width="18.7" height="5.14" fill="#c5ff3a"/>
<rect x="1932.25" y="312.34" width="18.7" height="5.14" fill="#b1ff4e"/>
<rect x="1932.25" y="317.18" width="18.7" height="5.14" fill="#9dff62"/>
<rect x="1932.25" y="322.01" width="18.7" height="5.14" fill="#89ff76"/>
<rect x="1932.25" y="326.85" width="18.7" height="5.14" fill="#78ff87"/>
<rect x="1932.25" y="331.69" width="18.7" height="5.14" fill="#68ff97"/>
<rect x="1932.25" y="336.52" width="18.7" height="5.14" fill="#58ffa7"/>
<rect x="1932.25" y="341.36" width="18.7" height="5.14" fill="#48ffb7"/>
<rect x="1932.25" y="346.19" width="18.7" height="5.14" fill="#38ffc7"/>
<rect x="1932.25" y="351.03" width="18.7" height="5.14" fill="#28ffd7"/>
<rect x="1932.25" y="355.87" width="18.7" height="5.14" fill="#19ffe6"/>
<rect x="1932.25" y="360.7" width="18.7" height="5.14" fill="#0ffff0"/>
<rect x="1932.25" y="365.54" width="18.7" height="5.14" fill="#05fffa"/>
<rect x="1932.25" y="370.37" width="18.7" height="5.14" fill="#00f8ff"/>
<rect x="1932.25" y="375.21" width="18.7" height="5.14" fill="#00eaff"/>
<rect x="1932.25" y="380.05" width="18.7" height="5.14" fill="#00dcff"/>
<rect x="1932.25" y="384.88" width="18.7" height="5.14" fill="#00cfff"/>
<rect x="1932.25" y="389.72" width="18.7" height="5.14" fill="#00c1ff"/>
<rect x="1932.25" y="394.55" width="18.7" height="5.14" fill="#00b3ff"/>
<rect x="1932.25" y="399.39" width="18.7" height="5.14" fill="#00a5ff"/>
<rect x="1932.25" y="404.23" width="18.7" height="5.14" fill="#0098ff"/>
<rect x="1932.25" y="409.06" width="18.7" height="5.14" fill="#008aff"/>
<rect x="1932.25" y="413.9" width="18.7" height="5.14" fill="#007cff"/>
<rect x="1932.25" y="418.73" width="18.7" height="5.14" fill="#0070ff"/>
<rect x="1932.25" y="423.57" width="18.7" height="5.14" fill="#0067ff"/>
<rect x="1932.25" y="428.4" width="18.7" height="5.14" fill="#005dff"/>
<rect x="1932.25" y="433.24" width="18.7" height="5.14" fill="#0054ff"/>
<rect x="1932.25" y="438.08" width="18.7" height="5.14" fill="#004bff"/>
<rect x="1932.25" y="442.91" width="18.7" height="5.14" fill="#0041ff"/>
<rect x="1932.25" y="447.75" width="18.7" height="5.14" fill="#0038ff"/>
<rect x="1932.25" y="452.58" width="18.7" height="5.14" fill="#002fff"/>
<rect x="1932.25" y="457.42" width="18.7" height="5.14" fill="#0025ff"/>
<rect x="1932.25" y="462.26" width="18.7" height="5.14" fill="#001cff"/>
<rect x="1932.25" y="467.09" width="18.7" height="5.14" fill="#0013ff"/>
<rect x="1932.25" y="471.93" width="18.7" height="5.14" fill="#000aff"/>
<rect x="1932.25" y="476.76" width="18.7" height="5.14" fill="#00008f"/>
</g>
<rect x="1932.25" y="172.1" width="18.7" height="309.5" fill="none" stroke="#777" stroke-width="0.7"/>
<text x="1951.94" y="178.3" font-size="19.8" textLength="10.59" lengthAdjust="spacingAndGlyphs" stroke="#000" stroke-width="0.3">0</text>
<text x="1951.94" y="240.26" font-size="19.8" textLength="37.07" lengthAdjust="spacingAndGlyphs" stroke="#000" stroke-width="0.3">0.01</text>
<text x="1951.94" y="302.22" font-size="19.8" textLength="37.07" lengthAdjust="spacingAndGlyphs" stroke="#000" stroke-width="0.3">0.02</text>
<text x="1951.94" y="364.18" font-size="19.8" textLength="37.07" lengthAdjust="spacingAndGlyphs" stroke="#000" stroke-width="0.3">0.03</text>
<text x="1951.94" y="426.14" font-size="19.8" textLength="37.07" lengthAdjust="spacingAndGlyphs" stroke="#000" stroke-width="0.3">0.04</text>
<text x="1951.94" y="488.1" font-size="19.8" textLength="53.49" lengthAdjust="spacingAndGlyphs" stroke="#000" stroke-width="0.3">&gt; 0.05</text>
<path d="M1932.25 172.5h2.6M1950.95 172.5h-2.6M1932.25 234.06h2.6M1950.95 234.06h-2.6M1932.25 296.02h2.6M1950.95 296.02h-2.6M1932.25 357.98h2.6M1950.95 357.98h-2.6M1932.25 419.94h2.6M1950.95 419.94h-2.6M1932.25 481.2h2.6M1950.95 481.2h-2.6" stroke="#222" stroke-width="0.8" fill="none"/>
<text x="1739.71" y="160.4" font-size="16" textLength="55.25" lengthAdjust="spacingAndGlyphs" stroke="#000" stroke-width="0.3">p-value</text>
<g font-size="16" stroke="#000" stroke-width="0.3"><text x="1708.86" y="527.1" textLength="28.38" lengthAdjust="spacingAndGlyphs">PSD</text> <text x="1741.38" y="527.1" textLength="42.69" lengthAdjust="spacingAndGlyphs">mPFC</text> <text x="1788.02" y="527.1" textLength="29.74" lengthAdjust="spacingAndGlyphs">(Hz)</text></g>
<g font-size="16" stroke="#000" stroke-width="0.3" transform="rotate(-90 1580.8 422.55)"><text x="1580" y="422.55" textLength="78.66" lengthAdjust="spacingAndGlyphs">Coherence</text> <text x="1663.25" y="422.55" textLength="82.13" lengthAdjust="spacingAndGlyphs">vHIP-mPFC</text> <text x="1748.84" y="422.55" textLength="30.59" lengthAdjust="spacingAndGlyphs">(Hz)</text></g>
<!-- D corr -->
<g transform="translate(1185.6,614.3) scale(7.8077,7.6821)" shape-rendering="crispEdges">
<path fill="#0030ff" d="M0 35h1v1h-1zM0 36h1v1h-1zM0 37h1v1h-1zM0 38h1v1h-1z"/>
<path fill="#0050ff" d="M0 27h1v1h-1zM0 28h1v1h-1zM0 29h1v1h-1zM0 30h1v1h-1zM0 32h1v1h-1z"/>
<path fill="#0060ff" d="M0 34h1v1h-1z"/>
<path fill="#0070ff" d="M0 31h1v1h-1zM0 33h1v1h-1z"/>
<path fill="#0080ff" d="M0 0h1v1h-1zM1 36h1v1h-1zM1 37h1v1h-1zM1 38h1v1h-1z"/>
<path fill="#008fff" d="M0 2h1v1h-1zM0 21h1v1h-1zM1 35h1v1h-1z"/>
<path fill="#009fff" d="M0 1h1v1h-1z"/>
<path fill="#00afff" d="M1 0h1v1h-1zM1 2h1v1h-1zM0 20h1v1h-1zM1 30h1v1h-1zM1 32h1v1h-1z"/>
<path fill="#00cfff" d="M1 1h1v1h-1zM0 22h1v1h-1zM0 26h1v1h-1zM1 27h1v1h-1zM1 28h1v1h-1zM1 29h1v1h-1zM1 33h1v1h-1zM1 34h1v1h-1z"/>
<path fill="#00efff" d="M0 3h1v1h-1zM1 21h1v1h-1zM1 31h1v1h-1z"/>
<path fill="#00ffff" d="M2 2h2v1h-2zM0 4h1v1h-1zM0 5h1v1h-1zM0 6h1v1h-1zM0 9h1v1h-1zM0 10h1v1h-1zM0 11h1v1h-1zM0 19h1v1h-1zM1 20h1v1h-1zM0 25h1v1h-1zM2 29h2v1h-2zM2 32h2v1h-2zM2 35h1v1h-1zM3 36h1v1h-1zM3 37h1v1h-1z"/>
<path fill="#20ffdf" d="M1 10h1v1h-1zM1 11h1v1h-1zM7 11h2v1h-2zM0 12h1v1h-1zM0 13h1v1h-1zM0 18h1v1h-1zM2 21h2v1h-2zM0 23h1v1h-1zM0 24h1v1h-1zM32 27h1v1h-1zM32 28h1v1h-1zM3 35h1v1h-1zM2 36h1v1h-1zM2 37h1v1h-1zM2 38h2v1h-2z"/>
<path fill="#40ffbf" d="M2 0h1v1h-1zM2 1h1v1h-1zM1 3h1v1h-1zM1 19h1v1h-1zM2 20h1v1h-1zM1 22h1v1h-1zM1 26h1v1h-1zM2 28h1v1h-1zM2 30h1v1h-1zM2 31h1v1h-1zM2 33h1v1h-1zM2 34h1v1h-1z"/>
<path fill="#50ffaf" d="M3 0h1v1h-1zM5 0h1v1h-1zM7 0h1v1h-1zM32 0h1v1h-1zM3 1h1v1h-1zM5 1h1v1h-1zM7 1h1v1h-1zM13 1h1v1h-1zM22 1h1v1h-1zM32 1h1v1h-1zM5 2h1v1h-1zM7 2h1v1h-1zM13 2h1v1h-1zM18 2h2v1h-2zM22 2h1v1h-1zM32 2h1v1h-1zM1 4h1v1h-1zM1 5h1v1h-1zM0 8h1v1h-1zM1 9h1v1h-1zM2 10h2v1h-2zM7 10h2v1h-2zM2 11h2v1h-2zM9 11h2v1h-2zM1 12h1v1h-1zM0 14h1v1h-1zM0 17h1v1h-1zM1 18h1v1h-1zM3 20h1v1h-1zM2 22h2v1h-2zM2 27h2v1h-2zM7 27h1v1h-1zM22 27h1v1h-1zM33 27h1v1h-1zM35 27h1v1h-1zM37 27h1v1h-1zM3 28h1v1h-1zM7 28h1v1h-1zM22 28h1v1h-1zM33 28h1v1h-1zM35 28h1v1h-1zM37 28h1v1h-1zM7 29h1v1h-1zM22 29h1v1h-1zM32 29h2v1h-2zM35 29h1v1h-1zM3 30h1v1h-1zM22 30h1v1h-1zM32 30h1v1h-1zM3 31h1v1h-1zM3 33h1v1h-1zM22 35h1v1h-1zM32 35h1v1h-1zM22 36h1v1h-1zM32 36h1v1h-1zM22 37h1v1h-1zM32 37h1v1h-1zM22 38h1v1h-1zM32 38h1v1h-1z"/>
<path fill="#60ff9f" d="M6 0h1v1h-1zM6 1h1v1h-1zM0 7h1v1h-1zM2 12h1v1h-1zM1 13h1v1h-1zM2 19h1v1h-1zM1 25h1v1h-1zM3 34h1v1h-1z"/>
<path fill="#70ff8f" d="M13 0h1v1h-1zM22 0h1v1h-1zM10 1h1v1h-1zM19 1h1v1h-1zM6 2h1v1h-1zM8 2h1v1h-1zM10 2h1v1h-1zM20 2h1v1h-1zM37 2h2v1h-2zM5 10h1v1h-1zM5 11h2v1h-2zM3 12h1v1h-1zM7 12h2v1h-2zM0 15h1v1h-1zM0 16h1v1h-1zM1 17h1v1h-1zM2 18h2v1h-2zM33 21h1v1h-1zM1 24h1v1h-1zM5 27h1v1h-1zM24 27h1v1h-1zM26 27h3v1h-3zM36 27h1v1h-1zM38 27h1v1h-1zM5 29h1v1h-1zM37 29h1v1h-1zM5 30h1v1h-1zM33 30h1v1h-1zM35 30h1v1h-1zM37 30h1v1h-1zM22 31h1v1h-1zM32 31h1v1h-1zM5 32h1v1h-1zM22 32h1v1h-1zM32 32h1v1h-1zM5 35h1v1h-1zM7 35h1v1h-1zM35 35h1v1h-1zM37 35h1v1h-1zM5 36h1v1h-1zM33 36h1v1h-1zM35 36h1v1h-1zM37 36h1v1h-1zM5 37h1v1h-1zM33 37h1v1h-1zM35 37h1v1h-1zM37 37h1v1h-1zM5 38h1v1h-1zM33 38h1v1h-1zM35 38h1v1h-1zM37 38h1v1h-1z"/>
<path fill="#80ff80" d="M4 0h1v1h-1zM8 0h3v1h-3zM4 1h1v1h-1zM8 1h2v1h-2zM18 1h1v1h-1zM38 1h1v1h-1zM4 2h1v1h-1zM2 3h2v1h-2zM1 6h1v1h-1zM6 10h1v1h-1zM4 11h1v1h-1zM2 13h1v1h-1zM1 14h1v1h-1zM1 16h1v1h-1zM2 17h1v1h-1zM3 19h1v1h-1zM1 23h1v1h-1zM34 27h1v1h-1zM5 28h2v1h-2zM8 28h1v1h-1zM31 28h1v1h-1zM34 28h1v1h-1zM36 28h1v1h-1zM38 28h1v1h-1zM4 29h1v1h-1zM6 29h1v1h-1zM31 29h1v1h-1zM34 29h1v1h-1zM36 29h1v1h-1zM38 29h1v1h-1zM4 30h1v1h-1zM38 30h1v1h-1zM33 31h1v1h-1zM4 32h1v1h-1zM4 33h1v1h-1zM4 35h1v1h-1zM4 36h1v1h-1zM23 36h1v1h-1zM31 36h1v1h-1zM38 36h1v1h-1zM4 37h1v1h-1zM23 37h1v1h-1zM31 37h1v1h-1zM38 37h1v1h-1zM4 38h1v1h-1zM23 38h1v1h-1zM31 38h1v1h-1zM38 38h1v1h-1z"/>
<path fill="#8fff70" d="M11 0h1v1h-1zM18 0h2v1h-2zM30 0h1v1h-1zM37 0h2v1h-2zM11 1h1v1h-1zM30 1h1v1h-1zM37 1h1v1h-1zM9 2h1v1h-1zM11 2h1v1h-1zM15 2h3v1h-3zM23 2h1v1h-1zM25 2h1v1h-1zM27 2h4v1h-4zM33 2h3v1h-3zM13 3h1v1h-1zM22 3h1v1h-1zM2 5h1v1h-1zM32 6h1v1h-1zM3 9h1v1h-1zM10 10h1v1h-1zM5 12h1v1h-1zM10 12h1v1h-1zM3 13h1v1h-1zM3 17h1v1h-1zM7 20h1v1h-1zM7 21h1v1h-1zM32 21h1v1h-1zM35 21h1v1h-1zM37 21h2v1h-2zM7 22h1v1h-1zM33 22h1v1h-1zM2 24h1v1h-1zM2 25h1v1h-1zM32 26h2v1h-2zM4 27h1v1h-1zM6 27h1v1h-1zM8 27h1v1h-1zM10 27h1v1h-1zM23 27h1v1h-1zM25 27h1v1h-1zM29 27h1v1h-1zM31 27h1v1h-1zM10 28h1v1h-1zM28 28h1v1h-1zM8 29h1v1h-1zM10 29h1v1h-1zM25 29h1v1h-1zM28 29h1v1h-1zM7 30h1v1h-1zM27 30h2v1h-2zM5 31h1v1h-1zM35 31h1v1h-1zM37 31h1v1h-1zM7 32h1v1h-1zM33 32h1v1h-1zM35 32h1v1h-1zM37 32h1v1h-1zM5 33h1v1h-1zM22 33h1v1h-1zM32 33h1v1h-1zM5 34h1v1h-1zM22 34h1v1h-1zM32 34h1v1h-1zM23 35h6v1h-6zM31 35h1v1h-1zM33 35h1v1h-1zM38 35h1v1h-1zM7 36h1v1h-1zM24 36h5v1h-5zM7 37h1v1h-1zM24 37h1v1h-1zM27 37h2v1h-2zM7 38h1v1h-1zM24 38h1v1h-1zM27 38h2v1h-2z"/>
<path fill="#9fff60" d="M16 0h2v1h-2zM20 0h2v1h-2zM23 0h1v1h-1zM28 0h2v1h-2zM33 0h2v1h-2zM15 1h3v1h-3zM20 1h1v1h-1zM23 1h1v1h-1zM27 1h2v1h-2zM33 1h3v1h-3zM12 2h1v1h-1zM14 2h1v1h-1zM21 2h1v1h-1zM31 2h1v1h-1zM7 3h1v1h-1zM2 4h1v1h-1zM1 8h1v1h-1zM2 9h1v1h-1zM4 10h1v1h-1zM9 10h1v1h-1zM4 12h1v1h-1zM6 12h1v1h-1zM9 12h1v1h-1zM7 13h1v1h-1zM2 14h1v1h-1zM1 15h1v1h-1zM2 16h1v1h-1zM4 20h1v1h-1zM36 21h1v1h-1zM2 23h1v1h-1zM3 25h1v1h-1zM2 26h2v1h-2zM7 26h1v1h-1zM4 28h1v1h-1zM9 28h1v1h-1zM23 28h5v1h-5zM29 28h1v1h-1zM9 29h1v1h-1zM23 29h2v1h-2zM26 29h2v1h-2zM29 29h1v1h-1zM6 30h1v1h-1zM23 30h1v1h-1zM25 30h2v1h-2zM31 30h1v1h-1zM34 30h1v1h-1zM36 30h1v1h-1zM4 31h1v1h-1zM7 31h1v1h-1zM23 31h1v1h-1zM31 31h1v1h-1zM36 31h1v1h-1zM38 31h1v1h-1zM6 32h1v1h-1zM23 32h1v1h-1zM36 32h1v1h-1zM6 33h2v1h-2zM4 34h1v1h-1zM6 34h2v1h-2zM6 35h1v1h-1zM8 35h1v1h-1zM21 35h1v1h-1zM29 35h1v1h-1zM34 35h1v1h-1zM36 35h1v1h-1zM6 36h1v1h-1zM21 36h1v1h-1zM29 36h2v1h-2zM34 36h1v1h-1zM36 36h1v1h-1zM6 37h1v1h-1zM21 37h1v1h-1zM25 37h2v1h-2zM29 37h2v1h-2zM34 37h1v1h-1zM36 37h1v1h-1zM6 38h1v1h-1zM21 38h1v1h-1zM25 38h2v1h-2zM29 38h2v1h-2zM34 38h1v1h-1zM36 38h1v1h-1z"/>
<path fill="#afff50" d="M15 0h1v1h-1zM25 0h1v1h-1zM27 0h1v1h-1zM35 0h1v1h-1zM25 1h1v1h-1zM24 2h1v1h-1zM26 2h1v1h-1zM36 2h1v1h-1zM5 3h1v1h-1zM10 3h1v1h-1zM19 3h1v1h-1zM32 3h1v1h-1zM7 4h1v1h-1zM22 4h1v1h-1zM32 4h1v1h-1zM3 5h1v1h-1zM7 5h1v1h-1zM10 5h1v1h-1zM22 5h1v1h-1zM32 5h1v1h-1zM22 6h1v1h-1zM7 9h2v1h-2zM22 10h1v1h-1zM27 10h1v1h-1zM31 10h3v1h-3zM35 10h1v1h-1zM38 10h1v1h-1zM11 11h1v1h-1zM32 11h1v1h-1zM35 11h1v1h-1zM8 13h1v1h-1zM3 14h1v1h-1zM7 14h2v1h-2zM3 16h1v1h-1zM7 16h2v1h-2zM7 17h2v1h-2zM7 18h1v1h-1zM7 19h1v1h-1zM33 19h1v1h-1zM5 20h1v1h-1zM32 20h2v1h-2zM37 20h1v1h-1zM5 21h1v1h-1zM8 21h1v1h-1zM28 21h1v1h-1zM31 21h1v1h-1zM5 22h1v1h-1zM8 22h1v1h-1zM32 22h1v1h-1zM35 22h4v1h-4zM3 23h1v1h-1zM7 23h1v1h-1zM3 24h1v1h-1zM7 24h1v1h-1zM7 25h1v1h-1zM35 26h1v1h-1zM37 26h1v1h-1zM9 27h1v1h-1zM16 27h1v1h-1zM18 27h1v1h-1zM21 27h1v1h-1zM30 27h1v1h-1zM16 28h1v1h-1zM18 28h1v1h-1zM16 29h1v1h-1zM18 29h1v1h-1zM30 29h1v1h-1zM8 30h1v1h-1zM10 30h1v1h-1zM24 30h1v1h-1zM29 30h1v1h-1zM8 32h1v1h-1zM10 32h1v1h-1zM24 32h2v1h-2zM27 32h3v1h-3zM31 32h1v1h-1zM34 32h1v1h-1zM38 32h1v1h-1zM8 33h1v1h-1zM8 34h1v1h-1zM35 34h1v1h-1zM37 34h1v1h-1zM10 35h1v1h-1zM18 35h2v1h-2zM30 35h1v1h-1zM8 36h1v1h-1zM18 36h1v1h-1zM8 37h1v1h-1zM8 38h1v1h-1z"/>
<path fill="#bfff40" d="M12 0h1v1h-1zM14 0h1v1h-1zM24 0h1v1h-1zM26 0h1v1h-1zM31 0h1v1h-1zM36 0h1v1h-1zM12 1h1v1h-1zM14 1h1v1h-1zM21 1h1v1h-1zM24 1h1v1h-1zM26 1h1v1h-1zM29 1h1v1h-1zM31 1h1v1h-1zM36 1h1v1h-1zM4 3h1v1h-1zM6 3h1v1h-1zM8 3h1v1h-1zM11 3h1v1h-1zM16 3h3v1h-3zM37 3h1v1h-1zM3 4h1v1h-1zM2 6h1v1h-1zM1 7h1v1h-1zM6 9h1v1h-1zM11 10h1v1h-1zM34 10h1v1h-1zM37 10h1v1h-1zM28 11h1v1h-1zM33 11h2v1h-2zM38 11h1v1h-1zM5 13h1v1h-1zM2 15h1v1h-1zM8 18h1v1h-1zM6 20h1v1h-1zM8 20h1v1h-1zM35 20h1v1h-1zM38 20h1v1h-1zM4 21h1v1h-1zM6 21h1v1h-1zM34 21h1v1h-1zM4 22h1v1h-1zM6 22h1v1h-1zM34 22h1v1h-1zM5 26h1v1h-1zM8 26h1v1h-1zM19 28h1v1h-1zM21 28h1v1h-1zM30 28h1v1h-1zM19 29h3v1h-3zM17 30h5v1h-5zM30 30h1v1h-1zM6 31h1v1h-1zM8 31h1v1h-1zM17 31h4v1h-4zM24 31h6v1h-6zM34 31h1v1h-1zM19 32h3v1h-3zM26 32h1v1h-1zM30 32h1v1h-1zM23 33h1v1h-1zM25 33h1v1h-1zM27 33h2v1h-2zM33 33h1v1h-1zM35 33h1v1h-1zM37 33h1v1h-1zM23 34h1v1h-1zM25 34h5v1h-5zM31 34h1v1h-1zM33 34h2v1h-2zM36 34h1v1h-1zM38 34h1v1h-1zM9 35h1v1h-1zM17 35h1v1h-1zM20 35h1v1h-1zM17 36h1v1h-1zM19 36h2v1h-2zM18 37h3v1h-3zM17 38h4v1h-4z"/>
<path fill="#cfff30" d="M27 3h1v1h-1zM10 4h1v1h-1zM19 4h1v1h-1zM37 4h1v1h-1zM5 5h1v1h-1zM8 5h1v1h-1zM37 5h1v1h-1zM3 6h1v1h-1zM7 6h1v1h-1zM10 6h1v1h-1zM27 6h2v1h-2zM31 6h1v1h-1zM33 6h1v1h-1zM37 6h2v1h-2zM5 9h1v1h-1zM9 9h2v1h-2zM32 9h1v1h-1zM38 9h1v1h-1zM16 10h1v1h-1zM24 10h2v1h-2zM28 10h2v1h-2zM36 10h1v1h-1zM13 11h1v1h-1zM27 11h1v1h-1zM29 11h1v1h-1zM31 11h1v1h-1zM37 11h1v1h-1zM33 12h1v1h-1zM35 12h1v1h-1zM38 12h1v1h-1zM10 13h1v1h-1zM10 14h1v1h-1zM3 15h1v1h-1zM7 15h1v1h-1zM10 16h1v1h-1zM5 17h1v1h-1zM5 18h1v1h-1zM33 18h1v1h-1zM5 19h1v1h-1zM8 19h1v1h-1zM35 19h1v1h-1zM37 19h1v1h-1zM10 21h1v1h-1zM22 21h1v1h-1zM24 21h4v1h-4zM29 21h2v1h-2zM10 22h1v1h-1zM24 22h2v1h-2zM28 22h1v1h-1zM31 22h1v1h-1zM33 23h1v1h-1zM33 24h1v1h-1zM4 25h2v1h-2zM8 25h1v1h-1zM33 25h1v1h-1zM35 25h1v1h-1zM10 26h1v1h-1zM22 26h1v1h-1zM28 26h1v1h-1zM17 27h1v1h-1zM19 27h2v1h-2zM16 30h1v1h-1zM10 31h1v1h-1zM16 31h1v1h-1zM16 32h1v1h-1zM18 32h1v1h-1zM10 33h1v1h-1zM10 34h1v1h-1zM18 34h1v1h-1zM16 35h1v1h-1zM10 36h1v1h-1zM16 36h1v1h-1zM10 37h1v1h-1zM16 37h1v1h-1zM10 38h1v1h-1zM16 38h1v1h-1z"/>
<path fill="#dfff20" d="M9 3h1v1h-1zM15 3h1v1h-1zM20 3h1v1h-1zM23 3h1v1h-1zM25 3h2v1h-2zM28 3h1v1h-1zM30 3h1v1h-1zM33 3h1v1h-1zM35 3h1v1h-1zM38 3h1v1h-1zM5 4h1v1h-1zM8 4h1v1h-1zM13 4h1v1h-1zM18 4h1v1h-1zM33 4h1v1h-1zM38 4h1v1h-1zM6 5h1v1h-1zM9 5h1v1h-1zM33 5h1v1h-1zM38 5h1v1h-1zM8 6h1v1h-1zM2 8h1v1h-1zM4 9h1v1h-1zM37 9h1v1h-1zM12 11h1v1h-1zM22 11h1v1h-1zM36 11h1v1h-1zM11 12h1v1h-1zM32 12h1v1h-1zM37 12h1v1h-1zM4 13h1v1h-1zM6 13h1v1h-1zM9 14h1v1h-1zM8 15h1v1h-1zM9 16h1v1h-1zM4 17h1v1h-1zM4 18h1v1h-1zM35 18h1v1h-1zM37 18h2v1h-2zM4 19h1v1h-1zM32 19h1v1h-1zM38 19h1v1h-1zM36 20h1v1h-1zM9 21h1v1h-1zM9 22h1v1h-1zM26 22h2v1h-2zM37 23h2v1h-2zM8 24h1v1h-1zM6 25h1v1h-1zM32 25h1v1h-1zM37 25h1v1h-1zM4 26h1v1h-1zM6 26h1v1h-1zM31 26h1v1h-1zM36 26h1v1h-1zM38 26h1v1h-1zM11 27h1v1h-1zM11 28h1v1h-1zM17 28h1v1h-1zM20 28h1v1h-1zM11 29h1v1h-1zM13 29h3v1h-3zM17 29h1v1h-1zM9 30h1v1h-1zM11 30h1v1h-1zM21 31h1v1h-1zM30 31h1v1h-1zM9 32h1v1h-1zM17 32h1v1h-1zM9 33h1v1h-1zM16 33h1v1h-1zM18 33h4v1h-4zM24 33h1v1h-1zM26 33h1v1h-1zM29 33h3v1h-3zM34 33h1v1h-1zM36 33h1v1h-1zM38 33h1v1h-1zM9 34h1v1h-1zM16 34h2v1h-2zM19 34h3v1h-3zM24 34h1v1h-1zM30 34h1v1h-1zM11 35h1v1h-1zM13 35h1v1h-1zM15 35h1v1h-1zM15 36h1v1h-1zM9 37h1v1h-1zM17 37h1v1h-1zM9 38h1v1h-1zM14 38h2v1h-2z"/>
<path fill="#efff10" d="M16 4h1v1h-1zM28 4h1v1h-1zM13 5h1v1h-1zM16 5h1v1h-1zM18 5h2v1h-2zM28 5h1v1h-1zM16 6h1v1h-1zM18 6h1v1h-1zM26 6h1v1h-1zM34 6h2v1h-2zM7 7h1v1h-1zM3 8h1v1h-1zM11 9h1v1h-1zM22 9h1v1h-1zM26 9h1v1h-1zM35 9h1v1h-1zM13 10h1v1h-1zM16 11h1v1h-1zM25 11h1v1h-1zM22 12h1v1h-1zM28 12h1v1h-1zM31 12h1v1h-1zM33 13h1v1h-1zM35 13h1v1h-1zM5 14h1v1h-1zM33 14h1v1h-1zM35 14h1v1h-1zM10 15h1v1h-1zM33 15h1v1h-1zM5 16h1v1h-1zM33 16h1v1h-1zM35 16h1v1h-1zM33 17h1v1h-1zM35 17h1v1h-1zM10 20h1v1h-1zM28 20h1v1h-1zM23 21h1v1h-1zM22 22h1v1h-1zM29 22h1v1h-1zM35 23h1v1h-1zM5 24h1v1h-1zM35 24h1v1h-1zM37 24h1v1h-1zM10 25h1v1h-1zM12 27h4v1h-4zM13 28h1v1h-1zM13 30h2v1h-2zM13 34h1v1h-1zM14 35h1v1h-1zM13 36h1v1h-1zM13 37h1v1h-1zM13 38h1v1h-1z"/>
<path fill="#ffff00" d="M12 3h1v1h-1zM14 3h1v1h-1zM21 3h1v1h-1zM24 3h1v1h-1zM29 3h1v1h-1zM31 3h1v1h-1zM34 3h1v1h-1zM6 4h1v1h-1zM9 4h1v1h-1zM11 4h1v1h-1zM17 4h1v1h-1zM20 4h1v1h-1zM23 4h1v1h-1zM26 4h2v1h-2zM30 4h2v1h-2zM35 4h1v1h-1zM4 5h1v1h-1zM11 5h1v1h-1zM26 5h2v1h-2zM31 5h1v1h-1zM35 5h1v1h-1zM5 6h1v1h-1zM17 6h1v1h-1zM23 6h1v1h-1zM36 6h1v1h-1zM10 7h1v1h-1zM7 8h1v1h-1zM27 9h2v1h-2zM31 9h1v1h-1zM33 9h2v1h-2zM36 9h1v1h-1zM12 10h1v1h-1zM14 10h2v1h-2zM21 10h1v1h-1zM23 10h1v1h-1zM26 10h1v1h-1zM15 11h1v1h-1zM24 11h1v1h-1zM26 11h1v1h-1zM13 12h1v1h-1zM25 12h1v1h-1zM27 12h1v1h-1zM34 12h1v1h-1zM36 12h1v1h-1zM9 13h1v1h-1zM27 13h2v1h-2zM32 13h1v1h-1zM38 13h1v1h-1zM34 14h1v1h-1zM5 15h1v1h-1zM35 15h1v1h-1zM38 15h1v1h-1zM4 16h1v1h-1zM38 16h1v1h-1zM10 17h1v1h-1zM37 17h2v1h-2zM31 18h2v1h-2zM34 18h1v1h-1zM36 18h1v1h-1zM10 19h1v1h-1zM28 19h1v1h-1zM31 19h1v1h-1zM34 19h1v1h-1zM36 19h1v1h-1zM9 20h1v1h-1zM25 20h1v1h-1zM31 20h1v1h-1zM34 20h1v1h-1zM30 22h1v1h-1zM5 23h2v1h-2zM10 23h1v1h-1zM32 23h1v1h-1zM4 24h1v1h-1zM32 24h1v1h-1zM36 24h1v1h-1zM38 24h1v1h-1zM24 26h1v1h-1zM26 26h1v1h-1zM30 26h1v1h-1zM34 26h1v1h-1zM14 28h2v1h-2zM12 29h1v1h-1zM15 30h1v1h-1zM13 31h3v1h-3zM11 32h1v1h-1zM13 32h1v1h-1zM15 32h1v1h-1zM13 33h1v1h-1zM15 33h1v1h-1zM17 33h1v1h-1zM11 34h1v1h-1zM14 34h2v1h-2zM12 35h1v1h-1zM9 36h1v1h-1zM11 36h1v1h-1zM14 36h1v1h-1zM11 37h1v1h-1zM14 37h2v1h-2zM11 38h1v1h-1z"/>
<path fill="#ffef00" d="M36 3h1v1h-1zM4 4h1v1h-1zM21 4h1v1h-1zM17 5h1v1h-1zM23 5h1v1h-1zM6 6h1v1h-1zM9 6h1v1h-1zM13 6h1v1h-1zM15 6h1v1h-1zM19 6h1v1h-1zM24 6h1v1h-1zM29 6h1v1h-1zM2 7h1v1h-1zM13 9h1v1h-1zM16 9h1v1h-1zM29 9h1v1h-1zM18 10h1v1h-1zM30 10h1v1h-1zM18 11h1v1h-1zM16 12h1v1h-1zM22 13h1v1h-1zM31 13h1v1h-1zM34 13h1v1h-1zM4 14h1v1h-1zM6 14h1v1h-1zM9 15h1v1h-1zM6 16h1v1h-1zM31 16h1v1h-1zM6 17h1v1h-1zM9 17h1v1h-1zM31 17h1v1h-1zM6 18h1v1h-1zM10 18h1v1h-1zM6 19h1v1h-1zM25 19h1v1h-1zM22 20h1v1h-1zM27 20h1v1h-1zM29 20h1v1h-1zM18 21h1v1h-1zM18 22h1v1h-1zM4 23h1v1h-1zM8 23h1v1h-1zM36 23h1v1h-1zM6 24h1v1h-1zM10 24h1v1h-1zM9 25h1v1h-1zM34 25h1v1h-1zM36 25h1v1h-1zM9 26h1v1h-1zM23 26h1v1h-1zM25 26h1v1h-1zM27 26h1v1h-1zM29 26h1v1h-1zM12 28h1v1h-1zM9 31h1v1h-1zM11 31h1v1h-1z"/>
<path fill="#ffdf00" d="M12 4h1v1h-1zM15 4h1v1h-1zM24 4h2v1h-2zM29 4h1v1h-1zM34 4h1v1h-1zM36 4h1v1h-1zM12 5h1v1h-1zM15 5h1v1h-1zM20 5h1v1h-1zM25 5h1v1h-1zM29 5h2v1h-2zM34 5h1v1h-1zM36 5h1v1h-1zM11 6h2v1h-2zM14 6h1v1h-1zM20 6h2v1h-2zM25 6h1v1h-1zM3 7h1v1h-1zM8 7h1v1h-1zM32 7h1v1h-1zM8 8h1v1h-1zM10 8h1v1h-1zM32 8h1v1h-1zM12 9h1v1h-1zM15 9h1v1h-1zM18 9h1v1h-1zM24 9h1v1h-1zM17 10h1v1h-1zM19 10h2v1h-2zM14 11h1v1h-1zM21 11h1v1h-1zM23 11h1v1h-1zM30 11h1v1h-1zM12 12h1v1h-1zM14 12h1v1h-1zM24 12h1v1h-1zM29 12h1v1h-1zM16 13h1v1h-1zM24 13h2v1h-2zM36 13h2v1h-2zM27 14h2v1h-2zM31 14h1v1h-1zM38 14h1v1h-1zM28 15h1v1h-1zM31 15h2v1h-2zM37 15h1v1h-1zM11 16h1v1h-1zM24 16h2v1h-2zM27 16h3v1h-3zM32 16h1v1h-1zM34 16h1v1h-1zM37 16h1v1h-1zM27 17h3v1h-3zM34 17h1v1h-1zM9 18h1v1h-1zM27 18h3v1h-3zM9 19h1v1h-1zM24 19h1v1h-1zM27 19h1v1h-1zM29 19h1v1h-1zM24 20h1v1h-1zM26 20h1v1h-1zM30 20h1v1h-1zM11 21h1v1h-1zM16 21h1v1h-1zM19 21h3v1h-3zM11 22h1v1h-1zM13 22h1v1h-1zM16 22h1v1h-1zM19 22h1v1h-1zM23 22h1v1h-1zM9 23h1v1h-1zM28 23h1v1h-1zM31 23h1v1h-1zM9 24h1v1h-1zM22 24h1v1h-1zM28 24h1v1h-1zM31 24h1v1h-1zM22 25h1v1h-1zM28 25h1v1h-1zM38 25h1v1h-1zM18 26h1v1h-1zM12 30h1v1h-1zM12 31h1v1h-1zM12 32h1v1h-1zM14 32h1v1h-1zM11 33h1v1h-1zM12 34h1v1h-1zM12 36h1v1h-1zM12 37h1v1h-1zM12 38h1v1h-1z"/>
<path fill="#ffcf00" d="M14 4h1v1h-1zM14 5h1v1h-1zM21 5h1v1h-1zM24 5h1v1h-1zM4 6h1v1h-1zM30 6h1v1h-1zM5 7h2v1h-2zM9 7h1v1h-1zM11 7h1v1h-1zM16 7h1v1h-1zM22 7h1v1h-1zM33 7h1v1h-1zM36 7h3v1h-3zM5 8h2v1h-2zM9 8h1v1h-1zM22 8h1v1h-1zM35 8h4v1h-4zM14 9h1v1h-1zM17 9h1v1h-1zM19 9h3v1h-3zM23 9h1v1h-1zM25 9h1v1h-1zM30 9h1v1h-1zM17 11h1v1h-1zM19 11h2v1h-2zM15 12h1v1h-1zM18 12h4v1h-4zM23 12h1v1h-1zM26 12h1v1h-1zM11 13h4v1h-4zM23 13h1v1h-1zM26 13h1v1h-1zM29 13h1v1h-1zM11 14h1v1h-1zM16 14h1v1h-1zM22 14h1v1h-1zM24 14h3v1h-3zM29 14h1v1h-1zM32 14h1v1h-1zM36 14h2v1h-2zM4 15h1v1h-1zM6 15h1v1h-1zM11 15h1v1h-1zM27 15h1v1h-1zM29 15h1v1h-1zM34 15h1v1h-1zM36 15h1v1h-1zM22 16h1v1h-1zM26 16h1v1h-1zM36 16h1v1h-1zM11 17h1v1h-1zM24 17h3v1h-3zM32 17h1v1h-1zM36 17h1v1h-1zM11 18h1v1h-1zM24 18h2v1h-2zM30 18h1v1h-1zM22 19h1v1h-1zM26 19h1v1h-1zM30 19h1v1h-1zM11 20h1v1h-1zM23 20h1v1h-1zM12 21h3v1h-3zM17 21h1v1h-1zM12 22h1v1h-1zM14 22h1v1h-1zM17 22h1v1h-1zM20 22h2v1h-2zM22 23h1v1h-1zM27 23h1v1h-1zM34 23h1v1h-1zM24 24h4v1h-4zM29 24h1v1h-1zM34 24h1v1h-1zM26 25h1v1h-1zM31 25h1v1h-1zM11 26h1v1h-1zM16 26h1v1h-1zM21 26h1v1h-1zM12 33h1v1h-1zM14 33h1v1h-1z"/>
<path fill="#ffaf00" d="M13 7h1v1h-1zM18 7h1v1h-1zM27 7h3v1h-3zM31 7h1v1h-1zM35 7h1v1h-1zM4 8h1v1h-1zM27 8h2v1h-2zM33 8h1v1h-1zM17 12h1v1h-1zM30 12h1v1h-1zM15 13h1v1h-1zM18 13h1v1h-1zM21 13h1v1h-1zM30 13h1v1h-1zM12 14h2v1h-2zM18 14h1v1h-1zM23 14h1v1h-1zM16 15h1v1h-1zM22 15h1v1h-1zM24 15h3v1h-3zM16 16h1v1h-1zM18 16h1v1h-1zM23 16h1v1h-1zM30 16h1v1h-1zM22 17h1v1h-1zM30 17h1v1h-1zM22 18h1v1h-1zM26 18h1v1h-1zM11 19h1v1h-1zM23 19h1v1h-1zM18 20h1v1h-1zM21 20h1v1h-1zM15 21h1v1h-1zM11 23h1v1h-1zM23 23h4v1h-4zM29 23h1v1h-1zM11 24h1v1h-1zM30 24h1v1h-1zM23 25h3v1h-3zM27 25h1v1h-1zM29 25h2v1h-2zM12 26h2v1h-2zM17 26h1v1h-1zM19 26h2v1h-2z"/>
<path fill="#ff8f00" d="M4 7h1v1h-1zM12 7h1v1h-1zM14 7h2v1h-2zM17 7h1v1h-1zM19 7h2v1h-2zM23 7h4v1h-4zM34 7h1v1h-1zM11 8h1v1h-1zM13 8h1v1h-1zM16 8h1v1h-1zM25 8h2v1h-2zM29 8h1v1h-1zM31 8h1v1h-1zM34 8h1v1h-1zM17 13h1v1h-1zM19 13h2v1h-2zM14 14h2v1h-2zM17 14h1v1h-1zM20 14h2v1h-2zM30 14h1v1h-1zM12 15h3v1h-3zM18 15h1v1h-1zM23 15h1v1h-1zM30 15h1v1h-1zM12 16h2v1h-2zM15 16h1v1h-1zM21 16h1v1h-1zM16 17h1v1h-1zM18 17h1v1h-1zM21 17h1v1h-1zM23 17h1v1h-1zM16 18h1v1h-1zM18 18h1v1h-1zM23 18h1v1h-1zM16 19h1v1h-1zM18 19h2v1h-2zM12 20h2v1h-2zM16 20h2v1h-2zM19 20h2v1h-2zM15 22h1v1h-1zM12 23h3v1h-3zM16 23h3v1h-3zM21 23h1v1h-1zM30 23h1v1h-1zM16 24h1v1h-1zM18 24h1v1h-1zM21 24h1v1h-1zM23 24h1v1h-1zM11 25h1v1h-1zM13 25h1v1h-1zM16 25h1v1h-1zM18 25h1v1h-1zM21 25h1v1h-1zM14 26h2v1h-2z"/>
<path fill="#ff7000" d="M21 7h1v1h-1zM30 7h1v1h-1zM18 8h1v1h-1zM23 8h2v1h-2zM30 8h1v1h-1zM19 14h1v1h-1zM15 15h1v1h-1zM17 15h1v1h-1zM20 15h2v1h-2zM14 16h1v1h-1zM17 16h1v1h-1zM19 16h2v1h-2zM12 17h2v1h-2zM15 17h1v1h-1zM17 17h1v1h-1zM20 17h1v1h-1zM12 18h2v1h-2zM17 18h1v1h-1zM19 18h3v1h-3zM12 19h2v1h-2zM17 19h1v1h-1zM20 19h2v1h-2zM14 20h2v1h-2zM19 23h2v1h-2zM12 24h3v1h-3zM17 24h1v1h-1zM12 25h1v1h-1zM14 25h2v1h-2zM17 25h1v1h-1zM19 25h1v1h-1z"/>
<path fill="#ff6000" d="M12 8h1v1h-1zM15 8h1v1h-1zM17 8h1v1h-1zM21 8h1v1h-1z"/>
<path fill="#ff5000" d="M14 8h1v1h-1zM19 8h2v1h-2zM19 15h1v1h-1zM14 17h1v1h-1zM19 17h1v1h-1zM14 18h2v1h-2zM14 19h2v1h-2zM15 23h1v1h-1zM15 24h1v1h-1zM19 24h2v1h-2zM20 25h1v1h-1z"/>
</g>
<path d="M1178.1 614.1V922.4H1491.1" fill="none" stroke="#8a8a8a" stroke-width="1"/>
<path d="M1178.1 922.4v-2.6M1178.1 922.4h2.6M1256.1 922.4v-2.6M1178.1 845.4h2.6M1334.1 922.4v-2.6M1178.1 768.4h2.6M1412.1 922.4v-2.6M1178.1 691.4h2.6M1490.1 922.4v-2.6M1178.1 614.4h2.6" stroke="#333" stroke-width="0.9" fill="none"/>
<text x="1178.1" y="941.8" font-size="16.4" text-anchor="middle" textLength="8.63" lengthAdjust="spacingAndGlyphs" stroke="#000" stroke-width="0.3">0</text>
<text x="1175.65" y="929.3" font-size="16.4" text-anchor="end" textLength="8.63" lengthAdjust="spacingAndGlyphs" stroke="#000" stroke-width="0.3">0</text>
<text x="1256.1" y="941.8" font-size="16.4" text-anchor="middle" textLength="17.27" lengthAdjust="spacingAndGlyphs" stroke="#000" stroke-width="0.3">10</text>
<text x="1175.65" y="852.3" font-size="16.4" text-anchor="end" textLength="17.27" lengthAdjust="spacingAndGlyphs" stroke="#000" stroke-width="0.3">10</text>
<text x="1334.1" y="941.8" font-size="16.4" text-anchor="middle" textLength="17.27" lengthAdjust="spacingAndGlyphs" stroke="#000" stroke-width="0.3">20</text>
<text x="1175.65" y="775.3" font-size="16.4" text-anchor="end" textLength="17.27" lengthAdjust="spacingAndGlyphs" stroke="#000" stroke-width="0.3">20</text>
<text x="1412.1" y="941.8" font-size="16.4" text-anchor="middle" textLength="17.27" lengthAdjust="spacingAndGlyphs" stroke="#000" stroke-width="0.3">30</text>
<text x="1175.65" y="698.3" font-size="16.4" text-anchor="end" textLength="17.27" lengthAdjust="spacingAndGlyphs" stroke="#000" stroke-width="0.3">30</text>
<text x="1490.1" y="941.8" font-size="16.4" text-anchor="middle" textLength="17.27" lengthAdjust="spacingAndGlyphs" stroke="#000" stroke-width="0.3">40</text>
<text x="1175.65" y="621.3" font-size="16.4" text-anchor="end" textLength="17.27" lengthAdjust="spacingAndGlyphs" stroke="#000" stroke-width="0.3">40</text>
<g shape-rendering="crispEdges">
<rect x="1502.85" y="614.1" width="17.85" height="5.03" fill="#800000"/>
<rect x="1502.85" y="618.83" width="17.85" height="5.03" fill="#8f0000"/>
<rect x="1502.85" y="623.56" width="17.85" height="5.03" fill="#9f0000"/>
<rect x="1502.85" y="628.28" width="17.85" height="5.03" fill="#af0000"/>
<rect x="1502.85" y="633.01" width="17.85" height="5.03" fill="#bf0000"/>
<rect x="1502.85" y="637.74" width="17.85" height="5.03" fill="#cf0000"/>
<rect x="1502.85" y="642.47" width="17.85" height="5.03" fill="#df0000"/>
<rect x="1502.85" y="647.2" width="17.85" height="5.03" fill="#ef0000"/>
<rect x="1502.85" y="651.93" width="17.85" height="5.03" fill="#ff0000"/>
<rect x="1502.85" y="656.65" width="17.85" height="5.03" fill="#ff1000"/>
<rect x="1502.85" y="661.38" width="17.85" height="5.03" fill="#ff2000"/>
<rect x="1502.85" y="666.11" width="17.85" height="5.03" fill="#ff3000"/>
<rect x="1502.85" y="670.84" width="17.85" height="5.03" fill="#ff4000"/>
<rect x="1502.85" y="675.57" width="17.85" height="5.03" fill="#ff5000"/>
<rect x="1502.85" y="680.29" width="17.85" height="5.03" fill="#ff6000"/>
<rect x="1502.85" y="685.02" width="17.85" height="5.03" fill="#ff7000"/>
<rect x="1502.85" y="689.75" width="17.85" height="5.03" fill="#ff8000"/>
<rect x="1502.85" y="694.48" width="17.85" height="5.03" fill="#ff8f00"/>
<rect x="1502.85" y="699.21" width="17.85" height="5.03" fill="#ff9f00"/>
<rect x="1502.85" y="703.93" width="17.85" height="5.03" fill="#ffaf00"/>
<rect x="1502.85" y="708.66" width="17.85" height="5.03" fill="#ffbf00"/>
<rect x="1502.85" y="713.39" width="17.85" height="5.03" fill="#ffcf00"/>
<rect x="1502.85" y="718.12" width="17.85" height="5.03" fill="#ffdf00"/>
<rect x="1502.85" y="722.85" width="17.85" height="5.03" fill="#ffef00"/>
<rect x="1502.85" y="727.58" width="17.85" height="5.03" fill="#ffff00"/>
<rect x="1502.85" y="732.3" width="17.85" height="5.03" fill="#efff10"/>
<rect x="1502.85" y="737.03" width="17.85" height="5.03" fill="#dfff20"/>
<rect x="1502.85" y="741.76" width="17.85" height="5.03" fill="#cfff30"/>
<rect x="1502.85" y="746.49" width="17.85" height="5.03" fill="#bfff40"/>
<rect x="1502.85" y="751.22" width="17.85" height="5.03" fill="#afff50"/>
<rect x="1502.85" y="755.94" width="17.85" height="5.03" fill="#9fff60"/>
<rect x="1502.85" y="760.67" width="17.85" height="5.03" fill="#8fff70"/>
<rect x="1502.85" y="765.4" width="17.85" height="5.03" fill="#80ff80"/>
<rect x="1502.85" y="770.13" width="17.85" height="5.03" fill="#70ff8f"/>
<rect x="1502.85" y="774.86" width="17.85" height="5.03" fill="#60ff9f"/>
<rect x="1502.85" y="779.58" width="17.85" height="5.03" fill="#50ffaf"/>
<rect x="1502.85" y="784.31" width="17.85" height="5.03" fill="#40ffbf"/>
<rect x="1502.85" y="789.04" width="17.85" height="5.03" fill="#30ffcf"/>
<rect x="1502.85" y="793.77" width="17.85" height="5.03" fill="#20ffdf"/>
<rect x="1502.85" y="798.5" width="17.85" height="5.03" fill="#10ffef"/>
<rect x="1502.85" y="803.23" width="17.85" height="5.03" fill="#00ffff"/>
<rect x="1502.85" y="807.95" width="17.85" height="5.03" fill="#00efff"/>
<rect x="1502.85" y="812.68" width="17.85" height="5.03" fill="#00dfff"/>
<rect x="1502.85" y="817.41" width="17.85" height="5.03" fill="#00cfff"/>
<rect x="1502.85" y="822.14" width="17.85" height="5.03" fill="#00bfff"/>
<rect x="1502.85" y="826.87" width="17.85" height="5.03" fill="#00afff"/>
<rect x="1502.85" y="831.59" width="17.85" height="5.03" fill="#009fff"/>
<rect x="1502.85" y="836.32" width="17.85" height="5.03" fill="#008fff"/>
<rect x="1502.85" y="841.05" width="17.85" height="5.03" fill="#0080ff"/>
<rect x="1502.85" y="845.78" width="17.85" height="5.03" fill="#0070ff"/>
<rect x="1502.85" y="850.51" width="17.85" height="5.03" fill="#0060ff"/>
<rect x="1502.85" y="855.23" width="17.85" height="5.03" fill="#0050ff"/>
<rect x="1502.85" y="859.96" width="17.85" height="5.03" fill="#0040ff"/>
<rect x="1502.85" y="864.69" width="17.85" height="5.03" fill="#0030ff"/>
<rect x="1502.85" y="869.42" width="17.85" height="5.03" fill="#0020ff"/>
<rect x="1502.85" y="874.15" width="17.85" height="5.03" fill="#0010ff"/>
<rect x="1502.85" y="878.88" width="17.85" height="5.03" fill="#0000ff"/>
<rect x="1502.85" y="883.6" width="17.85" height="5.03" fill="#0000ef"/>
<rect x="1502.85" y="888.33" width="17.85" height="5.03" fill="#0000df"/>
<rect x="1502.85" y="893.06" width="17.85" height="5.03" fill="#0000cf"/>
<rect x="1502.85" y="897.79" width="17.85" height="5.03" fill="#0000bf"/>
<rect x="1502.85" y="902.52" width="17.85" height="5.03" fill="#0000af"/>
<rect x="1502.85" y="907.24" width="17.85" height="5.03" fill="#00009f"/>
<rect x="1502.85" y="911.97" width="17.85" height="5.03" fill="#00008f"/>
</g>
<rect x="1502.85" y="614.1" width="17.85" height="302.6" fill="none" stroke="#777" stroke-width="0.7"/>
<text x="1522.07" y="619.85" font-size="15.9" textLength="8.8" lengthAdjust="spacingAndGlyphs" stroke="#000" stroke-width="0.3">1</text>
<text x="1522.07" y="695.59" font-size="15.9" textLength="21.99" lengthAdjust="spacingAndGlyphs" stroke="#000" stroke-width="0.3">0.5</text>
<text x="1522.07" y="771.33" font-size="15.9" textLength="8.8" lengthAdjust="spacingAndGlyphs" stroke="#000" stroke-width="0.3">0</text>
<text x="1522.07" y="847.06" font-size="15.9" textLength="27.26" lengthAdjust="spacingAndGlyphs" stroke="#000" stroke-width="0.3">-0.5</text>
<text x="1522.07" y="922.8" font-size="15.9" textLength="14.07" lengthAdjust="spacingAndGlyphs" stroke="#000" stroke-width="0.3">-1</text>
<path d="M1502.85 614.5h2.6M1520.7 614.5h-2.6M1502.85 689.84h2.6M1520.7 689.84h-2.6M1502.85 765.58h2.6M1520.7 765.58h-2.6M1502.85 841.31h2.6M1520.7 841.31h-2.6M1502.85 916.3h2.6M1520.7 916.3h-2.6" stroke="#222" stroke-width="0.8" fill="none"/>
<g font-size="16" stroke="#000" stroke-width="0.3"><text x="1181.75" y="601.3" textLength="83.03" lengthAdjust="spacingAndGlyphs">Correlation</text> <text x="1268.77" y="601.3" textLength="35.55" lengthAdjust="spacingAndGlyphs">(Coh</text> <text x="1308.06" y="601.3" textLength="81.82" lengthAdjust="spacingAndGlyphs">vHIP-mPFC</text> <text x="1393.91" y="601.3" textLength="7.58" lengthAdjust="spacingAndGlyphs">x</text> <text x="1405.6" y="601.3" textLength="29.87" lengthAdjust="spacingAndGlyphs">PSD</text> <text x="1439.27" y="601.3" textLength="43.11" lengthAdjust="spacingAndGlyphs">mPFC</text> <text x="1485.67" y="601.3" textLength="5.91" lengthAdjust="spacingAndGlyphs">)</text></g>
<g font-size="16" stroke="#000" stroke-width="0.3"><text x="1276.76" y="968.9" textLength="28.38" lengthAdjust="spacingAndGlyphs">PSD</text> <text x="1309.28" y="968.9" textLength="42.69" lengthAdjust="spacingAndGlyphs">mPFC</text> <text x="1355.92" y="968.9" textLength="29.74" lengthAdjust="spacingAndGlyphs">(Hz)</text></g>
<g font-size="16" stroke="#000" stroke-width="0.3" transform="rotate(-90 1153.1 865.8)"><text x="1152.3" y="865.8" textLength="78.52" lengthAdjust="spacingAndGlyphs">Coherence</text> <text x="1235.41" y="865.8" textLength="81.99" lengthAdjust="spacingAndGlyphs">vHIP-mPFC</text> <text x="1320.86" y="865.8" textLength="30.53" lengthAdjust="spacingAndGlyphs">(Hz)</text></g>
<!-- D p -->
<g transform="translate(1618.2,615.4) scale(7.6064,7.6808)" shape-rendering="crispEdges">
<rect width="39" height="39" fill="#00008f"/>
<path fill="#0000af" d="M0 29h1v1h-1z"/>
<path fill="#8fff70" d="M0 35h1v1h-1zM0 36h1v1h-1z"/>
<path fill="#bfff40" d="M0 37h1v1h-1zM0 38h1v1h-1z"/>
</g>
<path d="M1610.8 615.25V922.7H1915.85" fill="none" stroke="#8a8a8a" stroke-width="1"/>
<path d="M1610.8 922.7v-2.6M1610.8 922.7h2.6M1686.81 922.7v-2.6M1610.8 845.91h2.6M1762.82 922.7v-2.6M1610.8 769.12h2.6M1838.84 922.7v-2.6M1610.8 692.34h2.6M1914.85 922.7v-2.6M1610.8 615.55h2.6" stroke="#333" stroke-width="0.9" fill="none"/>
<text x="1610.8" y="942.3" font-size="16" text-anchor="middle" textLength="8.53" lengthAdjust="spacingAndGlyphs" stroke="#000" stroke-width="0.3">0</text>
<text x="1608.64" y="929.6" font-size="16" text-anchor="end" textLength="8.53" lengthAdjust="spacingAndGlyphs" stroke="#000" stroke-width="0.3">0</text>
<text x="1686.81" y="942.3" font-size="16" text-anchor="middle" textLength="17.06" lengthAdjust="spacingAndGlyphs" stroke="#000" stroke-width="0.3">10</text>
<text x="1608.64" y="852.81" font-size="16" text-anchor="end" textLength="17.06" lengthAdjust="spacingAndGlyphs" stroke="#000" stroke-width="0.3">10</text>
<text x="1762.82" y="942.3" font-size="16" text-anchor="middle" textLength="17.06" lengthAdjust="spacingAndGlyphs" stroke="#000" stroke-width="0.3">20</text>
<text x="1608.64" y="776.02" font-size="16" text-anchor="end" textLength="17.06" lengthAdjust="spacingAndGlyphs" stroke="#000" stroke-width="0.3">20</text>
<text x="1838.84" y="942.3" font-size="16" text-anchor="middle" textLength="17.06" lengthAdjust="spacingAndGlyphs" stroke="#000" stroke-width="0.3">30</text>
<text x="1608.64" y="699.24" font-size="16" text-anchor="end" textLength="17.06" lengthAdjust="spacingAndGlyphs" stroke="#000" stroke-width="0.3">30</text>
<text x="1914.85" y="942.3" font-size="16" text-anchor="middle" textLength="17.06" lengthAdjust="spacingAndGlyphs" stroke="#000" stroke-width="0.3">40</text>
<text x="1608.64" y="622.45" font-size="16" text-anchor="end" textLength="17.06" lengthAdjust="spacingAndGlyphs" stroke="#000" stroke-width="0.3">40</text>
<g shape-rendering="crispEdges">
<rect x="1929.25" y="615.05" width="19.75" height="5.14" fill="#800000"/>
<rect x="1929.25" y="619.89" width="19.75" height="5.14" fill="#ff0500"/>
<rect x="1929.25" y="624.72" width="19.75" height="5.14" fill="#ff0f00"/>
<rect x="1929.25" y="629.56" width="19.75" height="5.14" fill="#ff1800"/>
<rect x="1929.25" y="634.4" width="19.75" height="5.14" fill="#ff2200"/>
<rect x="1929.25" y="639.23" width="19.75" height="5.14" fill="#ff2c00"/>
<rect x="1929.25" y="644.07" width="19.75" height="5.14" fill="#ff3500"/>
<rect x="1929.25" y="648.91" width="19.75" height="5.14" fill="#ff3f00"/>
<rect x="1929.25" y="653.74" width="19.75" height="5.14" fill="#ff4900"/>
<rect x="1929.25" y="658.58" width="19.75" height="5.14" fill="#ff5300"/>
<rect x="1929.25" y="663.42" width="19.75" height="5.14" fill="#ff5c00"/>
<rect x="1929.25" y="668.25" width="19.75" height="5.14" fill="#ff6600"/>
<rect x="1929.25" y="673.09" width="19.75" height="5.14" fill="#ff7000"/>
<rect x="1929.25" y="677.93" width="19.75" height="5.14" fill="#ff7a00"/>
<rect x="1929.25" y="682.76" width="19.75" height="5.14" fill="#ff8500"/>
<rect x="1929.25" y="687.6" width="19.75" height="5.14" fill="#ff9000"/>
<rect x="1929.25" y="692.44" width="19.75" height="5.14" fill="#ff9b00"/>
<rect x="1929.25" y="697.27" width="19.75" height="5.14" fill="#ffa600"/>
<rect x="1929.25" y="702.11" width="19.75" height="5.14" fill="#ffb100"/>
<rect x="1929.25" y="706.95" width="19.75" height="5.14" fill="#ffbc00"/>
<rect x="1929.25" y="711.78" width="19.75" height="5.14" fill="#ffc700"/>
<rect x="1929.25" y="716.62" width="19.75" height="5.14" fill="#ffd200"/>
<rect x="1929.25" y="721.46" width="19.75" height="5.14" fill="#ffdd00"/>
<rect x="1929.25" y="726.29" width="19.75" height="5.14" fill="#ffe800"/>
<rect x="1929.25" y="731.13" width="19.75" height="5.14" fill="#fff300"/>
<rect x="1929.25" y="735.97" width="19.75" height="5.14" fill="#fffe00"/>
<rect x="1929.25" y="740.8" width="19.75" height="5.14" fill="#edff12"/>
<rect x="1929.25" y="745.64" width="19.75" height="5.14" fill="#d9ff26"/>
<rect x="1929.25" y="750.48" width="19.75" height="5.14" fill="#c5ff3a"/>
<rect x="1929.25" y="755.31" width="19.75" height="5.14" fill="#b1ff4e"/>
<rect x="1929.25" y="760.15" width="19.75" height="5.14" fill="#9dff62"/>
<rect x="1929.25" y="764.99" width="19.75" height="5.14" fill="#89ff76"/>
<rect x="1929.25" y="769.83" width="19.75" height="5.14" fill="#78ff87"/>
<rect x="1929.25" y="774.66" width="19.75" height="5.14" fill="#68ff97"/>
<rect x="1929.25" y="779.5" width="19.75" height="5.14" fill="#58ffa7"/>
<rect x="1929.25" y="784.34" width="19.75" height="5.14" fill="#48ffb7"/>
<rect x="1929.25" y="789.17" width="19.75" height="5.14" fill="#38ffc7"/>
<rect x="1929.25" y="794.01" width="19.75" height="5.14" fill="#28ffd7"/>
<rect x="1929.25" y="798.85" width="19.75" height="5.14" fill="#19ffe6"/>
<rect x="1929.25" y="803.68" width="19.75" height="5.14" fill="#0ffff0"/>
<rect x="1929.25" y="808.52" width="19.75" height="5.14" fill="#05fffa"/>
<rect x="1929.25" y="813.36" width="19.75" height="5.14" fill="#00f8ff"/>
<rect x="1929.25" y="818.19" width="19.75" height="5.14" fill="#00eaff"/>
<rect x="1929.25" y="823.03" width="19.75" height="5.14" fill="#00dcff"/>
<rect x="1929.25" y="827.87" width="19.75" height="5.14" fill="#00cfff"/>
<rect x="1929.25" y="832.7" width="19.75" height="5.14" fill="#00c1ff"/>
<rect x="1929.25" y="837.54" width="19.75" height="5.14" fill="#00b3ff"/>
<rect x="1929.25" y="842.38" width="19.75" height="5.14" fill="#00a5ff"/>
<rect x="1929.25" y="847.21" width="19.75" height="5.14" fill="#0098ff"/>
<rect x="1929.25" y="852.05" width="19.75" height="5.14" fill="#008aff"/>
<rect x="1929.25" y="856.89" width="19.75" height="5.14" fill="#007cff"/>
<rect x="1929.25" y="861.72" width="19.75" height="5.14" fill="#0070ff"/>
<rect x="1929.25" y="866.56" width="19.75" height="5.14" fill="#0067ff"/>
<rect x="1929.25" y="871.4" width="19.75" height="5.14" fill="#005dff"/>
<rect x="1929.25" y="876.23" width="19.75" height="5.14" fill="#0054ff"/>
<rect x="1929.25" y="881.07" width="19.75" height="5.14" fill="#004bff"/>
<rect x="1929.25" y="885.91" width="19.75" height="5.14" fill="#0041ff"/>
<rect x="1929.25" y="890.74" width="19.75" height="5.14" fill="#0038ff"/>
<rect x="1929.25" y="895.58" width="19.75" height="5.14" fill="#002fff"/>
<rect x="1929.25" y="900.42" width="19.75" height="5.14" fill="#0025ff"/>
<rect x="1929.25" y="905.25" width="19.75" height="5.14" fill="#001cff"/>
<rect x="1929.25" y="910.09" width="19.75" height="5.14" fill="#0013ff"/>
<rect x="1929.25" y="914.93" width="19.75" height="5.14" fill="#000aff"/>
<rect x="1929.25" y="919.76" width="19.75" height="5.14" fill="#00008f"/>
</g>
<rect x="1929.25" y="615.05" width="19.75" height="309.55" fill="none" stroke="#777" stroke-width="0.7"/>
<text x="1949.99" y="621.7" font-size="19.8" textLength="10.59" lengthAdjust="spacingAndGlyphs" stroke="#000" stroke-width="0.3">0</text>
<text x="1949.99" y="683.62" font-size="19.8" textLength="37.07" lengthAdjust="spacingAndGlyphs" stroke="#000" stroke-width="0.3">0.01</text>
<text x="1949.99" y="745.54" font-size="19.8" textLength="37.07" lengthAdjust="spacingAndGlyphs" stroke="#000" stroke-width="0.3">0.02</text>
<text x="1949.99" y="807.46" font-size="19.8" textLength="37.07" lengthAdjust="spacingAndGlyphs" stroke="#000" stroke-width="0.3">0.03</text>
<text x="1949.99" y="869.38" font-size="19.8" textLength="37.07" lengthAdjust="spacingAndGlyphs" stroke="#000" stroke-width="0.3">0.04</text>
<text x="1949.99" y="931.3" font-size="19.8" textLength="53.49" lengthAdjust="spacingAndGlyphs" stroke="#000" stroke-width="0.3">&gt; 0.05</text>
<path d="M1929.25 615.5h2.6M1949 615.5h-2.6M1929.25 677.42h2.6M1949 677.42h-2.6M1929.25 739.34h2.6M1949 739.34h-2.6M1929.25 801.26h2.6M1949 801.26h-2.6M1929.25 863.18h2.6M1949 863.18h-2.6M1929.25 924.2h2.6M1949 924.2h-2.6" stroke="#222" stroke-width="0.8" fill="none"/>
<text x="1745.21" y="601.4" font-size="16" textLength="55.15" lengthAdjust="spacingAndGlyphs" stroke="#000" stroke-width="0.3">p-value</text>
<g font-size="16" stroke="#000" stroke-width="0.3"><text x="1710.96" y="970.8" textLength="28.38" lengthAdjust="spacingAndGlyphs">PSD</text> <text x="1743.48" y="970.8" textLength="42.69" lengthAdjust="spacingAndGlyphs">mPFC</text> <text x="1790.12" y="970.8" textLength="29.74" lengthAdjust="spacingAndGlyphs">(Hz)</text></g>
<g font-size="16" stroke="#000" stroke-width="0.3" transform="rotate(-90 1583.1 863.3)"><text x="1582.3" y="863.3" textLength="78.28" lengthAdjust="spacingAndGlyphs">Coherence</text> <text x="1665.16" y="863.3" textLength="81.74" lengthAdjust="spacingAndGlyphs">vHIP-mPFC</text> <text x="1750.35" y="863.3" textLength="30.44" lengthAdjust="spacingAndGlyphs">(Hz)</text></g>
</svg>
</body>
</html>
